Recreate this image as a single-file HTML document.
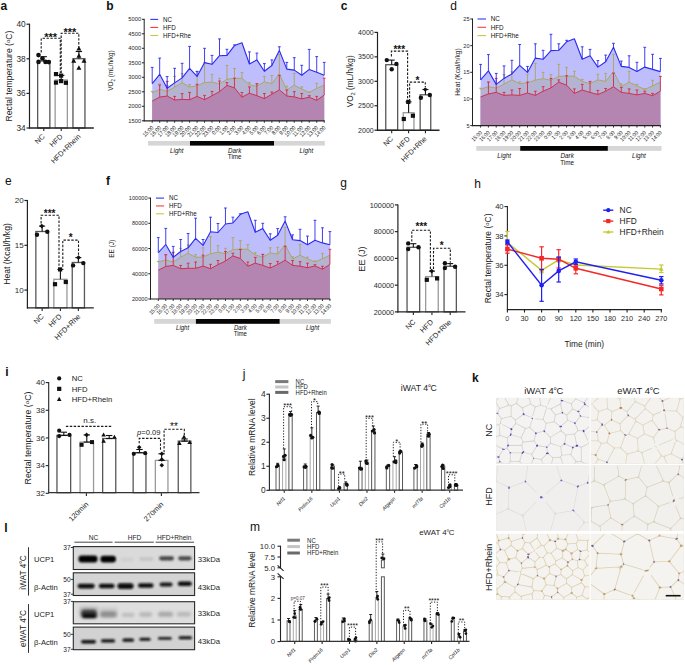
<!DOCTYPE html>
<html><head><meta charset="utf-8"><style>
html,body{margin:0;padding:0;background:#fff;}
body{width:685px;height:665px;overflow:hidden;}
svg{display:block;font-family:"Liberation Sans",sans-serif;}
</style></head><body>
<svg width="685" height="665" viewBox="0 0 685 665">
<rect x="0" y="0" width="685" height="665" fill="#fff"/>
<text x="0.5" y="9.5" font-size="12" font-weight="bold" fill="#111">a</text>
<line x1="29.5" y1="23.7" x2="29.5" y2="128.5" stroke="#222" stroke-width="1.2"/>
<line x1="26.5" y1="24.2" x2="29.5" y2="24.2" stroke="#222" stroke-width="1.2"/>
<text x="25.7" y="27.19" font-size="8.3" text-anchor="end" fill="#2a2a2a">40</text>
<line x1="26.5" y1="58.8" x2="29.5" y2="58.8" stroke="#222" stroke-width="1.2"/>
<text x="25.7" y="61.79" font-size="8.3" text-anchor="end" fill="#2a2a2a">38</text>
<line x1="26.5" y1="93.4" x2="29.5" y2="93.4" stroke="#222" stroke-width="1.2"/>
<text x="25.7" y="96.39" font-size="8.3" text-anchor="end" fill="#2a2a2a">36</text>
<line x1="26.5" y1="128" x2="29.5" y2="128" stroke="#222" stroke-width="1.2"/>
<text x="25.7" y="130.99" font-size="8.3" text-anchor="end" fill="#2a2a2a">34</text>
<line x1="43.75" y1="128" x2="43.75" y2="131" stroke="#222" stroke-width="1.1"/>
<rect x="37.65" y="61" width="12.2" height="67" fill="#fff" stroke="#585858" stroke-width="1.3"/>
<line x1="61.25" y1="128" x2="61.25" y2="131" stroke="#222" stroke-width="1.1"/>
<rect x="55.15" y="80" width="12.2" height="48" fill="#fff" stroke="#9a9a9a" stroke-width="1.3"/>
<line x1="78.95" y1="128" x2="78.95" y2="131" stroke="#222" stroke-width="1.1"/>
<rect x="72.95" y="58.7" width="12" height="69.3" fill="#fff" stroke="#585858" stroke-width="1.3"/>
<line x1="29" y1="128" x2="93.8" y2="128" stroke="#222" stroke-width="1.4"/>
<line x1="43.7" y1="61" x2="43.7" y2="56.7" stroke="#111" stroke-width="1.1"/>
<line x1="40.5" y1="56.7" x2="46.9" y2="56.7" stroke="#111" stroke-width="1.1"/>
<line x1="61.2" y1="80" x2="61.2" y2="75.4" stroke="#111" stroke-width="1.1"/>
<line x1="58" y1="75.4" x2="64.4" y2="75.4" stroke="#111" stroke-width="1.1"/>
<line x1="78.9" y1="58.7" x2="78.9" y2="51.5" stroke="#111" stroke-width="1.1"/>
<line x1="75.7" y1="51.5" x2="82.1" y2="51.5" stroke="#111" stroke-width="1.1"/>
<circle cx="38.5" cy="55.1" r="2.3" fill="#111"/>
<circle cx="42.4" cy="58.5" r="2.3" fill="#111"/>
<circle cx="38.5" cy="61.9" r="2.3" fill="#111"/>
<circle cx="45.5" cy="61.9" r="2.3" fill="#111"/>
<circle cx="48.8" cy="62.1" r="2.3" fill="#111"/>
<rect x="53.9" y="72" width="4.2" height="4.2" fill="#111" stroke="none" stroke-width="1"/>
<rect x="59" y="73.5" width="4.2" height="4.2" fill="#111" stroke="none" stroke-width="1"/>
<rect x="53.9" y="80.5" width="4.2" height="4.2" fill="#111" stroke="none" stroke-width="1"/>
<rect x="59" y="79" width="4.2" height="4.2" fill="#111" stroke="none" stroke-width="1"/>
<rect x="63.8" y="80.7" width="4.2" height="4.2" fill="#111" stroke="none" stroke-width="1"/>
<polygon points="78.9,45.9 76.4,50.4 81.4,50.4" fill="#111" stroke="none" stroke-width="1"/>
<polygon points="78.9,53.2 76.4,57.7 81.4,57.7" fill="#111" stroke="none" stroke-width="1"/>
<polygon points="73.7,58.2 71.2,62.7 76.2,62.7" fill="#111" stroke="none" stroke-width="1"/>
<polygon points="84,58.2 81.5,62.7 86.5,62.7" fill="#111" stroke="none" stroke-width="1"/>
<polygon points="78.9,65.2 76.4,69.7 81.4,69.7" fill="#111" stroke="none" stroke-width="1"/>
<polyline points="41.2,52.5 41.2,38.3 60.3,38.3 60.3,73" fill="none" stroke="#1a1a1a" stroke-width="1.1" stroke-dasharray="2.4,1.5"/>
<polyline points="61.2,73 61.2,33.2 78.8,33.2 78.8,47.2" fill="none" stroke="#1a1a1a" stroke-width="1.1" stroke-dasharray="2.4,1.5"/>
<text x="50.6" y="40.9" font-size="11" text-anchor="middle" font-weight="bold" fill="#111">***</text>
<text x="69.8" y="36" font-size="11" text-anchor="middle" font-weight="bold" fill="#111">***</text>
<text font-size="7.3" text-anchor="end" fill="#222" transform="translate(45.3 137) rotate(-45)">NC</text>
<text font-size="7.3" text-anchor="end" fill="#222" transform="translate(63.2 137) rotate(-45)">HFD</text>
<text font-size="7.3" text-anchor="end" fill="#222" transform="translate(81 137) rotate(-45)">HFD+Rhein</text>
<text font-size="8.6" text-anchor="middle" fill="#222" transform="translate(12 76) rotate(-90)">Rectal temperature (<tspan font-size="70%" dy="-2.2">o</tspan><tspan dy="2.2">C)</tspan></text>
<text x="106.2" y="9.6" font-size="12" font-weight="bold" fill="#111">b</text>
<polygon points="152.2,120.8 152.2,83.6 159.68,74.3 167.16,88.3 174.63,82.9 182.11,77.9 189.59,68.3 197.07,76.4 204.55,62.6 212.02,64.3 219.5,55.7 226.98,55.4 234.46,45.6 241.94,42.8 249.41,64 256.89,59.9 264.37,71.3 271.85,65.5 279.33,50.4 286.8,69.1 294.28,70.1 301.76,75.3 309.24,69.4 316.72,72.3 324.19,75.3 324.19,120.8" fill="#bebefc" stroke="none" stroke-width="1"/>
<polygon points="152.2,120.8 152.2,92.9 159.68,89.3 167.16,91.4 174.63,87.1 182.11,82.6 189.59,87.1 197.07,85.7 204.55,82.6 212.02,82.1 219.5,84 226.98,79.3 234.46,78.3 241.94,78.2 249.41,84.7 256.89,86.2 264.37,81.8 271.85,83.7 279.33,73.8 286.8,89.9 294.28,85.2 301.76,89.1 309.24,92.5 316.72,88.4 324.19,85.2 324.19,120.8" fill="#b4b4d2" stroke="none" stroke-width="1"/>
<polygon points="152.2,120.8 152.2,101.1 159.68,97.1 167.16,96 174.63,100 182.11,99.4 189.59,99.7 197.07,96.4 204.55,99.7 212.02,95.7 219.5,91.7 226.98,85.4 234.46,87.8 241.94,97.2 249.41,93.2 256.89,95.7 264.37,98.6 271.85,94.2 279.33,89.9 286.8,96 294.28,96.9 301.76,98.9 309.24,97.2 316.72,100.4 324.19,95 324.19,120.8" fill="#b385b0" stroke="none" stroke-width="1"/>
<line x1="152.2" y1="92.9" x2="152.2" y2="91.4" stroke="#aca55a" stroke-width="0.9"/>
<line x1="150.8" y1="91.4" x2="153.6" y2="91.4" stroke="#aca55a" stroke-width="0.9"/>
<line x1="159.68" y1="89.3" x2="159.68" y2="84" stroke="#aca55a" stroke-width="0.9"/>
<line x1="158.28" y1="84" x2="161.08" y2="84" stroke="#aca55a" stroke-width="0.9"/>
<line x1="167.16" y1="91.4" x2="167.16" y2="85.7" stroke="#aca55a" stroke-width="0.9"/>
<line x1="165.76" y1="85.7" x2="168.56" y2="85.7" stroke="#aca55a" stroke-width="0.9"/>
<line x1="174.63" y1="87.1" x2="174.63" y2="76.4" stroke="#aca55a" stroke-width="0.9"/>
<line x1="173.23" y1="76.4" x2="176.03" y2="76.4" stroke="#aca55a" stroke-width="0.9"/>
<line x1="182.11" y1="82.6" x2="182.11" y2="73.6" stroke="#aca55a" stroke-width="0.9"/>
<line x1="180.71" y1="73.6" x2="183.51" y2="73.6" stroke="#aca55a" stroke-width="0.9"/>
<line x1="189.59" y1="87.1" x2="189.59" y2="84.6" stroke="#aca55a" stroke-width="0.9"/>
<line x1="188.19" y1="84.6" x2="190.99" y2="84.6" stroke="#aca55a" stroke-width="0.9"/>
<line x1="197.07" y1="85.7" x2="197.07" y2="71.4" stroke="#aca55a" stroke-width="0.9"/>
<line x1="195.67" y1="71.4" x2="198.47" y2="71.4" stroke="#aca55a" stroke-width="0.9"/>
<line x1="204.55" y1="82.6" x2="204.55" y2="62.6" stroke="#aca55a" stroke-width="0.9"/>
<line x1="203.15" y1="62.6" x2="205.95" y2="62.6" stroke="#aca55a" stroke-width="0.9"/>
<line x1="212.02" y1="82.1" x2="212.02" y2="74.3" stroke="#aca55a" stroke-width="0.9"/>
<line x1="210.62" y1="74.3" x2="213.42" y2="74.3" stroke="#aca55a" stroke-width="0.9"/>
<line x1="219.5" y1="84" x2="219.5" y2="78.3" stroke="#aca55a" stroke-width="0.9"/>
<line x1="218.1" y1="78.3" x2="220.9" y2="78.3" stroke="#aca55a" stroke-width="0.9"/>
<line x1="226.98" y1="79.3" x2="226.98" y2="65.4" stroke="#aca55a" stroke-width="0.9"/>
<line x1="225.58" y1="65.4" x2="228.38" y2="65.4" stroke="#aca55a" stroke-width="0.9"/>
<line x1="234.46" y1="78.3" x2="234.46" y2="68.5" stroke="#aca55a" stroke-width="0.9"/>
<line x1="233.06" y1="68.5" x2="235.86" y2="68.5" stroke="#aca55a" stroke-width="0.9"/>
<line x1="241.94" y1="78.2" x2="241.94" y2="72.6" stroke="#aca55a" stroke-width="0.9"/>
<line x1="240.54" y1="72.6" x2="243.34" y2="72.6" stroke="#aca55a" stroke-width="0.9"/>
<line x1="249.41" y1="84.7" x2="249.41" y2="82.6" stroke="#aca55a" stroke-width="0.9"/>
<line x1="248.01" y1="82.6" x2="250.81" y2="82.6" stroke="#aca55a" stroke-width="0.9"/>
<line x1="256.89" y1="86.2" x2="256.89" y2="83.7" stroke="#aca55a" stroke-width="0.9"/>
<line x1="255.49" y1="83.7" x2="258.29" y2="83.7" stroke="#aca55a" stroke-width="0.9"/>
<line x1="264.37" y1="81.8" x2="264.37" y2="76.4" stroke="#aca55a" stroke-width="0.9"/>
<line x1="262.97" y1="76.4" x2="265.77" y2="76.4" stroke="#aca55a" stroke-width="0.9"/>
<line x1="271.85" y1="83.7" x2="271.85" y2="75.5" stroke="#aca55a" stroke-width="0.9"/>
<line x1="270.45" y1="75.5" x2="273.25" y2="75.5" stroke="#aca55a" stroke-width="0.9"/>
<line x1="279.33" y1="73.8" x2="279.33" y2="54.5" stroke="#aca55a" stroke-width="0.9"/>
<line x1="277.93" y1="54.5" x2="280.73" y2="54.5" stroke="#aca55a" stroke-width="0.9"/>
<line x1="286.8" y1="89.9" x2="286.8" y2="86.2" stroke="#aca55a" stroke-width="0.9"/>
<line x1="285.4" y1="86.2" x2="288.2" y2="86.2" stroke="#aca55a" stroke-width="0.9"/>
<line x1="294.28" y1="85.2" x2="294.28" y2="73.4" stroke="#aca55a" stroke-width="0.9"/>
<line x1="292.88" y1="73.4" x2="295.68" y2="73.4" stroke="#aca55a" stroke-width="0.9"/>
<line x1="301.76" y1="89.1" x2="301.76" y2="86.9" stroke="#aca55a" stroke-width="0.9"/>
<line x1="300.36" y1="86.9" x2="303.16" y2="86.9" stroke="#aca55a" stroke-width="0.9"/>
<line x1="309.24" y1="92.5" x2="309.24" y2="92" stroke="#aca55a" stroke-width="0.9"/>
<line x1="307.84" y1="92" x2="310.64" y2="92" stroke="#aca55a" stroke-width="0.9"/>
<line x1="316.72" y1="88.4" x2="316.72" y2="83.3" stroke="#aca55a" stroke-width="0.9"/>
<line x1="315.32" y1="83.3" x2="318.12" y2="83.3" stroke="#aca55a" stroke-width="0.9"/>
<polyline points="152.2,92.9 159.68,89.3 167.16,91.4 174.63,87.1 182.11,82.6 189.59,87.1 197.07,85.7 204.55,82.6 212.02,82.1 219.5,84 226.98,79.3 234.46,78.3 241.94,78.2 249.41,84.7 256.89,86.2 264.37,81.8 271.85,83.7 279.33,73.8 286.8,89.9 294.28,85.2 301.76,89.1 309.24,92.5 316.72,88.4 324.19,85.2" fill="none" stroke="#aca55a" stroke-width="0.95" stroke-linejoin="round"/>
<line x1="159.68" y1="97.1" x2="159.68" y2="85" stroke="#d2284e" stroke-width="0.9"/>
<line x1="158.28" y1="85" x2="161.08" y2="85" stroke="#d2284e" stroke-width="0.9"/>
<line x1="167.16" y1="96" x2="167.16" y2="81.4" stroke="#d2284e" stroke-width="0.9"/>
<line x1="165.76" y1="81.4" x2="168.56" y2="81.4" stroke="#d2284e" stroke-width="0.9"/>
<line x1="174.63" y1="100" x2="174.63" y2="96.4" stroke="#d2284e" stroke-width="0.9"/>
<line x1="173.23" y1="96.4" x2="176.03" y2="96.4" stroke="#d2284e" stroke-width="0.9"/>
<line x1="182.11" y1="99.4" x2="182.11" y2="93.6" stroke="#d2284e" stroke-width="0.9"/>
<line x1="180.71" y1="93.6" x2="183.51" y2="93.6" stroke="#d2284e" stroke-width="0.9"/>
<line x1="189.59" y1="99.7" x2="189.59" y2="92.4" stroke="#d2284e" stroke-width="0.9"/>
<line x1="188.19" y1="92.4" x2="190.99" y2="92.4" stroke="#d2284e" stroke-width="0.9"/>
<line x1="197.07" y1="96.4" x2="197.07" y2="84.3" stroke="#d2284e" stroke-width="0.9"/>
<line x1="195.67" y1="84.3" x2="198.47" y2="84.3" stroke="#d2284e" stroke-width="0.9"/>
<line x1="204.55" y1="99.7" x2="204.55" y2="95.4" stroke="#d2284e" stroke-width="0.9"/>
<line x1="203.15" y1="95.4" x2="205.95" y2="95.4" stroke="#d2284e" stroke-width="0.9"/>
<line x1="212.02" y1="95.7" x2="212.02" y2="91.4" stroke="#d2284e" stroke-width="0.9"/>
<line x1="210.62" y1="91.4" x2="213.42" y2="91.4" stroke="#d2284e" stroke-width="0.9"/>
<line x1="219.5" y1="91.7" x2="219.5" y2="81.1" stroke="#d2284e" stroke-width="0.9"/>
<line x1="218.1" y1="81.1" x2="220.9" y2="81.1" stroke="#d2284e" stroke-width="0.9"/>
<line x1="226.98" y1="85.4" x2="226.98" y2="82.6" stroke="#d2284e" stroke-width="0.9"/>
<line x1="225.58" y1="82.6" x2="228.38" y2="82.6" stroke="#d2284e" stroke-width="0.9"/>
<line x1="234.46" y1="87.8" x2="234.46" y2="78.2" stroke="#d2284e" stroke-width="0.9"/>
<line x1="233.06" y1="78.2" x2="235.86" y2="78.2" stroke="#d2284e" stroke-width="0.9"/>
<line x1="241.94" y1="97.2" x2="241.94" y2="92.5" stroke="#d2284e" stroke-width="0.9"/>
<line x1="240.54" y1="92.5" x2="243.34" y2="92.5" stroke="#d2284e" stroke-width="0.9"/>
<line x1="249.41" y1="93.2" x2="249.41" y2="86.9" stroke="#d2284e" stroke-width="0.9"/>
<line x1="248.01" y1="86.9" x2="250.81" y2="86.9" stroke="#d2284e" stroke-width="0.9"/>
<line x1="256.89" y1="95.7" x2="256.89" y2="83.7" stroke="#d2284e" stroke-width="0.9"/>
<line x1="255.49" y1="83.7" x2="258.29" y2="83.7" stroke="#d2284e" stroke-width="0.9"/>
<line x1="264.37" y1="98.6" x2="264.37" y2="93.5" stroke="#d2284e" stroke-width="0.9"/>
<line x1="262.97" y1="93.5" x2="265.77" y2="93.5" stroke="#d2284e" stroke-width="0.9"/>
<line x1="271.85" y1="94.2" x2="271.85" y2="92" stroke="#d2284e" stroke-width="0.9"/>
<line x1="270.45" y1="92" x2="273.25" y2="92" stroke="#d2284e" stroke-width="0.9"/>
<line x1="279.33" y1="89.9" x2="279.33" y2="75.3" stroke="#d2284e" stroke-width="0.9"/>
<line x1="277.93" y1="75.3" x2="280.73" y2="75.3" stroke="#d2284e" stroke-width="0.9"/>
<line x1="286.8" y1="96" x2="286.8" y2="90.1" stroke="#d2284e" stroke-width="0.9"/>
<line x1="285.4" y1="90.1" x2="288.2" y2="90.1" stroke="#d2284e" stroke-width="0.9"/>
<line x1="294.28" y1="96.9" x2="294.28" y2="91.6" stroke="#d2284e" stroke-width="0.9"/>
<line x1="292.88" y1="91.6" x2="295.68" y2="91.6" stroke="#d2284e" stroke-width="0.9"/>
<line x1="301.76" y1="98.9" x2="301.76" y2="93.5" stroke="#d2284e" stroke-width="0.9"/>
<line x1="300.36" y1="93.5" x2="303.16" y2="93.5" stroke="#d2284e" stroke-width="0.9"/>
<line x1="309.24" y1="97.2" x2="309.24" y2="95.7" stroke="#d2284e" stroke-width="0.9"/>
<line x1="307.84" y1="95.7" x2="310.64" y2="95.7" stroke="#d2284e" stroke-width="0.9"/>
<line x1="316.72" y1="100.4" x2="316.72" y2="96.4" stroke="#d2284e" stroke-width="0.9"/>
<line x1="315.32" y1="96.4" x2="318.12" y2="96.4" stroke="#d2284e" stroke-width="0.9"/>
<line x1="324.19" y1="95" x2="324.19" y2="78.2" stroke="#d2284e" stroke-width="0.9"/>
<line x1="322.79" y1="78.2" x2="325.59" y2="78.2" stroke="#d2284e" stroke-width="0.9"/>
<polyline points="152.2,101.1 159.68,97.1 167.16,96 174.63,100 182.11,99.4 189.59,99.7 197.07,96.4 204.55,99.7 212.02,95.7 219.5,91.7 226.98,85.4 234.46,87.8 241.94,97.2 249.41,93.2 256.89,95.7 264.37,98.6 271.85,94.2 279.33,89.9 286.8,96 294.28,96.9 301.76,98.9 309.24,97.2 316.72,100.4 324.19,95" fill="none" stroke="#d2284e" stroke-width="0.95" stroke-linejoin="round"/>
<line x1="152.2" y1="83.6" x2="152.2" y2="67.4" stroke="#2a2af2" stroke-width="0.9"/>
<line x1="150.8" y1="67.4" x2="153.6" y2="67.4" stroke="#2a2af2" stroke-width="0.9"/>
<line x1="159.68" y1="74.3" x2="159.68" y2="58.1" stroke="#2a2af2" stroke-width="0.9"/>
<line x1="158.28" y1="58.1" x2="161.08" y2="58.1" stroke="#2a2af2" stroke-width="0.9"/>
<line x1="167.16" y1="88.3" x2="167.16" y2="76.6" stroke="#2a2af2" stroke-width="0.9"/>
<line x1="165.76" y1="76.6" x2="168.56" y2="76.6" stroke="#2a2af2" stroke-width="0.9"/>
<line x1="174.63" y1="82.9" x2="174.63" y2="68.3" stroke="#2a2af2" stroke-width="0.9"/>
<line x1="173.23" y1="68.3" x2="176.03" y2="68.3" stroke="#2a2af2" stroke-width="0.9"/>
<line x1="182.11" y1="77.9" x2="182.11" y2="63.3" stroke="#2a2af2" stroke-width="0.9"/>
<line x1="180.71" y1="63.3" x2="183.51" y2="63.3" stroke="#2a2af2" stroke-width="0.9"/>
<line x1="189.59" y1="68.3" x2="189.59" y2="46.4" stroke="#2a2af2" stroke-width="0.9"/>
<line x1="188.19" y1="46.4" x2="190.99" y2="46.4" stroke="#2a2af2" stroke-width="0.9"/>
<line x1="197.07" y1="76.4" x2="197.07" y2="71.4" stroke="#2a2af2" stroke-width="0.9"/>
<line x1="195.67" y1="71.4" x2="198.47" y2="71.4" stroke="#2a2af2" stroke-width="0.9"/>
<line x1="204.55" y1="62.6" x2="204.55" y2="48.3" stroke="#2a2af2" stroke-width="0.9"/>
<line x1="203.15" y1="48.3" x2="205.95" y2="48.3" stroke="#2a2af2" stroke-width="0.9"/>
<line x1="212.02" y1="64.3" x2="212.02" y2="55.4" stroke="#2a2af2" stroke-width="0.9"/>
<line x1="210.62" y1="55.4" x2="213.42" y2="55.4" stroke="#2a2af2" stroke-width="0.9"/>
<line x1="219.5" y1="55.7" x2="219.5" y2="38.9" stroke="#2a2af2" stroke-width="0.9"/>
<line x1="218.1" y1="38.9" x2="220.9" y2="38.9" stroke="#2a2af2" stroke-width="0.9"/>
<line x1="226.98" y1="55.4" x2="226.98" y2="49.3" stroke="#2a2af2" stroke-width="0.9"/>
<line x1="225.58" y1="49.3" x2="228.38" y2="49.3" stroke="#2a2af2" stroke-width="0.9"/>
<line x1="234.46" y1="45.6" x2="234.46" y2="44.9" stroke="#2a2af2" stroke-width="0.9"/>
<line x1="233.06" y1="44.9" x2="235.86" y2="44.9" stroke="#2a2af2" stroke-width="0.9"/>
<line x1="249.41" y1="64" x2="249.41" y2="51.9" stroke="#2a2af2" stroke-width="0.9"/>
<line x1="248.01" y1="51.9" x2="250.81" y2="51.9" stroke="#2a2af2" stroke-width="0.9"/>
<line x1="256.89" y1="59.9" x2="256.89" y2="53.1" stroke="#2a2af2" stroke-width="0.9"/>
<line x1="255.49" y1="53.1" x2="258.29" y2="53.1" stroke="#2a2af2" stroke-width="0.9"/>
<line x1="264.37" y1="71.3" x2="264.37" y2="63.6" stroke="#2a2af2" stroke-width="0.9"/>
<line x1="262.97" y1="63.6" x2="265.77" y2="63.6" stroke="#2a2af2" stroke-width="0.9"/>
<line x1="271.85" y1="65.5" x2="271.85" y2="59.9" stroke="#2a2af2" stroke-width="0.9"/>
<line x1="270.45" y1="59.9" x2="273.25" y2="59.9" stroke="#2a2af2" stroke-width="0.9"/>
<line x1="279.33" y1="50.4" x2="279.33" y2="46.8" stroke="#2a2af2" stroke-width="0.9"/>
<line x1="277.93" y1="46.8" x2="280.73" y2="46.8" stroke="#2a2af2" stroke-width="0.9"/>
<line x1="286.8" y1="69.1" x2="286.8" y2="62.4" stroke="#2a2af2" stroke-width="0.9"/>
<line x1="285.4" y1="62.4" x2="288.2" y2="62.4" stroke="#2a2af2" stroke-width="0.9"/>
<line x1="294.28" y1="70.1" x2="294.28" y2="57.7" stroke="#2a2af2" stroke-width="0.9"/>
<line x1="292.88" y1="57.7" x2="295.68" y2="57.7" stroke="#2a2af2" stroke-width="0.9"/>
<line x1="301.76" y1="75.3" x2="301.76" y2="65.3" stroke="#2a2af2" stroke-width="0.9"/>
<line x1="300.36" y1="65.3" x2="303.16" y2="65.3" stroke="#2a2af2" stroke-width="0.9"/>
<line x1="309.24" y1="69.4" x2="309.24" y2="49.4" stroke="#2a2af2" stroke-width="0.9"/>
<line x1="307.84" y1="49.4" x2="310.64" y2="49.4" stroke="#2a2af2" stroke-width="0.9"/>
<line x1="316.72" y1="72.3" x2="316.72" y2="56.6" stroke="#2a2af2" stroke-width="0.9"/>
<line x1="315.32" y1="56.6" x2="318.12" y2="56.6" stroke="#2a2af2" stroke-width="0.9"/>
<line x1="324.19" y1="75.3" x2="324.19" y2="62.4" stroke="#2a2af2" stroke-width="0.9"/>
<line x1="322.79" y1="62.4" x2="325.59" y2="62.4" stroke="#2a2af2" stroke-width="0.9"/>
<polyline points="152.2,83.6 159.68,74.3 167.16,88.3 174.63,82.9 182.11,77.9 189.59,68.3 197.07,76.4 204.55,62.6 212.02,64.3 219.5,55.7 226.98,55.4 234.46,45.6 241.94,42.8 249.41,64 256.89,59.9 264.37,71.3 271.85,65.5 279.33,50.4 286.8,69.1 294.28,70.1 301.76,75.3 309.24,69.4 316.72,72.3 324.19,75.3" fill="none" stroke="#2a2af2" stroke-width="1.1" stroke-linejoin="round"/>
<line x1="144.2" y1="18.8" x2="144.2" y2="121.3" stroke="#222" stroke-width="1"/>
<line x1="142" y1="19.3" x2="144.2" y2="19.3" stroke="#222" stroke-width="1"/>
<text x="141.2" y="21.39" font-size="5.8" text-anchor="end" fill="#2a2a2a">5000</text>
<line x1="142" y1="33.8" x2="144.2" y2="33.8" stroke="#222" stroke-width="1"/>
<text x="141.2" y="35.89" font-size="5.8" text-anchor="end" fill="#2a2a2a">4500</text>
<line x1="142" y1="48.3" x2="144.2" y2="48.3" stroke="#222" stroke-width="1"/>
<text x="141.2" y="50.39" font-size="5.8" text-anchor="end" fill="#2a2a2a">4000</text>
<line x1="142" y1="62.8" x2="144.2" y2="62.8" stroke="#222" stroke-width="1"/>
<text x="141.2" y="64.89" font-size="5.8" text-anchor="end" fill="#2a2a2a">3500</text>
<line x1="142" y1="77.3" x2="144.2" y2="77.3" stroke="#222" stroke-width="1"/>
<text x="141.2" y="79.39" font-size="5.8" text-anchor="end" fill="#2a2a2a">3000</text>
<line x1="142" y1="91.8" x2="144.2" y2="91.8" stroke="#222" stroke-width="1"/>
<text x="141.2" y="93.89" font-size="5.8" text-anchor="end" fill="#2a2a2a">2500</text>
<line x1="142" y1="106.3" x2="144.2" y2="106.3" stroke="#222" stroke-width="1"/>
<text x="141.2" y="108.39" font-size="5.8" text-anchor="end" fill="#2a2a2a">2000</text>
<line x1="142" y1="120.8" x2="144.2" y2="120.8" stroke="#222" stroke-width="1"/>
<text x="141.2" y="122.89" font-size="5.8" text-anchor="end" fill="#2a2a2a">1500</text>
<line x1="143.7" y1="120.8" x2="324.69" y2="120.8" stroke="#222" stroke-width="1.2"/>
<line x1="152.2" y1="120.8" x2="152.2" y2="122.8" stroke="#222" stroke-width="0.9"/>
<text font-size="5.82" text-anchor="end" fill="#1a1a1a" transform="translate(154 128.2) rotate(-45) scale(0.880 1)">15:00</text>
<line x1="159.68" y1="120.8" x2="159.68" y2="122.8" stroke="#222" stroke-width="0.9"/>
<text font-size="5.82" text-anchor="end" fill="#1a1a1a" transform="translate(161.48 128.2) rotate(-45) scale(0.880 1)">16:00</text>
<line x1="167.16" y1="120.8" x2="167.16" y2="122.8" stroke="#222" stroke-width="0.9"/>
<text font-size="5.82" text-anchor="end" fill="#1a1a1a" transform="translate(168.96 128.2) rotate(-45) scale(0.880 1)">17:00</text>
<line x1="174.63" y1="120.8" x2="174.63" y2="122.8" stroke="#222" stroke-width="0.9"/>
<text font-size="5.82" text-anchor="end" fill="#1a1a1a" transform="translate(176.43 128.2) rotate(-45) scale(0.880 1)">18:00</text>
<line x1="182.11" y1="120.8" x2="182.11" y2="122.8" stroke="#222" stroke-width="0.9"/>
<text font-size="5.82" text-anchor="end" fill="#1a1a1a" transform="translate(183.91 128.2) rotate(-45) scale(0.880 1)">19:00</text>
<line x1="189.59" y1="120.8" x2="189.59" y2="122.8" stroke="#222" stroke-width="0.9"/>
<text font-size="5.82" text-anchor="end" fill="#1a1a1a" transform="translate(191.39 128.2) rotate(-45) scale(0.880 1)">20:00</text>
<line x1="197.07" y1="120.8" x2="197.07" y2="122.8" stroke="#222" stroke-width="0.9"/>
<text font-size="5.82" text-anchor="end" fill="#1a1a1a" transform="translate(198.87 128.2) rotate(-45) scale(0.880 1)">21:00</text>
<line x1="204.55" y1="120.8" x2="204.55" y2="122.8" stroke="#222" stroke-width="0.9"/>
<text font-size="5.82" text-anchor="end" fill="#1a1a1a" transform="translate(206.35 128.2) rotate(-45) scale(0.880 1)">22:00</text>
<line x1="212.02" y1="120.8" x2="212.02" y2="122.8" stroke="#222" stroke-width="0.9"/>
<text font-size="5.82" text-anchor="end" fill="#1a1a1a" transform="translate(213.82 128.2) rotate(-45) scale(0.880 1)">23:00</text>
<line x1="219.5" y1="120.8" x2="219.5" y2="122.8" stroke="#222" stroke-width="0.9"/>
<text font-size="5.82" text-anchor="end" fill="#1a1a1a" transform="translate(221.3 128.2) rotate(-45) scale(0.880 1)">0:00</text>
<line x1="226.98" y1="120.8" x2="226.98" y2="122.8" stroke="#222" stroke-width="0.9"/>
<text font-size="5.82" text-anchor="end" fill="#1a1a1a" transform="translate(228.78 128.2) rotate(-45) scale(0.880 1)">1:00</text>
<line x1="234.46" y1="120.8" x2="234.46" y2="122.8" stroke="#222" stroke-width="0.9"/>
<text font-size="5.82" text-anchor="end" fill="#1a1a1a" transform="translate(236.26 128.2) rotate(-45) scale(0.880 1)">2:00</text>
<line x1="241.94" y1="120.8" x2="241.94" y2="122.8" stroke="#222" stroke-width="0.9"/>
<text font-size="5.82" text-anchor="end" fill="#1a1a1a" transform="translate(243.74 128.2) rotate(-45) scale(0.880 1)">3:00</text>
<line x1="249.41" y1="120.8" x2="249.41" y2="122.8" stroke="#222" stroke-width="0.9"/>
<text font-size="5.82" text-anchor="end" fill="#1a1a1a" transform="translate(251.21 128.2) rotate(-45) scale(0.880 1)">4:00</text>
<line x1="256.89" y1="120.8" x2="256.89" y2="122.8" stroke="#222" stroke-width="0.9"/>
<text font-size="5.82" text-anchor="end" fill="#1a1a1a" transform="translate(258.69 128.2) rotate(-45) scale(0.880 1)">5:00</text>
<line x1="264.37" y1="120.8" x2="264.37" y2="122.8" stroke="#222" stroke-width="0.9"/>
<text font-size="5.82" text-anchor="end" fill="#1a1a1a" transform="translate(266.17 128.2) rotate(-45) scale(0.880 1)">6:00</text>
<line x1="271.85" y1="120.8" x2="271.85" y2="122.8" stroke="#222" stroke-width="0.9"/>
<text font-size="5.82" text-anchor="end" fill="#1a1a1a" transform="translate(273.65 128.2) rotate(-45) scale(0.880 1)">7:00</text>
<line x1="279.33" y1="120.8" x2="279.33" y2="122.8" stroke="#222" stroke-width="0.9"/>
<text font-size="5.82" text-anchor="end" fill="#1a1a1a" transform="translate(281.13 128.2) rotate(-45) scale(0.880 1)">8:00</text>
<line x1="286.8" y1="120.8" x2="286.8" y2="122.8" stroke="#222" stroke-width="0.9"/>
<text font-size="5.82" text-anchor="end" fill="#1a1a1a" transform="translate(288.6 128.2) rotate(-45) scale(0.880 1)">9:00</text>
<line x1="294.28" y1="120.8" x2="294.28" y2="122.8" stroke="#222" stroke-width="0.9"/>
<text font-size="5.82" text-anchor="end" fill="#1a1a1a" transform="translate(296.08 128.2) rotate(-45) scale(0.880 1)">10:00</text>
<line x1="301.76" y1="120.8" x2="301.76" y2="122.8" stroke="#222" stroke-width="0.9"/>
<text font-size="5.82" text-anchor="end" fill="#1a1a1a" transform="translate(303.56 128.2) rotate(-45) scale(0.880 1)">11:00</text>
<line x1="309.24" y1="120.8" x2="309.24" y2="122.8" stroke="#222" stroke-width="0.9"/>
<text font-size="5.82" text-anchor="end" fill="#1a1a1a" transform="translate(311.04 128.2) rotate(-45) scale(0.880 1)">12:00</text>
<line x1="316.72" y1="120.8" x2="316.72" y2="122.8" stroke="#222" stroke-width="0.9"/>
<text font-size="5.82" text-anchor="end" fill="#1a1a1a" transform="translate(318.52 128.2) rotate(-45) scale(0.880 1)">13:00</text>
<line x1="324.19" y1="120.8" x2="324.19" y2="122.8" stroke="#222" stroke-width="0.9"/>
<text font-size="5.82" text-anchor="end" fill="#1a1a1a" transform="translate(325.99 128.2) rotate(-45) scale(0.880 1)">14:00</text>
<line x1="150.3" y1="19.4" x2="158.2" y2="19.4" stroke="#3434ff" stroke-width="1.1"/>
<text font-size="6.45" fill="#111" transform="translate(163 21.72) scale(0.970 1)">NC</text>
<line x1="150.3" y1="27.45" x2="158.2" y2="27.45" stroke="#ff3a3a" stroke-width="1.1"/>
<text font-size="6.45" fill="#111" transform="translate(163 29.77) scale(0.970 1)">HFD</text>
<line x1="150.3" y1="35.5" x2="158.2" y2="35.5" stroke="#c8c84a" stroke-width="1.1"/>
<text font-size="6.45" fill="#111" transform="translate(163 37.82) scale(0.970 1)">HFD+Rhe</text>
<rect x="148" y="141" width="42" height="4.6" fill="#d6d6d6" stroke="none" stroke-width="1"/>
<rect x="190" y="141" width="84" height="4.6" fill="#050505" stroke="none" stroke-width="1"/>
<rect x="274" y="141" width="50.8" height="4.6" fill="#d6d6d6" stroke="none" stroke-width="1"/>
<text font-size="6.6" text-anchor="middle" font-style="italic" fill="#111" transform="translate(176.8 152.6) scale(0.950 1)">Light</text>
<text font-size="6.6" text-anchor="middle" font-style="italic" fill="#111" transform="translate(234.7 152.6) scale(0.950 1)">Dark</text>
<text font-size="6.6" text-anchor="middle" font-style="italic" fill="#111" transform="translate(306.4 152.6) scale(0.950 1)">Light</text>
<text font-size="6.6" text-anchor="middle" fill="#111" transform="translate(234.7 158.8) scale(0.950 1)">Time</text>
<text font-size="6.4" text-anchor="middle" fill="#222" transform="translate(113.2 70.5) rotate(-90)">VO<tspan font-size="70%" dy="1.5">2</tspan><tspan dy="-1.5"> (mL/h/kg)</tspan></text>
<text x="340.8" y="9.6" font-size="12" font-weight="bold" fill="#111">c</text>
<line x1="377.5" y1="31.9" x2="377.5" y2="130.7" stroke="#222" stroke-width="1.2"/>
<line x1="374.5" y1="32.4" x2="377.5" y2="32.4" stroke="#222" stroke-width="1.2"/>
<text x="373.7" y="34.92" font-size="7" text-anchor="end" fill="#2a2a2a">4000</text>
<line x1="374.5" y1="56.85" x2="377.5" y2="56.85" stroke="#222" stroke-width="1.2"/>
<text x="373.7" y="59.37" font-size="7" text-anchor="end" fill="#2a2a2a">3500</text>
<line x1="374.5" y1="81.3" x2="377.5" y2="81.3" stroke="#222" stroke-width="1.2"/>
<text x="373.7" y="83.82" font-size="7" text-anchor="end" fill="#2a2a2a">3000</text>
<line x1="374.5" y1="105.75" x2="377.5" y2="105.75" stroke="#222" stroke-width="1.2"/>
<text x="373.7" y="108.27" font-size="7" text-anchor="end" fill="#2a2a2a">2500</text>
<line x1="374.5" y1="130.2" x2="377.5" y2="130.2" stroke="#222" stroke-width="1.2"/>
<text x="373.7" y="132.72" font-size="7" text-anchor="end" fill="#2a2a2a">2000</text>
<line x1="391.7" y1="130.2" x2="391.7" y2="133.2" stroke="#222" stroke-width="1.1"/>
<rect x="385.75" y="64.7" width="11.9" height="65.5" fill="#fff" stroke="#585858" stroke-width="1.3"/>
<line x1="408.6" y1="130.2" x2="408.6" y2="133.2" stroke="#222" stroke-width="1.1"/>
<rect x="403.25" y="112.7" width="10.7" height="17.5" fill="#fff" stroke="#9a9a9a" stroke-width="1.3"/>
<line x1="425.45" y1="130.2" x2="425.45" y2="133.2" stroke="#222" stroke-width="1.1"/>
<rect x="420.15" y="94.8" width="10.6" height="35.4" fill="#fff" stroke="#585858" stroke-width="1.3"/>
<line x1="377" y1="130.2" x2="439.5" y2="130.2" stroke="#222" stroke-width="1.4"/>
<line x1="391.7" y1="64.7" x2="391.7" y2="60.1" stroke="#111" stroke-width="1.1"/>
<line x1="388.7" y1="60.1" x2="394.7" y2="60.1" stroke="#111" stroke-width="1.1"/>
<line x1="408.6" y1="112.7" x2="408.6" y2="101.9" stroke="#111" stroke-width="1.1"/>
<line x1="405.6" y1="101.9" x2="411.6" y2="101.9" stroke="#111" stroke-width="1.1"/>
<line x1="425.45" y1="94.8" x2="425.45" y2="89.5" stroke="#111" stroke-width="1.1"/>
<line x1="422.45" y1="89.5" x2="428.45" y2="89.5" stroke="#111" stroke-width="1.1"/>
<circle cx="386.8" cy="60.1" r="2.2" fill="#111"/>
<circle cx="396.4" cy="63.9" r="2.2" fill="#111"/>
<circle cx="391.7" cy="69.3" r="2.2" fill="#111"/>
<rect x="406.2" y="99.8" width="4.2" height="4.2" fill="#111" stroke="none" stroke-width="1"/>
<rect x="401.7" y="116.9" width="4.2" height="4.2" fill="#111" stroke="none" stroke-width="1"/>
<rect x="410.8" y="113.6" width="4.2" height="4.2" fill="#111" stroke="none" stroke-width="1"/>
<circle cx="420.9" cy="97.8" r="2.2" fill="#111"/>
<circle cx="429.8" cy="95" r="2.2" fill="#111"/>
<polygon points="425.3,87.2 427.6,89.5 425.3,91.8 423,89.5" fill="#111" stroke="none" stroke-width="1"/>
<polyline points="391.4,56.4 391.4,51.1 407.6,51.1 407.6,101.4" fill="none" stroke="#1a1a1a" stroke-width="1.1" stroke-dasharray="2.4,1.5"/>
<polyline points="409.6,101.4 409.6,82.1 425.3,82.1 425.3,87" fill="none" stroke="#1a1a1a" stroke-width="1.1" stroke-dasharray="2.4,1.5"/>
<text x="399.3" y="53" font-size="10" text-anchor="middle" font-weight="bold" fill="#111">***</text>
<text x="417.5" y="83.7" font-size="10" text-anchor="middle" font-weight="bold" fill="#111">*</text>
<text font-size="7.3" text-anchor="end" fill="#222" transform="translate(393.6 139.3) rotate(-45)">NC</text>
<text font-size="7.3" text-anchor="end" fill="#222" transform="translate(410.4 139.3) rotate(-45)">HFD</text>
<text font-size="7.3" text-anchor="end" fill="#222" transform="translate(427.2 139.3) rotate(-45)">HFD+Rhe</text>
<text font-size="8.2" text-anchor="middle" fill="#222" transform="translate(353.2 81.3) rotate(-90)">VO<tspan font-size="70%" dy="1.5">2</tspan><tspan dy="-1.5"> (mL/h/kg)</tspan></text>
<text x="450.3" y="9.6" font-size="12" fill="#111">d</text>
<polygon points="480.6,125.6 480.6,79.9 488.42,70.9 496.23,84.4 504.05,78.4 511.87,73.9 519.69,65.3 527.5,72.4 535.32,58.1 543.14,59.3 550.95,50.6 558.77,50.3 566.59,41.8 574.4,38.8 582.22,59.3 590.04,55.8 597.86,67.1 605.67,61.8 613.49,47.3 621.31,66.4 629.12,67.4 636.94,71.6 644.76,67.1 652.57,69.4 660.39,71.6 660.39,125.6" fill="#bebefc" stroke="none" stroke-width="1"/>
<polygon points="480.6,125.6 480.6,89.2 488.42,86.7 496.23,88 504.05,84.2 511.87,79.7 519.69,83.8 527.5,82.7 535.32,80.2 543.14,78.7 550.95,80.3 558.77,76.4 566.59,75.8 574.4,76.4 582.22,81.4 590.04,83.6 597.86,79.9 605.67,81.4 613.49,71.6 621.31,86.7 629.12,82.1 636.94,85.9 644.76,89.4 652.57,85.9 660.39,82.1 660.39,125.6" fill="#b4b4d2" stroke="none" stroke-width="1"/>
<polygon points="480.6,125.6 480.6,96.9 488.42,93.9 496.23,92.4 504.05,95.4 511.87,94.9 519.69,95.4 527.5,93 535.32,95.4 543.14,91.2 550.95,87.9 558.77,82.1 566.59,85.2 574.4,93.4 582.22,90 590.04,92.4 597.86,94.5 605.67,91.2 613.49,86.7 621.31,92.4 629.12,93.4 636.94,94.9 644.76,93.4 652.57,95.7 660.39,91.2 660.39,125.6" fill="#b385b0" stroke="none" stroke-width="1"/>
<line x1="480.6" y1="89.2" x2="480.6" y2="88.2" stroke="#aca55a" stroke-width="0.9"/>
<line x1="479.2" y1="88.2" x2="482" y2="88.2" stroke="#aca55a" stroke-width="0.9"/>
<line x1="488.42" y1="86.7" x2="488.42" y2="81.8" stroke="#aca55a" stroke-width="0.9"/>
<line x1="487.02" y1="81.8" x2="489.82" y2="81.8" stroke="#aca55a" stroke-width="0.9"/>
<line x1="504.05" y1="84.2" x2="504.05" y2="74.6" stroke="#aca55a" stroke-width="0.9"/>
<line x1="502.65" y1="74.6" x2="505.45" y2="74.6" stroke="#aca55a" stroke-width="0.9"/>
<line x1="511.87" y1="79.7" x2="511.87" y2="71.9" stroke="#aca55a" stroke-width="0.9"/>
<line x1="510.47" y1="71.9" x2="513.27" y2="71.9" stroke="#aca55a" stroke-width="0.9"/>
<line x1="519.69" y1="83.8" x2="519.69" y2="81.8" stroke="#aca55a" stroke-width="0.9"/>
<line x1="518.29" y1="81.8" x2="521.09" y2="81.8" stroke="#aca55a" stroke-width="0.9"/>
<line x1="527.5" y1="82.7" x2="527.5" y2="74.3" stroke="#aca55a" stroke-width="0.9"/>
<line x1="526.1" y1="74.3" x2="528.9" y2="74.3" stroke="#aca55a" stroke-width="0.9"/>
<line x1="535.32" y1="80.2" x2="535.32" y2="63.3" stroke="#aca55a" stroke-width="0.9"/>
<line x1="533.92" y1="63.3" x2="536.72" y2="63.3" stroke="#aca55a" stroke-width="0.9"/>
<line x1="543.14" y1="78.7" x2="543.14" y2="72.4" stroke="#aca55a" stroke-width="0.9"/>
<line x1="541.74" y1="72.4" x2="544.54" y2="72.4" stroke="#aca55a" stroke-width="0.9"/>
<line x1="550.95" y1="80.3" x2="550.95" y2="74.6" stroke="#aca55a" stroke-width="0.9"/>
<line x1="549.55" y1="74.6" x2="552.35" y2="74.6" stroke="#aca55a" stroke-width="0.9"/>
<line x1="558.77" y1="76.4" x2="558.77" y2="64.4" stroke="#aca55a" stroke-width="0.9"/>
<line x1="557.37" y1="64.4" x2="560.17" y2="64.4" stroke="#aca55a" stroke-width="0.9"/>
<line x1="566.59" y1="75.8" x2="566.59" y2="67.4" stroke="#aca55a" stroke-width="0.9"/>
<line x1="565.19" y1="67.4" x2="567.99" y2="67.4" stroke="#aca55a" stroke-width="0.9"/>
<line x1="574.4" y1="76.4" x2="574.4" y2="71.3" stroke="#aca55a" stroke-width="0.9"/>
<line x1="573" y1="71.3" x2="575.8" y2="71.3" stroke="#aca55a" stroke-width="0.9"/>
<line x1="582.22" y1="81.4" x2="582.22" y2="79.4" stroke="#aca55a" stroke-width="0.9"/>
<line x1="580.82" y1="79.4" x2="583.62" y2="79.4" stroke="#aca55a" stroke-width="0.9"/>
<line x1="590.04" y1="83.6" x2="590.04" y2="82.9" stroke="#aca55a" stroke-width="0.9"/>
<line x1="588.64" y1="82.9" x2="591.44" y2="82.9" stroke="#aca55a" stroke-width="0.9"/>
<line x1="597.86" y1="79.9" x2="597.86" y2="74.3" stroke="#aca55a" stroke-width="0.9"/>
<line x1="596.46" y1="74.3" x2="599.25" y2="74.3" stroke="#aca55a" stroke-width="0.9"/>
<line x1="605.67" y1="81.4" x2="605.67" y2="73.4" stroke="#aca55a" stroke-width="0.9"/>
<line x1="604.27" y1="73.4" x2="607.07" y2="73.4" stroke="#aca55a" stroke-width="0.9"/>
<line x1="613.49" y1="71.6" x2="613.49" y2="54.3" stroke="#aca55a" stroke-width="0.9"/>
<line x1="612.09" y1="54.3" x2="614.89" y2="54.3" stroke="#aca55a" stroke-width="0.9"/>
<line x1="621.31" y1="86.7" x2="621.31" y2="83.9" stroke="#aca55a" stroke-width="0.9"/>
<line x1="619.91" y1="83.9" x2="622.71" y2="83.9" stroke="#aca55a" stroke-width="0.9"/>
<line x1="629.12" y1="82.1" x2="629.12" y2="71.3" stroke="#aca55a" stroke-width="0.9"/>
<line x1="627.72" y1="71.3" x2="630.52" y2="71.3" stroke="#aca55a" stroke-width="0.9"/>
<line x1="636.94" y1="85.9" x2="636.94" y2="84.4" stroke="#aca55a" stroke-width="0.9"/>
<line x1="635.54" y1="84.4" x2="638.34" y2="84.4" stroke="#aca55a" stroke-width="0.9"/>
<line x1="644.76" y1="89.4" x2="644.76" y2="88.9" stroke="#aca55a" stroke-width="0.9"/>
<line x1="643.36" y1="88.9" x2="646.16" y2="88.9" stroke="#aca55a" stroke-width="0.9"/>
<line x1="652.57" y1="85.9" x2="652.57" y2="80.3" stroke="#aca55a" stroke-width="0.9"/>
<line x1="651.17" y1="80.3" x2="653.97" y2="80.3" stroke="#aca55a" stroke-width="0.9"/>
<polyline points="480.6,89.2 488.42,86.7 496.23,88 504.05,84.2 511.87,79.7 519.69,83.8 527.5,82.7 535.32,80.2 543.14,78.7 550.95,80.3 558.77,76.4 566.59,75.8 574.4,76.4 582.22,81.4 590.04,83.6 597.86,79.9 605.67,81.4 613.49,71.6 621.31,86.7 629.12,82.1 636.94,85.9 644.76,89.4 652.57,85.9 660.39,82.1" fill="none" stroke="#aca55a" stroke-width="0.95" stroke-linejoin="round"/>
<line x1="488.42" y1="93.9" x2="488.42" y2="82.1" stroke="#d2284e" stroke-width="0.9"/>
<line x1="487.02" y1="82.1" x2="489.82" y2="82.1" stroke="#d2284e" stroke-width="0.9"/>
<line x1="496.23" y1="92.4" x2="496.23" y2="78.4" stroke="#d2284e" stroke-width="0.9"/>
<line x1="494.83" y1="78.4" x2="497.63" y2="78.4" stroke="#d2284e" stroke-width="0.9"/>
<line x1="504.05" y1="95.4" x2="504.05" y2="92.4" stroke="#d2284e" stroke-width="0.9"/>
<line x1="502.65" y1="92.4" x2="505.45" y2="92.4" stroke="#d2284e" stroke-width="0.9"/>
<line x1="511.87" y1="94.9" x2="511.87" y2="90" stroke="#d2284e" stroke-width="0.9"/>
<line x1="510.47" y1="90" x2="513.27" y2="90" stroke="#d2284e" stroke-width="0.9"/>
<line x1="519.69" y1="95.4" x2="519.69" y2="88.5" stroke="#d2284e" stroke-width="0.9"/>
<line x1="518.29" y1="88.5" x2="521.09" y2="88.5" stroke="#d2284e" stroke-width="0.9"/>
<line x1="527.5" y1="93" x2="527.5" y2="82.1" stroke="#d2284e" stroke-width="0.9"/>
<line x1="526.1" y1="82.1" x2="528.9" y2="82.1" stroke="#d2284e" stroke-width="0.9"/>
<line x1="535.32" y1="95.4" x2="535.32" y2="91.2" stroke="#d2284e" stroke-width="0.9"/>
<line x1="533.92" y1="91.2" x2="536.72" y2="91.2" stroke="#d2284e" stroke-width="0.9"/>
<line x1="543.14" y1="91.2" x2="543.14" y2="86.7" stroke="#d2284e" stroke-width="0.9"/>
<line x1="541.74" y1="86.7" x2="544.54" y2="86.7" stroke="#d2284e" stroke-width="0.9"/>
<line x1="550.95" y1="87.9" x2="550.95" y2="78.4" stroke="#d2284e" stroke-width="0.9"/>
<line x1="549.55" y1="78.4" x2="552.35" y2="78.4" stroke="#d2284e" stroke-width="0.9"/>
<line x1="558.77" y1="82.1" x2="558.77" y2="79.9" stroke="#d2284e" stroke-width="0.9"/>
<line x1="557.37" y1="79.9" x2="560.17" y2="79.9" stroke="#d2284e" stroke-width="0.9"/>
<line x1="566.59" y1="85.2" x2="566.59" y2="75.8" stroke="#d2284e" stroke-width="0.9"/>
<line x1="565.19" y1="75.8" x2="567.99" y2="75.8" stroke="#d2284e" stroke-width="0.9"/>
<line x1="574.4" y1="93.4" x2="574.4" y2="88.9" stroke="#d2284e" stroke-width="0.9"/>
<line x1="573" y1="88.9" x2="575.8" y2="88.9" stroke="#d2284e" stroke-width="0.9"/>
<line x1="582.22" y1="90" x2="582.22" y2="84.4" stroke="#d2284e" stroke-width="0.9"/>
<line x1="580.82" y1="84.4" x2="583.62" y2="84.4" stroke="#d2284e" stroke-width="0.9"/>
<line x1="590.04" y1="92.4" x2="590.04" y2="81.4" stroke="#d2284e" stroke-width="0.9"/>
<line x1="588.64" y1="81.4" x2="591.44" y2="81.4" stroke="#d2284e" stroke-width="0.9"/>
<line x1="597.86" y1="94.5" x2="597.86" y2="90.4" stroke="#d2284e" stroke-width="0.9"/>
<line x1="596.46" y1="90.4" x2="599.25" y2="90.4" stroke="#d2284e" stroke-width="0.9"/>
<line x1="605.67" y1="91.2" x2="605.67" y2="88.5" stroke="#d2284e" stroke-width="0.9"/>
<line x1="604.27" y1="88.5" x2="607.07" y2="88.5" stroke="#d2284e" stroke-width="0.9"/>
<line x1="613.49" y1="86.7" x2="613.49" y2="73.1" stroke="#d2284e" stroke-width="0.9"/>
<line x1="612.09" y1="73.1" x2="614.89" y2="73.1" stroke="#d2284e" stroke-width="0.9"/>
<line x1="621.31" y1="92.4" x2="621.31" y2="87.4" stroke="#d2284e" stroke-width="0.9"/>
<line x1="619.91" y1="87.4" x2="622.71" y2="87.4" stroke="#d2284e" stroke-width="0.9"/>
<line x1="629.12" y1="93.4" x2="629.12" y2="88.9" stroke="#d2284e" stroke-width="0.9"/>
<line x1="627.72" y1="88.9" x2="630.52" y2="88.9" stroke="#d2284e" stroke-width="0.9"/>
<line x1="636.94" y1="94.9" x2="636.94" y2="90" stroke="#d2284e" stroke-width="0.9"/>
<line x1="635.54" y1="90" x2="638.34" y2="90" stroke="#d2284e" stroke-width="0.9"/>
<line x1="644.76" y1="93.4" x2="644.76" y2="91.2" stroke="#d2284e" stroke-width="0.9"/>
<line x1="643.36" y1="91.2" x2="646.16" y2="91.2" stroke="#d2284e" stroke-width="0.9"/>
<line x1="652.57" y1="95.7" x2="652.57" y2="93.4" stroke="#d2284e" stroke-width="0.9"/>
<line x1="651.17" y1="93.4" x2="653.97" y2="93.4" stroke="#d2284e" stroke-width="0.9"/>
<line x1="660.39" y1="91.2" x2="660.39" y2="76.4" stroke="#d2284e" stroke-width="0.9"/>
<line x1="658.99" y1="76.4" x2="661.79" y2="76.4" stroke="#d2284e" stroke-width="0.9"/>
<polyline points="480.6,96.9 488.42,93.9 496.23,92.4 504.05,95.4 511.87,94.9 519.69,95.4 527.5,93 535.32,95.4 543.14,91.2 550.95,87.9 558.77,82.1 566.59,85.2 574.4,93.4 582.22,90 590.04,92.4 597.86,94.5 605.67,91.2 613.49,86.7 621.31,92.4 629.12,93.4 636.94,94.9 644.76,93.4 652.57,95.7 660.39,91.2" fill="none" stroke="#d2284e" stroke-width="0.95" stroke-linejoin="round"/>
<line x1="480.6" y1="79.9" x2="480.6" y2="64.4" stroke="#2a2af2" stroke-width="0.9"/>
<line x1="479.2" y1="64.4" x2="482" y2="64.4" stroke="#2a2af2" stroke-width="0.9"/>
<line x1="488.42" y1="70.9" x2="488.42" y2="54.6" stroke="#2a2af2" stroke-width="0.9"/>
<line x1="487.02" y1="54.6" x2="489.82" y2="54.6" stroke="#2a2af2" stroke-width="0.9"/>
<line x1="496.23" y1="84.4" x2="496.23" y2="73.4" stroke="#2a2af2" stroke-width="0.9"/>
<line x1="494.83" y1="73.4" x2="497.63" y2="73.4" stroke="#2a2af2" stroke-width="0.9"/>
<line x1="504.05" y1="78.4" x2="504.05" y2="65.9" stroke="#2a2af2" stroke-width="0.9"/>
<line x1="502.65" y1="65.9" x2="505.45" y2="65.9" stroke="#2a2af2" stroke-width="0.9"/>
<line x1="511.87" y1="73.9" x2="511.87" y2="60.3" stroke="#2a2af2" stroke-width="0.9"/>
<line x1="510.47" y1="60.3" x2="513.27" y2="60.3" stroke="#2a2af2" stroke-width="0.9"/>
<line x1="519.69" y1="65.3" x2="519.69" y2="44.5" stroke="#2a2af2" stroke-width="0.9"/>
<line x1="518.29" y1="44.5" x2="521.09" y2="44.5" stroke="#2a2af2" stroke-width="0.9"/>
<line x1="527.5" y1="72.4" x2="527.5" y2="66.4" stroke="#2a2af2" stroke-width="0.9"/>
<line x1="526.1" y1="66.4" x2="528.9" y2="66.4" stroke="#2a2af2" stroke-width="0.9"/>
<line x1="535.32" y1="58.1" x2="535.32" y2="43.8" stroke="#2a2af2" stroke-width="0.9"/>
<line x1="533.92" y1="43.8" x2="536.72" y2="43.8" stroke="#2a2af2" stroke-width="0.9"/>
<line x1="543.14" y1="59.3" x2="543.14" y2="50.3" stroke="#2a2af2" stroke-width="0.9"/>
<line x1="541.74" y1="50.3" x2="544.54" y2="50.3" stroke="#2a2af2" stroke-width="0.9"/>
<line x1="550.95" y1="50.6" x2="550.95" y2="34.3" stroke="#2a2af2" stroke-width="0.9"/>
<line x1="549.55" y1="34.3" x2="552.35" y2="34.3" stroke="#2a2af2" stroke-width="0.9"/>
<line x1="558.77" y1="50.3" x2="558.77" y2="43.8" stroke="#2a2af2" stroke-width="0.9"/>
<line x1="557.37" y1="43.8" x2="560.17" y2="43.8" stroke="#2a2af2" stroke-width="0.9"/>
<line x1="566.59" y1="41.8" x2="566.59" y2="40.3" stroke="#2a2af2" stroke-width="0.9"/>
<line x1="565.19" y1="40.3" x2="567.99" y2="40.3" stroke="#2a2af2" stroke-width="0.9"/>
<line x1="582.22" y1="59.3" x2="582.22" y2="46.8" stroke="#2a2af2" stroke-width="0.9"/>
<line x1="580.82" y1="46.8" x2="583.62" y2="46.8" stroke="#2a2af2" stroke-width="0.9"/>
<line x1="590.04" y1="55.8" x2="590.04" y2="49.4" stroke="#2a2af2" stroke-width="0.9"/>
<line x1="588.64" y1="49.4" x2="591.44" y2="49.4" stroke="#2a2af2" stroke-width="0.9"/>
<line x1="597.86" y1="67.1" x2="597.86" y2="60.6" stroke="#2a2af2" stroke-width="0.9"/>
<line x1="596.46" y1="60.6" x2="599.25" y2="60.6" stroke="#2a2af2" stroke-width="0.9"/>
<line x1="605.67" y1="61.8" x2="605.67" y2="55.1" stroke="#2a2af2" stroke-width="0.9"/>
<line x1="604.27" y1="55.1" x2="607.07" y2="55.1" stroke="#2a2af2" stroke-width="0.9"/>
<line x1="613.49" y1="47.3" x2="613.49" y2="43.3" stroke="#2a2af2" stroke-width="0.9"/>
<line x1="612.09" y1="43.3" x2="614.89" y2="43.3" stroke="#2a2af2" stroke-width="0.9"/>
<line x1="621.31" y1="66.4" x2="621.31" y2="61.1" stroke="#2a2af2" stroke-width="0.9"/>
<line x1="619.91" y1="61.1" x2="622.71" y2="61.1" stroke="#2a2af2" stroke-width="0.9"/>
<line x1="629.12" y1="67.4" x2="629.12" y2="55.8" stroke="#2a2af2" stroke-width="0.9"/>
<line x1="627.72" y1="55.8" x2="630.52" y2="55.8" stroke="#2a2af2" stroke-width="0.9"/>
<line x1="636.94" y1="71.6" x2="636.94" y2="62.3" stroke="#2a2af2" stroke-width="0.9"/>
<line x1="635.54" y1="62.3" x2="638.34" y2="62.3" stroke="#2a2af2" stroke-width="0.9"/>
<line x1="644.76" y1="67.1" x2="644.76" y2="47.3" stroke="#2a2af2" stroke-width="0.9"/>
<line x1="643.36" y1="47.3" x2="646.16" y2="47.3" stroke="#2a2af2" stroke-width="0.9"/>
<line x1="652.57" y1="69.4" x2="652.57" y2="54.3" stroke="#2a2af2" stroke-width="0.9"/>
<line x1="651.17" y1="54.3" x2="653.97" y2="54.3" stroke="#2a2af2" stroke-width="0.9"/>
<line x1="660.39" y1="71.6" x2="660.39" y2="58.4" stroke="#2a2af2" stroke-width="0.9"/>
<line x1="658.99" y1="58.4" x2="661.79" y2="58.4" stroke="#2a2af2" stroke-width="0.9"/>
<polyline points="480.6,79.9 488.42,70.9 496.23,84.4 504.05,78.4 511.87,73.9 519.69,65.3 527.5,72.4 535.32,58.1 543.14,59.3 550.95,50.6 558.77,50.3 566.59,41.8 574.4,38.8 582.22,59.3 590.04,55.8 597.86,67.1 605.67,61.8 613.49,47.3 621.31,66.4 629.12,67.4 636.94,71.6 644.76,67.1 652.57,69.4 660.39,71.6" fill="none" stroke="#2a2af2" stroke-width="1.1" stroke-linejoin="round"/>
<line x1="472.5" y1="18.5" x2="472.5" y2="126.1" stroke="#222" stroke-width="1"/>
<line x1="470.3" y1="19" x2="472.5" y2="19" stroke="#222" stroke-width="1"/>
<text x="469.5" y="21.02" font-size="5.6" text-anchor="end" fill="#2a2a2a">25</text>
<line x1="470.3" y1="45.65" x2="472.5" y2="45.65" stroke="#222" stroke-width="1"/>
<text x="469.5" y="47.67" font-size="5.6" text-anchor="end" fill="#2a2a2a">20</text>
<line x1="470.3" y1="72.3" x2="472.5" y2="72.3" stroke="#222" stroke-width="1"/>
<text x="469.5" y="74.32" font-size="5.6" text-anchor="end" fill="#2a2a2a">15</text>
<line x1="470.3" y1="98.95" x2="472.5" y2="98.95" stroke="#222" stroke-width="1"/>
<text x="469.5" y="100.97" font-size="5.6" text-anchor="end" fill="#2a2a2a">10</text>
<line x1="470.3" y1="125.6" x2="472.5" y2="125.6" stroke="#222" stroke-width="1"/>
<text x="469.5" y="127.62" font-size="5.6" text-anchor="end" fill="#2a2a2a">5</text>
<line x1="472" y1="125.6" x2="660.89" y2="125.6" stroke="#222" stroke-width="1.2"/>
<line x1="480.6" y1="125.6" x2="480.6" y2="127.6" stroke="#222" stroke-width="0.9"/>
<text font-size="5.6" text-anchor="end" fill="#1a1a1a" transform="translate(482.4 133) rotate(-45) scale(0.880 1)">15:00</text>
<line x1="488.42" y1="125.6" x2="488.42" y2="127.6" stroke="#222" stroke-width="0.9"/>
<text font-size="5.6" text-anchor="end" fill="#1a1a1a" transform="translate(490.22 133) rotate(-45) scale(0.880 1)">16:00</text>
<line x1="496.23" y1="125.6" x2="496.23" y2="127.6" stroke="#222" stroke-width="0.9"/>
<text font-size="5.6" text-anchor="end" fill="#1a1a1a" transform="translate(498.03 133) rotate(-45) scale(0.880 1)">17:00</text>
<line x1="504.05" y1="125.6" x2="504.05" y2="127.6" stroke="#222" stroke-width="0.9"/>
<text font-size="5.6" text-anchor="end" fill="#1a1a1a" transform="translate(505.85 133) rotate(-45) scale(0.880 1)">18:00</text>
<line x1="511.87" y1="125.6" x2="511.87" y2="127.6" stroke="#222" stroke-width="0.9"/>
<text font-size="5.6" text-anchor="end" fill="#1a1a1a" transform="translate(513.67 133) rotate(-45) scale(0.880 1)">19:00</text>
<line x1="519.69" y1="125.6" x2="519.69" y2="127.6" stroke="#222" stroke-width="0.9"/>
<text font-size="5.6" text-anchor="end" fill="#1a1a1a" transform="translate(521.49 133) rotate(-45) scale(0.880 1)">20:00</text>
<line x1="527.5" y1="125.6" x2="527.5" y2="127.6" stroke="#222" stroke-width="0.9"/>
<text font-size="5.6" text-anchor="end" fill="#1a1a1a" transform="translate(529.3 133) rotate(-45) scale(0.880 1)">21:00</text>
<line x1="535.32" y1="125.6" x2="535.32" y2="127.6" stroke="#222" stroke-width="0.9"/>
<text font-size="5.6" text-anchor="end" fill="#1a1a1a" transform="translate(537.12 133) rotate(-45) scale(0.880 1)">22:00</text>
<line x1="543.14" y1="125.6" x2="543.14" y2="127.6" stroke="#222" stroke-width="0.9"/>
<text font-size="5.6" text-anchor="end" fill="#1a1a1a" transform="translate(544.94 133) rotate(-45) scale(0.880 1)">23:00</text>
<line x1="550.95" y1="125.6" x2="550.95" y2="127.6" stroke="#222" stroke-width="0.9"/>
<text font-size="5.6" text-anchor="end" fill="#1a1a1a" transform="translate(552.75 133) rotate(-45) scale(0.880 1)">0:00</text>
<line x1="558.77" y1="125.6" x2="558.77" y2="127.6" stroke="#222" stroke-width="0.9"/>
<text font-size="5.6" text-anchor="end" fill="#1a1a1a" transform="translate(560.57 133) rotate(-45) scale(0.880 1)">1:00</text>
<line x1="566.59" y1="125.6" x2="566.59" y2="127.6" stroke="#222" stroke-width="0.9"/>
<text font-size="5.6" text-anchor="end" fill="#1a1a1a" transform="translate(568.39 133) rotate(-45) scale(0.880 1)">2:00</text>
<line x1="574.4" y1="125.6" x2="574.4" y2="127.6" stroke="#222" stroke-width="0.9"/>
<text font-size="5.6" text-anchor="end" fill="#1a1a1a" transform="translate(576.2 133) rotate(-45) scale(0.880 1)">3:00</text>
<line x1="582.22" y1="125.6" x2="582.22" y2="127.6" stroke="#222" stroke-width="0.9"/>
<text font-size="5.6" text-anchor="end" fill="#1a1a1a" transform="translate(584.02 133) rotate(-45) scale(0.880 1)">4:00</text>
<line x1="590.04" y1="125.6" x2="590.04" y2="127.6" stroke="#222" stroke-width="0.9"/>
<text font-size="5.6" text-anchor="end" fill="#1a1a1a" transform="translate(591.84 133) rotate(-45) scale(0.880 1)">5:00</text>
<line x1="597.86" y1="125.6" x2="597.86" y2="127.6" stroke="#222" stroke-width="0.9"/>
<text font-size="5.6" text-anchor="end" fill="#1a1a1a" transform="translate(599.65 133) rotate(-45) scale(0.880 1)">6:00</text>
<line x1="605.67" y1="125.6" x2="605.67" y2="127.6" stroke="#222" stroke-width="0.9"/>
<text font-size="5.6" text-anchor="end" fill="#1a1a1a" transform="translate(607.47 133) rotate(-45) scale(0.880 1)">7:00</text>
<line x1="613.49" y1="125.6" x2="613.49" y2="127.6" stroke="#222" stroke-width="0.9"/>
<text font-size="5.6" text-anchor="end" fill="#1a1a1a" transform="translate(615.29 133) rotate(-45) scale(0.880 1)">8:00</text>
<line x1="621.31" y1="125.6" x2="621.31" y2="127.6" stroke="#222" stroke-width="0.9"/>
<text font-size="5.6" text-anchor="end" fill="#1a1a1a" transform="translate(623.11 133) rotate(-45) scale(0.880 1)">9:00</text>
<line x1="629.12" y1="125.6" x2="629.12" y2="127.6" stroke="#222" stroke-width="0.9"/>
<text font-size="5.6" text-anchor="end" fill="#1a1a1a" transform="translate(630.92 133) rotate(-45) scale(0.880 1)">10:00</text>
<line x1="636.94" y1="125.6" x2="636.94" y2="127.6" stroke="#222" stroke-width="0.9"/>
<text font-size="5.6" text-anchor="end" fill="#1a1a1a" transform="translate(638.74 133) rotate(-45) scale(0.880 1)">11:00</text>
<line x1="644.76" y1="125.6" x2="644.76" y2="127.6" stroke="#222" stroke-width="0.9"/>
<text font-size="5.6" text-anchor="end" fill="#1a1a1a" transform="translate(646.56 133) rotate(-45) scale(0.880 1)">12:00</text>
<line x1="652.57" y1="125.6" x2="652.57" y2="127.6" stroke="#222" stroke-width="0.9"/>
<text font-size="5.6" text-anchor="end" fill="#1a1a1a" transform="translate(654.37 133) rotate(-45) scale(0.880 1)">13:00</text>
<line x1="660.39" y1="125.6" x2="660.39" y2="127.6" stroke="#222" stroke-width="0.9"/>
<text font-size="5.6" text-anchor="end" fill="#1a1a1a" transform="translate(662.19 133) rotate(-45) scale(0.880 1)">14:00</text>
<line x1="477.5" y1="19" x2="486" y2="19" stroke="#3434ff" stroke-width="1.1"/>
<text font-size="6.5" fill="#111" transform="translate(490.7 21.34) scale(0.970 1)">NC</text>
<line x1="477.5" y1="27.3" x2="486" y2="27.3" stroke="#ff3a3a" stroke-width="1.1"/>
<text font-size="6.5" fill="#111" transform="translate(490.7 29.64) scale(0.970 1)">HFD</text>
<line x1="477.5" y1="35.6" x2="486" y2="35.6" stroke="#c8c84a" stroke-width="1.1"/>
<text font-size="6.5" fill="#111" transform="translate(490.7 37.94) scale(0.970 1)">HFD+Rhe</text>
<rect x="476.3" y="146" width="43.9" height="4.8" fill="#d6d6d6" stroke="none" stroke-width="1"/>
<rect x="520.2" y="146" width="87.7" height="4.8" fill="#050505" stroke="none" stroke-width="1"/>
<rect x="607.9" y="146" width="53.6" height="4.8" fill="#d6d6d6" stroke="none" stroke-width="1"/>
<text font-size="6.7" text-anchor="middle" font-style="italic" fill="#111" transform="translate(504.1 158.2) scale(0.950 1)">Light</text>
<text font-size="6.7" text-anchor="middle" font-style="italic" fill="#111" transform="translate(567.1 158.2) scale(0.950 1)">Dark</text>
<text font-size="6.7" text-anchor="middle" font-style="italic" fill="#111" transform="translate(639 158.2) scale(0.950 1)">Light</text>
<text font-size="6.7" text-anchor="middle" fill="#111" transform="translate(567.1 164.6) scale(0.950 1)">Time</text>
<text font-size="6.6" text-anchor="middle" fill="#222" transform="translate(459.6 72) rotate(-90)">Heat (Kcal/h/kg)</text>
<text x="5" y="184.6" font-size="12" fill="#111">e</text>
<line x1="27.4" y1="200" x2="27.4" y2="308.4" stroke="#222" stroke-width="1.2"/>
<line x1="24.4" y1="200.5" x2="27.4" y2="200.5" stroke="#222" stroke-width="1.2"/>
<text x="23.6" y="203.38" font-size="8" text-anchor="end" fill="#2a2a2a">20</text>
<line x1="24.4" y1="245.3" x2="27.4" y2="245.3" stroke="#222" stroke-width="1.2"/>
<text x="23.6" y="248.18" font-size="8" text-anchor="end" fill="#2a2a2a">15</text>
<line x1="24.4" y1="290.1" x2="27.4" y2="290.1" stroke="#222" stroke-width="1.2"/>
<text x="23.6" y="292.98" font-size="8" text-anchor="end" fill="#2a2a2a">10</text>
<line x1="42.15" y1="307.9" x2="42.15" y2="310.9" stroke="#222" stroke-width="1.1"/>
<rect x="35.85" y="231.5" width="12.6" height="76.4" fill="#fff" stroke="#585858" stroke-width="1.3"/>
<line x1="60.4" y1="307.9" x2="60.4" y2="310.9" stroke="#222" stroke-width="1.1"/>
<rect x="53.85" y="279.3" width="13.1" height="28.6" fill="#fff" stroke="#9a9a9a" stroke-width="1.3"/>
<line x1="78.35" y1="307.9" x2="78.35" y2="310.9" stroke="#222" stroke-width="1.1"/>
<rect x="72.25" y="262.5" width="12.2" height="45.4" fill="#fff" stroke="#585858" stroke-width="1.3"/>
<line x1="26.9" y1="307.9" x2="93.8" y2="307.9" stroke="#222" stroke-width="1.4"/>
<line x1="42.15" y1="231.5" x2="42.15" y2="226.1" stroke="#111" stroke-width="1.1"/>
<line x1="39.15" y1="226.1" x2="45.15" y2="226.1" stroke="#111" stroke-width="1.1"/>
<line x1="60.4" y1="279.3" x2="60.4" y2="269.4" stroke="#111" stroke-width="1.1"/>
<line x1="57.4" y1="269.4" x2="63.4" y2="269.4" stroke="#111" stroke-width="1.1"/>
<line x1="78.35" y1="262.5" x2="78.35" y2="257.6" stroke="#111" stroke-width="1.1"/>
<line x1="75.35" y1="257.6" x2="81.35" y2="257.6" stroke="#111" stroke-width="1.1"/>
<polygon points="41.8,223.7 44.2,226.1 41.8,228.5 39.4,226.1" fill="#111" stroke="none" stroke-width="1"/>
<circle cx="37" cy="234.7" r="2.2" fill="#111"/>
<circle cx="47.3" cy="231.8" r="2.2" fill="#111"/>
<rect x="58" y="267.3" width="4.2" height="4.2" fill="#111" stroke="none" stroke-width="1"/>
<rect x="52.9" y="282.1" width="4.2" height="4.2" fill="#111" stroke="none" stroke-width="1"/>
<rect x="63.7" y="279.9" width="4.2" height="4.2" fill="#111" stroke="none" stroke-width="1"/>
<polygon points="78.5,255.2 80.9,257.6 78.5,260 76.1,257.6" fill="#111" stroke="none" stroke-width="1"/>
<circle cx="73.1" cy="265.4" r="2.2" fill="#111"/>
<circle cx="83.3" cy="263.1" r="2.2" fill="#111"/>
<polyline points="41.1,223.4 41.1,215.3 59,215.3 59,266.7" fill="none" stroke="#1a1a1a" stroke-width="1.1" stroke-dasharray="2.4,1.5"/>
<polyline points="62.8,266.7 62.8,240.1 78.5,240.1 78.5,256.4" fill="none" stroke="#1a1a1a" stroke-width="1.1" stroke-dasharray="2.4,1.5"/>
<text x="49.6" y="217" font-size="10" text-anchor="middle" font-weight="bold" fill="#111">***</text>
<text x="70.7" y="240.8" font-size="10" text-anchor="middle" font-weight="bold" fill="#111">*</text>
<text font-size="7.4" text-anchor="end" fill="#222" transform="translate(44.4 317) rotate(-45)">NC</text>
<text font-size="7.4" text-anchor="end" fill="#222" transform="translate(62.2 317) rotate(-45)">HFD</text>
<text font-size="7.4" text-anchor="end" fill="#222" transform="translate(81 317) rotate(-45)">HFD+Rhe</text>
<text font-size="8.6" text-anchor="middle" fill="#222" transform="translate(9.8 254) rotate(-90)">Heat (Kcal/h/kg)</text>
<text x="106" y="184.6" font-size="12" font-weight="bold" fill="#111">f</text>
<polygon points="158.3,299 158.3,252.7 165.76,244.5 173.22,257.3 180.68,251.5 188.14,247.8 195.61,238.4 203.07,245.4 210.53,231.8 217.99,232.5 225.45,224 232.91,223 240.37,214.3 247.83,211.7 255.29,232.3 262.75,228.6 270.22,240.3 277.68,235.3 285.14,221.1 292.6,239.8 300.06,240.6 307.52,244.8 314.98,240.3 322.44,242.9 329.9,244.8 329.9,299" fill="#bebefc" stroke="none" stroke-width="1"/>
<polygon points="158.3,299 158.3,262 165.76,260 173.22,262 180.68,257.3 188.14,253.2 195.61,257.3 203.07,257 210.53,253.7 217.99,252.2 225.45,253.7 232.91,249.7 240.37,249.1 247.83,249.3 255.29,254.9 262.75,257.1 270.22,252.9 277.68,254.1 285.14,244.8 292.6,258.9 300.06,255.3 307.52,258.9 314.98,262 322.44,258.6 329.9,255.3 329.9,299" fill="#b4b4d2" stroke="none" stroke-width="1"/>
<polygon points="158.3,299 158.3,270.2 165.76,266.4 173.22,265.4 180.68,268.7 188.14,268.3 195.61,268.3 203.07,266.1 210.53,268.7 217.99,264.6 225.45,261 232.91,255.9 240.37,258.5 247.83,266.2 255.29,263.2 262.75,265.4 270.22,268 277.68,264.4 285.14,260.2 292.6,265.4 300.06,266.2 307.52,267.7 314.98,265.9 322.44,269.2 329.9,264.4 329.9,299" fill="#b385b0" stroke="none" stroke-width="1"/>
<line x1="158.3" y1="262" x2="158.3" y2="261.4" stroke="#aca55a" stroke-width="0.9"/>
<line x1="156.9" y1="261.4" x2="159.7" y2="261.4" stroke="#aca55a" stroke-width="0.9"/>
<line x1="165.76" y1="260" x2="165.76" y2="254.7" stroke="#aca55a" stroke-width="0.9"/>
<line x1="164.36" y1="254.7" x2="167.16" y2="254.7" stroke="#aca55a" stroke-width="0.9"/>
<line x1="173.22" y1="262" x2="173.22" y2="252.7" stroke="#aca55a" stroke-width="0.9"/>
<line x1="171.82" y1="252.7" x2="174.62" y2="252.7" stroke="#aca55a" stroke-width="0.9"/>
<line x1="180.68" y1="257.3" x2="180.68" y2="248.3" stroke="#aca55a" stroke-width="0.9"/>
<line x1="179.28" y1="248.3" x2="182.08" y2="248.3" stroke="#aca55a" stroke-width="0.9"/>
<line x1="188.14" y1="253.2" x2="188.14" y2="244.9" stroke="#aca55a" stroke-width="0.9"/>
<line x1="186.74" y1="244.9" x2="189.54" y2="244.9" stroke="#aca55a" stroke-width="0.9"/>
<line x1="195.61" y1="257.3" x2="195.61" y2="254.7" stroke="#aca55a" stroke-width="0.9"/>
<line x1="194.21" y1="254.7" x2="197.01" y2="254.7" stroke="#aca55a" stroke-width="0.9"/>
<line x1="203.07" y1="257" x2="203.07" y2="247.8" stroke="#aca55a" stroke-width="0.9"/>
<line x1="201.67" y1="247.8" x2="204.47" y2="247.8" stroke="#aca55a" stroke-width="0.9"/>
<line x1="210.53" y1="253.7" x2="210.53" y2="236.6" stroke="#aca55a" stroke-width="0.9"/>
<line x1="209.13" y1="236.6" x2="211.93" y2="236.6" stroke="#aca55a" stroke-width="0.9"/>
<line x1="217.99" y1="252.2" x2="217.99" y2="245.7" stroke="#aca55a" stroke-width="0.9"/>
<line x1="216.59" y1="245.7" x2="219.39" y2="245.7" stroke="#aca55a" stroke-width="0.9"/>
<line x1="225.45" y1="253.7" x2="225.45" y2="248.3" stroke="#aca55a" stroke-width="0.9"/>
<line x1="224.05" y1="248.3" x2="226.85" y2="248.3" stroke="#aca55a" stroke-width="0.9"/>
<line x1="232.91" y1="249.7" x2="232.91" y2="237.6" stroke="#aca55a" stroke-width="0.9"/>
<line x1="231.51" y1="237.6" x2="234.31" y2="237.6" stroke="#aca55a" stroke-width="0.9"/>
<line x1="240.37" y1="249.1" x2="240.37" y2="240.6" stroke="#aca55a" stroke-width="0.9"/>
<line x1="238.97" y1="240.6" x2="241.77" y2="240.6" stroke="#aca55a" stroke-width="0.9"/>
<line x1="247.83" y1="249.3" x2="247.83" y2="244.5" stroke="#aca55a" stroke-width="0.9"/>
<line x1="246.43" y1="244.5" x2="249.23" y2="244.5" stroke="#aca55a" stroke-width="0.9"/>
<line x1="255.29" y1="254.9" x2="255.29" y2="252.6" stroke="#aca55a" stroke-width="0.9"/>
<line x1="253.89" y1="252.6" x2="256.69" y2="252.6" stroke="#aca55a" stroke-width="0.9"/>
<line x1="262.75" y1="257.1" x2="262.75" y2="254.4" stroke="#aca55a" stroke-width="0.9"/>
<line x1="261.35" y1="254.4" x2="264.15" y2="254.4" stroke="#aca55a" stroke-width="0.9"/>
<line x1="270.22" y1="252.9" x2="270.22" y2="247.8" stroke="#aca55a" stroke-width="0.9"/>
<line x1="268.82" y1="247.8" x2="271.62" y2="247.8" stroke="#aca55a" stroke-width="0.9"/>
<line x1="277.68" y1="254.1" x2="277.68" y2="247.4" stroke="#aca55a" stroke-width="0.9"/>
<line x1="276.28" y1="247.4" x2="279.08" y2="247.4" stroke="#aca55a" stroke-width="0.9"/>
<line x1="285.14" y1="244.8" x2="285.14" y2="227.5" stroke="#aca55a" stroke-width="0.9"/>
<line x1="283.74" y1="227.5" x2="286.54" y2="227.5" stroke="#aca55a" stroke-width="0.9"/>
<line x1="292.6" y1="258.9" x2="292.6" y2="256.8" stroke="#aca55a" stroke-width="0.9"/>
<line x1="291.2" y1="256.8" x2="294" y2="256.8" stroke="#aca55a" stroke-width="0.9"/>
<line x1="300.06" y1="255.3" x2="300.06" y2="244.5" stroke="#aca55a" stroke-width="0.9"/>
<line x1="298.66" y1="244.5" x2="301.46" y2="244.5" stroke="#aca55a" stroke-width="0.9"/>
<line x1="307.52" y1="258.9" x2="307.52" y2="257.1" stroke="#aca55a" stroke-width="0.9"/>
<line x1="306.12" y1="257.1" x2="308.92" y2="257.1" stroke="#aca55a" stroke-width="0.9"/>
<line x1="314.98" y1="262" x2="314.98" y2="260.9" stroke="#aca55a" stroke-width="0.9"/>
<line x1="313.58" y1="260.9" x2="316.38" y2="260.9" stroke="#aca55a" stroke-width="0.9"/>
<line x1="322.44" y1="258.6" x2="322.44" y2="253.4" stroke="#aca55a" stroke-width="0.9"/>
<line x1="321.04" y1="253.4" x2="323.84" y2="253.4" stroke="#aca55a" stroke-width="0.9"/>
<polyline points="158.3,262 165.76,260 173.22,262 180.68,257.3 188.14,253.2 195.61,257.3 203.07,257 210.53,253.7 217.99,252.2 225.45,253.7 232.91,249.7 240.37,249.1 247.83,249.3 255.29,254.9 262.75,257.1 270.22,252.9 277.68,254.1 285.14,244.8 292.6,258.9 300.06,255.3 307.52,258.9 314.98,262 322.44,258.6 329.9,255.3" fill="none" stroke="#aca55a" stroke-width="0.95" stroke-linejoin="round"/>
<line x1="165.76" y1="266.4" x2="165.76" y2="254.7" stroke="#d2284e" stroke-width="0.9"/>
<line x1="164.36" y1="254.7" x2="167.16" y2="254.7" stroke="#d2284e" stroke-width="0.9"/>
<line x1="173.22" y1="265.4" x2="173.22" y2="252.2" stroke="#d2284e" stroke-width="0.9"/>
<line x1="171.82" y1="252.2" x2="174.62" y2="252.2" stroke="#d2284e" stroke-width="0.9"/>
<line x1="180.68" y1="268.7" x2="180.68" y2="265.4" stroke="#d2284e" stroke-width="0.9"/>
<line x1="179.28" y1="265.4" x2="182.08" y2="265.4" stroke="#d2284e" stroke-width="0.9"/>
<line x1="188.14" y1="268.3" x2="188.14" y2="263.2" stroke="#d2284e" stroke-width="0.9"/>
<line x1="186.74" y1="263.2" x2="189.54" y2="263.2" stroke="#d2284e" stroke-width="0.9"/>
<line x1="195.61" y1="268.3" x2="195.61" y2="262" stroke="#d2284e" stroke-width="0.9"/>
<line x1="194.21" y1="262" x2="197.01" y2="262" stroke="#d2284e" stroke-width="0.9"/>
<line x1="203.07" y1="266.1" x2="203.07" y2="255.1" stroke="#d2284e" stroke-width="0.9"/>
<line x1="201.67" y1="255.1" x2="204.47" y2="255.1" stroke="#d2284e" stroke-width="0.9"/>
<line x1="210.53" y1="268.7" x2="210.53" y2="264.3" stroke="#d2284e" stroke-width="0.9"/>
<line x1="209.13" y1="264.3" x2="211.93" y2="264.3" stroke="#d2284e" stroke-width="0.9"/>
<line x1="217.99" y1="264.6" x2="217.99" y2="260.5" stroke="#d2284e" stroke-width="0.9"/>
<line x1="216.59" y1="260.5" x2="219.39" y2="260.5" stroke="#d2284e" stroke-width="0.9"/>
<line x1="225.45" y1="261" x2="225.45" y2="251.5" stroke="#d2284e" stroke-width="0.9"/>
<line x1="224.05" y1="251.5" x2="226.85" y2="251.5" stroke="#d2284e" stroke-width="0.9"/>
<line x1="232.91" y1="255.9" x2="232.91" y2="253.2" stroke="#d2284e" stroke-width="0.9"/>
<line x1="231.51" y1="253.2" x2="234.31" y2="253.2" stroke="#d2284e" stroke-width="0.9"/>
<line x1="240.37" y1="258.5" x2="240.37" y2="249.4" stroke="#d2284e" stroke-width="0.9"/>
<line x1="238.97" y1="249.4" x2="241.77" y2="249.4" stroke="#d2284e" stroke-width="0.9"/>
<line x1="247.83" y1="266.2" x2="247.83" y2="262" stroke="#d2284e" stroke-width="0.9"/>
<line x1="246.43" y1="262" x2="249.23" y2="262" stroke="#d2284e" stroke-width="0.9"/>
<line x1="255.29" y1="263.2" x2="255.29" y2="257.4" stroke="#d2284e" stroke-width="0.9"/>
<line x1="253.89" y1="257.4" x2="256.69" y2="257.4" stroke="#d2284e" stroke-width="0.9"/>
<line x1="262.75" y1="265.4" x2="262.75" y2="254.4" stroke="#d2284e" stroke-width="0.9"/>
<line x1="261.35" y1="254.4" x2="264.15" y2="254.4" stroke="#d2284e" stroke-width="0.9"/>
<line x1="270.22" y1="268" x2="270.22" y2="263.5" stroke="#d2284e" stroke-width="0.9"/>
<line x1="268.82" y1="263.5" x2="271.62" y2="263.5" stroke="#d2284e" stroke-width="0.9"/>
<line x1="277.68" y1="264.4" x2="277.68" y2="261.4" stroke="#d2284e" stroke-width="0.9"/>
<line x1="276.28" y1="261.4" x2="279.08" y2="261.4" stroke="#d2284e" stroke-width="0.9"/>
<line x1="285.14" y1="260.2" x2="285.14" y2="246.3" stroke="#d2284e" stroke-width="0.9"/>
<line x1="283.74" y1="246.3" x2="286.54" y2="246.3" stroke="#d2284e" stroke-width="0.9"/>
<line x1="292.6" y1="265.4" x2="292.6" y2="260.5" stroke="#d2284e" stroke-width="0.9"/>
<line x1="291.2" y1="260.5" x2="294" y2="260.5" stroke="#d2284e" stroke-width="0.9"/>
<line x1="300.06" y1="266.2" x2="300.06" y2="261.7" stroke="#d2284e" stroke-width="0.9"/>
<line x1="298.66" y1="261.7" x2="301.46" y2="261.7" stroke="#d2284e" stroke-width="0.9"/>
<line x1="307.52" y1="267.7" x2="307.52" y2="263.2" stroke="#d2284e" stroke-width="0.9"/>
<line x1="306.12" y1="263.2" x2="308.92" y2="263.2" stroke="#d2284e" stroke-width="0.9"/>
<line x1="314.98" y1="265.9" x2="314.98" y2="264.7" stroke="#d2284e" stroke-width="0.9"/>
<line x1="313.58" y1="264.7" x2="316.38" y2="264.7" stroke="#d2284e" stroke-width="0.9"/>
<line x1="322.44" y1="269.2" x2="322.44" y2="266.2" stroke="#d2284e" stroke-width="0.9"/>
<line x1="321.04" y1="266.2" x2="323.84" y2="266.2" stroke="#d2284e" stroke-width="0.9"/>
<line x1="329.9" y1="264.4" x2="329.9" y2="249.3" stroke="#d2284e" stroke-width="0.9"/>
<line x1="328.5" y1="249.3" x2="331.3" y2="249.3" stroke="#d2284e" stroke-width="0.9"/>
<polyline points="158.3,270.2 165.76,266.4 173.22,265.4 180.68,268.7 188.14,268.3 195.61,268.3 203.07,266.1 210.53,268.7 217.99,264.6 225.45,261 232.91,255.9 240.37,258.5 247.83,266.2 255.29,263.2 262.75,265.4 270.22,268 277.68,264.4 285.14,260.2 292.6,265.4 300.06,266.2 307.52,267.7 314.98,265.9 322.44,269.2 329.9,264.4" fill="none" stroke="#d2284e" stroke-width="0.95" stroke-linejoin="round"/>
<line x1="158.3" y1="252.7" x2="158.3" y2="237.6" stroke="#2a2af2" stroke-width="0.9"/>
<line x1="156.9" y1="237.6" x2="159.7" y2="237.6" stroke="#2a2af2" stroke-width="0.9"/>
<line x1="165.76" y1="244.5" x2="165.76" y2="228.4" stroke="#2a2af2" stroke-width="0.9"/>
<line x1="164.36" y1="228.4" x2="167.16" y2="228.4" stroke="#2a2af2" stroke-width="0.9"/>
<line x1="173.22" y1="257.3" x2="173.22" y2="246.4" stroke="#2a2af2" stroke-width="0.9"/>
<line x1="171.82" y1="246.4" x2="174.62" y2="246.4" stroke="#2a2af2" stroke-width="0.9"/>
<line x1="180.68" y1="251.5" x2="180.68" y2="239.5" stroke="#2a2af2" stroke-width="0.9"/>
<line x1="179.28" y1="239.5" x2="182.08" y2="239.5" stroke="#2a2af2" stroke-width="0.9"/>
<line x1="188.14" y1="247.8" x2="188.14" y2="233.5" stroke="#2a2af2" stroke-width="0.9"/>
<line x1="186.74" y1="233.5" x2="189.54" y2="233.5" stroke="#2a2af2" stroke-width="0.9"/>
<line x1="195.61" y1="238.4" x2="195.61" y2="218.2" stroke="#2a2af2" stroke-width="0.9"/>
<line x1="194.21" y1="218.2" x2="197.01" y2="218.2" stroke="#2a2af2" stroke-width="0.9"/>
<line x1="203.07" y1="245.4" x2="203.07" y2="239.5" stroke="#2a2af2" stroke-width="0.9"/>
<line x1="201.67" y1="239.5" x2="204.47" y2="239.5" stroke="#2a2af2" stroke-width="0.9"/>
<line x1="210.53" y1="231.8" x2="210.53" y2="217.2" stroke="#2a2af2" stroke-width="0.9"/>
<line x1="209.13" y1="217.2" x2="211.93" y2="217.2" stroke="#2a2af2" stroke-width="0.9"/>
<line x1="217.99" y1="232.5" x2="217.99" y2="223.5" stroke="#2a2af2" stroke-width="0.9"/>
<line x1="216.59" y1="223.5" x2="219.39" y2="223.5" stroke="#2a2af2" stroke-width="0.9"/>
<line x1="225.45" y1="224" x2="225.45" y2="208" stroke="#2a2af2" stroke-width="0.9"/>
<line x1="224.05" y1="208" x2="226.85" y2="208" stroke="#2a2af2" stroke-width="0.9"/>
<line x1="232.91" y1="223" x2="232.91" y2="217.2" stroke="#2a2af2" stroke-width="0.9"/>
<line x1="231.51" y1="217.2" x2="234.31" y2="217.2" stroke="#2a2af2" stroke-width="0.9"/>
<line x1="240.37" y1="214.3" x2="240.37" y2="213.8" stroke="#2a2af2" stroke-width="0.9"/>
<line x1="238.97" y1="213.8" x2="241.77" y2="213.8" stroke="#2a2af2" stroke-width="0.9"/>
<line x1="255.29" y1="232.3" x2="255.29" y2="220.3" stroke="#2a2af2" stroke-width="0.9"/>
<line x1="253.89" y1="220.3" x2="256.69" y2="220.3" stroke="#2a2af2" stroke-width="0.9"/>
<line x1="262.75" y1="228.6" x2="262.75" y2="223.3" stroke="#2a2af2" stroke-width="0.9"/>
<line x1="261.35" y1="223.3" x2="264.15" y2="223.3" stroke="#2a2af2" stroke-width="0.9"/>
<line x1="270.22" y1="240.3" x2="270.22" y2="233.8" stroke="#2a2af2" stroke-width="0.9"/>
<line x1="268.82" y1="233.8" x2="271.62" y2="233.8" stroke="#2a2af2" stroke-width="0.9"/>
<line x1="277.68" y1="235.3" x2="277.68" y2="228.6" stroke="#2a2af2" stroke-width="0.9"/>
<line x1="276.28" y1="228.6" x2="279.08" y2="228.6" stroke="#2a2af2" stroke-width="0.9"/>
<line x1="285.14" y1="221.1" x2="285.14" y2="216.8" stroke="#2a2af2" stroke-width="0.9"/>
<line x1="283.74" y1="216.8" x2="286.54" y2="216.8" stroke="#2a2af2" stroke-width="0.9"/>
<line x1="292.6" y1="239.8" x2="292.6" y2="234.9" stroke="#2a2af2" stroke-width="0.9"/>
<line x1="291.2" y1="234.9" x2="294" y2="234.9" stroke="#2a2af2" stroke-width="0.9"/>
<line x1="300.06" y1="240.6" x2="300.06" y2="229.3" stroke="#2a2af2" stroke-width="0.9"/>
<line x1="298.66" y1="229.3" x2="301.46" y2="229.3" stroke="#2a2af2" stroke-width="0.9"/>
<line x1="307.52" y1="244.8" x2="307.52" y2="236.1" stroke="#2a2af2" stroke-width="0.9"/>
<line x1="306.12" y1="236.1" x2="308.92" y2="236.1" stroke="#2a2af2" stroke-width="0.9"/>
<line x1="314.98" y1="240.3" x2="314.98" y2="220.3" stroke="#2a2af2" stroke-width="0.9"/>
<line x1="313.58" y1="220.3" x2="316.38" y2="220.3" stroke="#2a2af2" stroke-width="0.9"/>
<line x1="322.44" y1="242.9" x2="322.44" y2="227.8" stroke="#2a2af2" stroke-width="0.9"/>
<line x1="321.04" y1="227.8" x2="323.84" y2="227.8" stroke="#2a2af2" stroke-width="0.9"/>
<line x1="329.9" y1="244.8" x2="329.9" y2="231.6" stroke="#2a2af2" stroke-width="0.9"/>
<line x1="328.5" y1="231.6" x2="331.3" y2="231.6" stroke="#2a2af2" stroke-width="0.9"/>
<polyline points="158.3,252.7 165.76,244.5 173.22,257.3 180.68,251.5 188.14,247.8 195.61,238.4 203.07,245.4 210.53,231.8 217.99,232.5 225.45,224 232.91,223 240.37,214.3 247.83,211.7 255.29,232.3 262.75,228.6 270.22,240.3 277.68,235.3 285.14,221.1 292.6,239.8 300.06,240.6 307.52,244.8 314.98,240.3 322.44,242.9 329.9,244.8" fill="none" stroke="#2a2af2" stroke-width="1.1" stroke-linejoin="round"/>
<line x1="150.5" y1="197.6" x2="150.5" y2="299.48" stroke="#222" stroke-width="1"/>
<line x1="148.3" y1="198.1" x2="150.5" y2="198.1" stroke="#222" stroke-width="1"/>
<text x="147.5" y="200.12" font-size="5.6" text-anchor="end" fill="#2a2a2a">100000</text>
<line x1="148.3" y1="223.32" x2="150.5" y2="223.32" stroke="#222" stroke-width="1"/>
<text x="147.5" y="225.34" font-size="5.6" text-anchor="end" fill="#2a2a2a">80000</text>
<line x1="148.3" y1="248.54" x2="150.5" y2="248.54" stroke="#222" stroke-width="1"/>
<text x="147.5" y="250.56" font-size="5.6" text-anchor="end" fill="#2a2a2a">60000</text>
<line x1="148.3" y1="273.76" x2="150.5" y2="273.76" stroke="#222" stroke-width="1"/>
<text x="147.5" y="275.78" font-size="5.6" text-anchor="end" fill="#2a2a2a">40000</text>
<line x1="148.3" y1="298.98" x2="150.5" y2="298.98" stroke="#222" stroke-width="1"/>
<text x="147.5" y="301" font-size="5.6" text-anchor="end" fill="#2a2a2a">20000</text>
<line x1="150" y1="299" x2="330.4" y2="299" stroke="#222" stroke-width="1.2"/>
<line x1="158.3" y1="299" x2="158.3" y2="301" stroke="#222" stroke-width="0.9"/>
<text font-size="5.6" text-anchor="end" fill="#1a1a1a" transform="translate(160.1 306.4) rotate(-45) scale(0.880 1)">15:00</text>
<line x1="165.76" y1="299" x2="165.76" y2="301" stroke="#222" stroke-width="0.9"/>
<text font-size="5.6" text-anchor="end" fill="#1a1a1a" transform="translate(167.56 306.4) rotate(-45) scale(0.880 1)">16:00</text>
<line x1="173.22" y1="299" x2="173.22" y2="301" stroke="#222" stroke-width="0.9"/>
<text font-size="5.6" text-anchor="end" fill="#1a1a1a" transform="translate(175.02 306.4) rotate(-45) scale(0.880 1)">17:00</text>
<line x1="180.68" y1="299" x2="180.68" y2="301" stroke="#222" stroke-width="0.9"/>
<text font-size="5.6" text-anchor="end" fill="#1a1a1a" transform="translate(182.48 306.4) rotate(-45) scale(0.880 1)">18:00</text>
<line x1="188.14" y1="299" x2="188.14" y2="301" stroke="#222" stroke-width="0.9"/>
<text font-size="5.6" text-anchor="end" fill="#1a1a1a" transform="translate(189.94 306.4) rotate(-45) scale(0.880 1)">19:00</text>
<line x1="195.61" y1="299" x2="195.61" y2="301" stroke="#222" stroke-width="0.9"/>
<text font-size="5.6" text-anchor="end" fill="#1a1a1a" transform="translate(197.41 306.4) rotate(-45) scale(0.880 1)">20:00</text>
<line x1="203.07" y1="299" x2="203.07" y2="301" stroke="#222" stroke-width="0.9"/>
<text font-size="5.6" text-anchor="end" fill="#1a1a1a" transform="translate(204.87 306.4) rotate(-45) scale(0.880 1)">21:00</text>
<line x1="210.53" y1="299" x2="210.53" y2="301" stroke="#222" stroke-width="0.9"/>
<text font-size="5.6" text-anchor="end" fill="#1a1a1a" transform="translate(212.33 306.4) rotate(-45) scale(0.880 1)">22:00</text>
<line x1="217.99" y1="299" x2="217.99" y2="301" stroke="#222" stroke-width="0.9"/>
<text font-size="5.6" text-anchor="end" fill="#1a1a1a" transform="translate(219.79 306.4) rotate(-45) scale(0.880 1)">23:00</text>
<line x1="225.45" y1="299" x2="225.45" y2="301" stroke="#222" stroke-width="0.9"/>
<text font-size="5.6" text-anchor="end" fill="#1a1a1a" transform="translate(227.25 306.4) rotate(-45) scale(0.880 1)">0:00</text>
<line x1="232.91" y1="299" x2="232.91" y2="301" stroke="#222" stroke-width="0.9"/>
<text font-size="5.6" text-anchor="end" fill="#1a1a1a" transform="translate(234.71 306.4) rotate(-45) scale(0.880 1)">1:00</text>
<line x1="240.37" y1="299" x2="240.37" y2="301" stroke="#222" stroke-width="0.9"/>
<text font-size="5.6" text-anchor="end" fill="#1a1a1a" transform="translate(242.17 306.4) rotate(-45) scale(0.880 1)">2:00</text>
<line x1="247.83" y1="299" x2="247.83" y2="301" stroke="#222" stroke-width="0.9"/>
<text font-size="5.6" text-anchor="end" fill="#1a1a1a" transform="translate(249.63 306.4) rotate(-45) scale(0.880 1)">3:00</text>
<line x1="255.29" y1="299" x2="255.29" y2="301" stroke="#222" stroke-width="0.9"/>
<text font-size="5.6" text-anchor="end" fill="#1a1a1a" transform="translate(257.09 306.4) rotate(-45) scale(0.880 1)">4:00</text>
<line x1="262.75" y1="299" x2="262.75" y2="301" stroke="#222" stroke-width="0.9"/>
<text font-size="5.6" text-anchor="end" fill="#1a1a1a" transform="translate(264.55 306.4) rotate(-45) scale(0.880 1)">5:00</text>
<line x1="270.22" y1="299" x2="270.22" y2="301" stroke="#222" stroke-width="0.9"/>
<text font-size="5.6" text-anchor="end" fill="#1a1a1a" transform="translate(272.02 306.4) rotate(-45) scale(0.880 1)">6:00</text>
<line x1="277.68" y1="299" x2="277.68" y2="301" stroke="#222" stroke-width="0.9"/>
<text font-size="5.6" text-anchor="end" fill="#1a1a1a" transform="translate(279.48 306.4) rotate(-45) scale(0.880 1)">7:00</text>
<line x1="285.14" y1="299" x2="285.14" y2="301" stroke="#222" stroke-width="0.9"/>
<text font-size="5.6" text-anchor="end" fill="#1a1a1a" transform="translate(286.94 306.4) rotate(-45) scale(0.880 1)">8:00</text>
<line x1="292.6" y1="299" x2="292.6" y2="301" stroke="#222" stroke-width="0.9"/>
<text font-size="5.6" text-anchor="end" fill="#1a1a1a" transform="translate(294.4 306.4) rotate(-45) scale(0.880 1)">9:00</text>
<line x1="300.06" y1="299" x2="300.06" y2="301" stroke="#222" stroke-width="0.9"/>
<text font-size="5.6" text-anchor="end" fill="#1a1a1a" transform="translate(301.86 306.4) rotate(-45) scale(0.880 1)">10:00</text>
<line x1="307.52" y1="299" x2="307.52" y2="301" stroke="#222" stroke-width="0.9"/>
<text font-size="5.6" text-anchor="end" fill="#1a1a1a" transform="translate(309.32 306.4) rotate(-45) scale(0.880 1)">11:00</text>
<line x1="314.98" y1="299" x2="314.98" y2="301" stroke="#222" stroke-width="0.9"/>
<text font-size="5.6" text-anchor="end" fill="#1a1a1a" transform="translate(316.78 306.4) rotate(-45) scale(0.880 1)">12:00</text>
<line x1="322.44" y1="299" x2="322.44" y2="301" stroke="#222" stroke-width="0.9"/>
<text font-size="5.6" text-anchor="end" fill="#1a1a1a" transform="translate(324.24 306.4) rotate(-45) scale(0.880 1)">13:00</text>
<line x1="329.9" y1="299" x2="329.9" y2="301" stroke="#222" stroke-width="0.9"/>
<text font-size="5.6" text-anchor="end" fill="#1a1a1a" transform="translate(331.7 306.4) rotate(-45) scale(0.880 1)">14:00</text>
<line x1="156" y1="198.1" x2="164.1" y2="198.1" stroke="#3434ff" stroke-width="1.1"/>
<text font-size="6.4" fill="#111" transform="translate(168.9 200.4) scale(0.970 1)">NC</text>
<line x1="156" y1="205.95" x2="164.1" y2="205.95" stroke="#ff3a3a" stroke-width="1.1"/>
<text font-size="6.4" fill="#111" transform="translate(168.9 208.25) scale(0.970 1)">HFD</text>
<line x1="156" y1="213.8" x2="164.1" y2="213.8" stroke="#c8c84a" stroke-width="1.1"/>
<text font-size="6.4" fill="#111" transform="translate(168.9 216.1) scale(0.970 1)">HFD+Rhe</text>
<rect x="154.2" y="319" width="41.7" height="4.8" fill="#d6d6d6" stroke="none" stroke-width="1"/>
<rect x="195.9" y="319" width="83.9" height="4.8" fill="#050505" stroke="none" stroke-width="1"/>
<rect x="279.8" y="319" width="51.1" height="4.8" fill="#d6d6d6" stroke="none" stroke-width="1"/>
<text font-size="6.4" text-anchor="middle" font-style="italic" fill="#111" transform="translate(182.6 330.4) scale(0.950 1)">Light</text>
<text font-size="6.4" text-anchor="middle" font-style="italic" fill="#111" transform="translate(240.3 330.4) scale(0.950 1)">Dark</text>
<text font-size="6.4" text-anchor="middle" font-style="italic" fill="#111" transform="translate(312.7 330.4) scale(0.950 1)">Light</text>
<text font-size="6.4" text-anchor="middle" fill="#111" transform="translate(240.3 336.1) scale(0.950 1)">Time</text>
<text font-size="6.5" text-anchor="middle" fill="#222" transform="translate(114.3 248.8) rotate(-90)">EE (J)</text>
<text x="340.3" y="187.2" font-size="12" fill="#111">g</text>
<line x1="397.9" y1="204.4" x2="397.9" y2="312.4" stroke="#222" stroke-width="1.2"/>
<line x1="394.9" y1="204.9" x2="397.9" y2="204.9" stroke="#222" stroke-width="1.2"/>
<text x="394.1" y="207.53" font-size="7.3" text-anchor="end" fill="#2a2a2a">100000</text>
<line x1="394.9" y1="231.65" x2="397.9" y2="231.65" stroke="#222" stroke-width="1.2"/>
<text x="394.1" y="234.28" font-size="7.3" text-anchor="end" fill="#2a2a2a">80000</text>
<line x1="394.9" y1="258.4" x2="397.9" y2="258.4" stroke="#222" stroke-width="1.2"/>
<text x="394.1" y="261.03" font-size="7.3" text-anchor="end" fill="#2a2a2a">60000</text>
<line x1="394.9" y1="285.15" x2="397.9" y2="285.15" stroke="#222" stroke-width="1.2"/>
<text x="394.1" y="287.78" font-size="7.3" text-anchor="end" fill="#2a2a2a">40000</text>
<line x1="394.9" y1="311.9" x2="397.9" y2="311.9" stroke="#222" stroke-width="1.2"/>
<text x="394.1" y="314.53" font-size="7.3" text-anchor="end" fill="#2a2a2a">20000</text>
<line x1="413.35" y1="311.9" x2="413.35" y2="314.9" stroke="#222" stroke-width="1.1"/>
<rect x="407.05" y="247.3" width="12.6" height="64.6" fill="#fff" stroke="#585858" stroke-width="1.3"/>
<line x1="431.95" y1="311.9" x2="431.95" y2="314.9" stroke="#222" stroke-width="1.1"/>
<rect x="425.65" y="276.6" width="12.6" height="35.3" fill="#fff" stroke="#9a9a9a" stroke-width="1.3"/>
<line x1="450.2" y1="311.9" x2="450.2" y2="314.9" stroke="#222" stroke-width="1.1"/>
<rect x="444.05" y="266.3" width="12.3" height="45.6" fill="#fff" stroke="#585858" stroke-width="1.3"/>
<line x1="397.4" y1="311.9" x2="465.5" y2="311.9" stroke="#222" stroke-width="1.4"/>
<line x1="413.35" y1="247.3" x2="413.35" y2="243.7" stroke="#111" stroke-width="1.1"/>
<line x1="410.35" y1="243.7" x2="416.35" y2="243.7" stroke="#111" stroke-width="1.1"/>
<line x1="431.95" y1="276.6" x2="431.95" y2="271.1" stroke="#111" stroke-width="1.1"/>
<line x1="428.95" y1="271.1" x2="434.95" y2="271.1" stroke="#111" stroke-width="1.1"/>
<line x1="450.2" y1="266.3" x2="450.2" y2="263.6" stroke="#111" stroke-width="1.1"/>
<line x1="447.2" y1="263.6" x2="453.2" y2="263.6" stroke="#111" stroke-width="1.1"/>
<circle cx="408.2" cy="243.4" r="2.2" fill="#111"/>
<circle cx="408.2" cy="249.1" r="2.2" fill="#111"/>
<circle cx="418.5" cy="247.3" r="2.2" fill="#111"/>
<polygon points="431.7,268.7 434.1,271.1 431.7,273.5 429.3,271.1" fill="#111" stroke="none" stroke-width="1"/>
<rect x="424.7" y="277.7" width="4.2" height="4.2" fill="#111" stroke="none" stroke-width="1"/>
<rect x="435" y="276.3" width="4.2" height="4.2" fill="#111" stroke="none" stroke-width="1"/>
<circle cx="444.9" cy="263.2" r="2.2" fill="#111"/>
<circle cx="444.9" cy="268.1" r="2.2" fill="#111"/>
<circle cx="455.1" cy="266.8" r="2.2" fill="#111"/>
<polyline points="411.8,241.6 411.8,230.2 430.4,230.2 430.4,269" fill="none" stroke="#1a1a1a" stroke-width="1.1" stroke-dasharray="2.4,1.5"/>
<polyline points="433.5,269 433.5,248.2 450.3,248.2 450.3,262.7" fill="none" stroke="#1a1a1a" stroke-width="1.1" stroke-dasharray="2.4,1.5"/>
<text x="421.4" y="229.6" font-size="10" text-anchor="middle" font-weight="bold" fill="#111">***</text>
<text x="441.6" y="249.4" font-size="10" text-anchor="middle" font-weight="bold" fill="#111">*</text>
<text font-size="7.4" text-anchor="end" fill="#222" transform="translate(416 322.5) rotate(-45)">NC</text>
<text font-size="7.4" text-anchor="end" fill="#222" transform="translate(433.8 322.5) rotate(-45)">HFD</text>
<text font-size="7.4" text-anchor="end" fill="#222" transform="translate(451.8 322.5) rotate(-45)">HFD+Rhe</text>
<text font-size="9.1" text-anchor="middle" fill="#222" transform="translate(364.5 259) rotate(-90)">EE (J)</text>
<text x="474.3" y="187.6" font-size="12" fill="#111">h</text>
<line x1="507.4" y1="206.1" x2="507.4" y2="310.1" stroke="#222" stroke-width="1.1"/>
<line x1="504.4" y1="206.6" x2="507.4" y2="206.6" stroke="#222" stroke-width="1.1"/>
<text x="503.6" y="209.3" font-size="7.6" text-anchor="end" fill="#2a2a2a">40</text>
<line x1="504.4" y1="235.93" x2="507.4" y2="235.93" stroke="#222" stroke-width="1.1"/>
<text x="503.6" y="238.63" font-size="7.6" text-anchor="end" fill="#2a2a2a">38</text>
<line x1="504.4" y1="265.27" x2="507.4" y2="265.27" stroke="#222" stroke-width="1.1"/>
<text x="503.6" y="267.97" font-size="7.6" text-anchor="end" fill="#2a2a2a">36</text>
<line x1="504.4" y1="294.6" x2="507.4" y2="294.6" stroke="#222" stroke-width="1.1"/>
<text x="503.6" y="297.3" font-size="7.6" text-anchor="end" fill="#2a2a2a">34</text>
<line x1="506.9" y1="309.6" x2="662" y2="309.6" stroke="#222" stroke-width="1.1"/>
<line x1="507.4" y1="309.6" x2="507.4" y2="312.6" stroke="#222" stroke-width="1.1"/>
<text x="507.4" y="320.9" font-size="7.3" text-anchor="middle" fill="#2a2a2a">0</text>
<line x1="524.5" y1="309.6" x2="524.5" y2="312.6" stroke="#222" stroke-width="1.1"/>
<text x="524.5" y="320.9" font-size="7.3" text-anchor="middle" fill="#2a2a2a">30</text>
<line x1="541.6" y1="309.6" x2="541.6" y2="312.6" stroke="#222" stroke-width="1.1"/>
<text x="541.6" y="320.9" font-size="7.3" text-anchor="middle" fill="#2a2a2a">60</text>
<line x1="558.7" y1="309.6" x2="558.7" y2="312.6" stroke="#222" stroke-width="1.1"/>
<text x="558.7" y="320.9" font-size="7.3" text-anchor="middle" fill="#2a2a2a">90</text>
<line x1="575.8" y1="309.6" x2="575.8" y2="312.6" stroke="#222" stroke-width="1.1"/>
<text x="575.8" y="320.9" font-size="7.3" text-anchor="middle" fill="#2a2a2a">120</text>
<line x1="592.9" y1="309.6" x2="592.9" y2="312.6" stroke="#222" stroke-width="1.1"/>
<text x="592.9" y="320.9" font-size="7.3" text-anchor="middle" fill="#2a2a2a">150</text>
<line x1="610" y1="309.6" x2="610" y2="312.6" stroke="#222" stroke-width="1.1"/>
<text x="610" y="320.9" font-size="7.3" text-anchor="middle" fill="#2a2a2a">180</text>
<line x1="627.1" y1="309.6" x2="627.1" y2="312.6" stroke="#222" stroke-width="1.1"/>
<text x="627.1" y="320.9" font-size="7.3" text-anchor="middle" fill="#2a2a2a">210</text>
<line x1="644.2" y1="309.6" x2="644.2" y2="312.6" stroke="#222" stroke-width="1.1"/>
<text x="644.2" y="320.9" font-size="7.3" text-anchor="middle" fill="#2a2a2a">240</text>
<line x1="661.3" y1="309.6" x2="661.3" y2="312.6" stroke="#222" stroke-width="1.1"/>
<text x="661.3" y="320.9" font-size="7.3" text-anchor="middle" fill="#2a2a2a">270</text>
<text x="584.3" y="346.6" font-size="8.4" text-anchor="middle" fill="#222">Time (min)</text>
<text font-size="8.5" text-anchor="middle" fill="#222" transform="translate(491 258.3) rotate(-90)">Rectal temperature (<tspan font-size="70%" dy="-2.2">o</tspan><tspan dy="2.2">C)</tspan></text>
<polyline points="507.4,242.3 541.6,270.4 558.7,259.8 575.8,265 661.3,269.1" fill="none" stroke="#c5c935" stroke-width="1.4"/>
<line x1="507.4" y1="231.5" x2="507.4" y2="244" stroke="#c5c935" stroke-width="1.2"/>
<line x1="505.2" y1="231.5" x2="509.6" y2="231.5" stroke="#c5c935" stroke-width="1.2"/>
<line x1="505.2" y1="244" x2="509.6" y2="244" stroke="#c5c935" stroke-width="1.2"/>
<polygon points="507.4,239.82 505.1,243.96 509.7,243.96" fill="#c5c935" stroke="none" stroke-width="1"/>
<line x1="541.6" y1="269.4" x2="541.6" y2="272.8" stroke="#c5c935" stroke-width="1.2"/>
<line x1="539.4" y1="269.4" x2="543.8" y2="269.4" stroke="#c5c935" stroke-width="1.2"/>
<line x1="539.4" y1="272.8" x2="543.8" y2="272.8" stroke="#c5c935" stroke-width="1.2"/>
<polygon points="541.6,267.92 539.3,272.06 543.9,272.06" fill="#c5c935" stroke="none" stroke-width="1"/>
<line x1="558.7" y1="257.5" x2="558.7" y2="262" stroke="#c5c935" stroke-width="1.2"/>
<line x1="556.5" y1="257.5" x2="560.9" y2="257.5" stroke="#c5c935" stroke-width="1.2"/>
<line x1="556.5" y1="262" x2="560.9" y2="262" stroke="#c5c935" stroke-width="1.2"/>
<polygon points="558.7,257.32 556.4,261.46 561,261.46" fill="#c5c935" stroke="none" stroke-width="1"/>
<line x1="575.8" y1="263" x2="575.8" y2="267" stroke="#c5c935" stroke-width="1.2"/>
<line x1="573.6" y1="263" x2="578" y2="263" stroke="#c5c935" stroke-width="1.2"/>
<line x1="573.6" y1="267" x2="578" y2="267" stroke="#c5c935" stroke-width="1.2"/>
<polygon points="575.8,262.52 573.5,266.66 578.1,266.66" fill="#c5c935" stroke="none" stroke-width="1"/>
<line x1="661.3" y1="265" x2="661.3" y2="272.5" stroke="#c5c935" stroke-width="1.2"/>
<line x1="659.1" y1="265" x2="663.5" y2="265" stroke="#c5c935" stroke-width="1.2"/>
<line x1="659.1" y1="272.5" x2="663.5" y2="272.5" stroke="#c5c935" stroke-width="1.2"/>
<polygon points="661.3,266.62 659,270.76 663.6,270.76" fill="#c5c935" stroke="none" stroke-width="1"/>
<polyline points="507.4,249 541.6,258.3 558.7,259.2 575.8,268.3 661.3,289" fill="none" stroke="#f42828" stroke-width="1.4"/>
<line x1="507.4" y1="245" x2="507.4" y2="253.2" stroke="#f42828" stroke-width="1.2"/>
<line x1="505.2" y1="245" x2="509.6" y2="245" stroke="#f42828" stroke-width="1.2"/>
<line x1="505.2" y1="253.2" x2="509.6" y2="253.2" stroke="#f42828" stroke-width="1.2"/>
<rect x="505.1" y="246.7" width="4.6" height="4.6" fill="#f42828" stroke="none" stroke-width="1"/>
<line x1="541.6" y1="246.8" x2="541.6" y2="270" stroke="#f42828" stroke-width="1.2"/>
<line x1="539.4" y1="246.8" x2="543.8" y2="246.8" stroke="#f42828" stroke-width="1.2"/>
<line x1="539.4" y1="270" x2="543.8" y2="270" stroke="#f42828" stroke-width="1.2"/>
<rect x="539.3" y="256" width="4.6" height="4.6" fill="#f42828" stroke="none" stroke-width="1"/>
<line x1="558.7" y1="249.7" x2="558.7" y2="268" stroke="#f42828" stroke-width="1.2"/>
<line x1="556.5" y1="249.7" x2="560.9" y2="249.7" stroke="#f42828" stroke-width="1.2"/>
<line x1="556.5" y1="268" x2="560.9" y2="268" stroke="#f42828" stroke-width="1.2"/>
<rect x="556.4" y="256.9" width="4.6" height="4.6" fill="#f42828" stroke="none" stroke-width="1"/>
<line x1="575.8" y1="265" x2="575.8" y2="273.8" stroke="#f42828" stroke-width="1.2"/>
<line x1="573.6" y1="265" x2="578" y2="265" stroke="#f42828" stroke-width="1.2"/>
<line x1="573.6" y1="273.8" x2="578" y2="273.8" stroke="#f42828" stroke-width="1.2"/>
<rect x="573.5" y="266" width="4.6" height="4.6" fill="#f42828" stroke="none" stroke-width="1"/>
<line x1="661.3" y1="285.3" x2="661.3" y2="294.9" stroke="#f42828" stroke-width="1.2"/>
<line x1="659.1" y1="285.3" x2="663.5" y2="285.3" stroke="#f42828" stroke-width="1.2"/>
<line x1="659.1" y1="294.9" x2="663.5" y2="294.9" stroke="#f42828" stroke-width="1.2"/>
<rect x="659" y="286.7" width="4.6" height="4.6" fill="#f42828" stroke="none" stroke-width="1"/>
<polyline points="507.4,241.9 541.6,285.3 558.7,270.9 575.8,261.8 661.3,280.3" fill="none" stroke="#2020f2" stroke-width="1.4"/>
<line x1="507.4" y1="240" x2="507.4" y2="244" stroke="#2020f2" stroke-width="1.2"/>
<line x1="505.2" y1="240" x2="509.6" y2="240" stroke="#2020f2" stroke-width="1.2"/>
<line x1="505.2" y1="244" x2="509.6" y2="244" stroke="#2020f2" stroke-width="1.2"/>
<circle cx="507.4" cy="241.9" r="2.3" fill="#2020f2"/>
<line x1="541.6" y1="269.4" x2="541.6" y2="301.3" stroke="#2020f2" stroke-width="1.2"/>
<line x1="539.4" y1="269.4" x2="543.8" y2="269.4" stroke="#2020f2" stroke-width="1.2"/>
<line x1="539.4" y1="301.3" x2="543.8" y2="301.3" stroke="#2020f2" stroke-width="1.2"/>
<circle cx="541.6" cy="285.3" r="2.3" fill="#2020f2"/>
<line x1="558.7" y1="257" x2="558.7" y2="282" stroke="#2020f2" stroke-width="1.2"/>
<line x1="556.5" y1="257" x2="560.9" y2="257" stroke="#2020f2" stroke-width="1.2"/>
<line x1="556.5" y1="282" x2="560.9" y2="282" stroke="#2020f2" stroke-width="1.2"/>
<circle cx="558.7" cy="270.9" r="2.3" fill="#2020f2"/>
<line x1="575.8" y1="259" x2="575.8" y2="264.3" stroke="#2020f2" stroke-width="1.2"/>
<line x1="573.6" y1="259" x2="578" y2="259" stroke="#2020f2" stroke-width="1.2"/>
<line x1="573.6" y1="264.3" x2="578" y2="264.3" stroke="#2020f2" stroke-width="1.2"/>
<circle cx="575.8" cy="261.8" r="2.3" fill="#2020f2"/>
<line x1="661.3" y1="276.6" x2="661.3" y2="283.9" stroke="#2020f2" stroke-width="1.2"/>
<line x1="659.1" y1="276.6" x2="663.5" y2="276.6" stroke="#2020f2" stroke-width="1.2"/>
<line x1="659.1" y1="283.9" x2="663.5" y2="283.9" stroke="#2020f2" stroke-width="1.2"/>
<circle cx="661.3" cy="280.3" r="2.3" fill="#2020f2"/>
<line x1="603.2" y1="210.2" x2="613.3" y2="210.2" stroke="#2020f2" stroke-width="1.4"/>
<circle cx="608.3" cy="210.2" r="2.1" fill="#2020f2"/>
<text x="619.6" y="213.2" font-size="8.4" fill="#222">NC</text>
<line x1="603.2" y1="221.1" x2="613.3" y2="221.1" stroke="#f42828" stroke-width="1.4"/>
<rect x="606.2" y="219" width="4.2" height="4.2" fill="#f42828" stroke="none" stroke-width="1"/>
<text x="619.6" y="224.1" font-size="8.4" fill="#222">HFD</text>
<line x1="603.2" y1="232" x2="613.3" y2="232" stroke="#c5c935" stroke-width="1.4"/>
<polygon points="608.3,229.73 606.2,233.51 610.4,233.51" fill="#c5c935" stroke="none" stroke-width="1"/>
<text x="619.6" y="235" font-size="8.4" fill="#222">HFD+Rhein</text>
<text x="5.2" y="376.3" font-size="12" font-weight="bold" fill="#111">i</text>
<line x1="48.7" y1="382.1" x2="48.7" y2="493.2" stroke="#222" stroke-width="1.1"/>
<line x1="45.7" y1="382.6" x2="48.7" y2="382.6" stroke="#222" stroke-width="1.1"/>
<text x="44.9" y="385.4" font-size="8" text-anchor="end" fill="#2a2a2a">40</text>
<line x1="45.7" y1="410.28" x2="48.7" y2="410.28" stroke="#222" stroke-width="1.1"/>
<text x="44.9" y="413.08" font-size="8" text-anchor="end" fill="#2a2a2a">38</text>
<line x1="45.7" y1="437.95" x2="48.7" y2="437.95" stroke="#222" stroke-width="1.1"/>
<text x="44.9" y="440.75" font-size="8" text-anchor="end" fill="#2a2a2a">36</text>
<line x1="45.7" y1="465.62" x2="48.7" y2="465.62" stroke="#222" stroke-width="1.1"/>
<text x="44.9" y="468.43" font-size="8" text-anchor="end" fill="#2a2a2a">34</text>
<line x1="45.7" y1="493.3" x2="48.7" y2="493.3" stroke="#222" stroke-width="1.1"/>
<text x="44.9" y="496.1" font-size="8" text-anchor="end" fill="#2a2a2a">32</text>
<line x1="86.4" y1="492.7" x2="86.4" y2="496.1" stroke="#222" stroke-width="1.1"/>
<line x1="161.4" y1="492.7" x2="161.4" y2="496.1" stroke="#222" stroke-width="1.1"/>
<text font-size="7.4" text-anchor="end" fill="#222" transform="translate(88.8 504.8) rotate(-45)">120min</text>
<text font-size="7.4" text-anchor="end" fill="#222" transform="translate(164 504.8) rotate(-45)">270min</text>
<text font-size="8.8" text-anchor="middle" fill="#222" transform="translate(31 438) rotate(-90)">Rectal temperature (<tspan font-size="70%" dy="-2.2">o</tspan><tspan dy="2.2">C)</tspan></text>
<rect x="56.95" y="435.4" width="13.7" height="57.3" fill="#fff" stroke="#585858" stroke-width="1.3"/>
<rect x="80.05" y="442.1" width="13.5" height="50.6" fill="#fff" stroke="#9a9a9a" stroke-width="1.3"/>
<rect x="102.65" y="438.5" width="13.1" height="54.2" fill="#fff" stroke="#585858" stroke-width="1.3"/>
<rect x="133.15" y="452.7" width="12.8" height="40" fill="#fff" stroke="#585858" stroke-width="1.3"/>
<rect x="155.35" y="460.4" width="12.6" height="32.3" fill="#fff" stroke="#9a9a9a" stroke-width="1.3"/>
<rect x="178.25" y="441.1" width="12.6" height="51.6" fill="#fff" stroke="#585858" stroke-width="1.3"/>
<line x1="48.2" y1="492.7" x2="199.5" y2="492.7" stroke="#333" stroke-width="1.3"/>
<line x1="63.8" y1="435.4" x2="63.8" y2="432.2" stroke="#111" stroke-width="1.1"/>
<line x1="60.6" y1="432.2" x2="67" y2="432.2" stroke="#111" stroke-width="1.1"/>
<line x1="60.6" y1="435.4" x2="67" y2="435.4" stroke="#111" stroke-width="1.1"/>
<line x1="86.8" y1="442.1" x2="86.8" y2="434.9" stroke="#111" stroke-width="1.1"/>
<line x1="83.6" y1="434.9" x2="90" y2="434.9" stroke="#111" stroke-width="1.1"/>
<line x1="83.6" y1="442.1" x2="90" y2="442.1" stroke="#111" stroke-width="1.1"/>
<line x1="109.2" y1="438.5" x2="109.2" y2="435.5" stroke="#111" stroke-width="1.1"/>
<line x1="106" y1="435.5" x2="112.4" y2="435.5" stroke="#111" stroke-width="1.1"/>
<line x1="106" y1="438.5" x2="112.4" y2="438.5" stroke="#111" stroke-width="1.1"/>
<line x1="139.5" y1="452.7" x2="139.5" y2="449.5" stroke="#111" stroke-width="1.1"/>
<line x1="136.3" y1="449.5" x2="142.7" y2="449.5" stroke="#111" stroke-width="1.1"/>
<line x1="136.3" y1="452.7" x2="142.7" y2="452.7" stroke="#111" stroke-width="1.1"/>
<line x1="161.6" y1="460.4" x2="161.6" y2="453.8" stroke="#111" stroke-width="1.1"/>
<line x1="158.4" y1="453.8" x2="164.8" y2="453.8" stroke="#111" stroke-width="1.1"/>
<line x1="158.4" y1="460.4" x2="164.8" y2="460.4" stroke="#111" stroke-width="1.1"/>
<line x1="184.5" y1="441.1" x2="184.5" y2="439" stroke="#111" stroke-width="1.1"/>
<line x1="181.3" y1="439" x2="187.7" y2="439" stroke="#111" stroke-width="1.1"/>
<line x1="181.3" y1="441.1" x2="187.7" y2="441.1" stroke="#111" stroke-width="1.1"/>
<circle cx="59.2" cy="430.7" r="2.1" fill="#111"/>
<circle cx="59.2" cy="436.1" r="2.1" fill="#111"/>
<circle cx="69.5" cy="434.9" r="2.1" fill="#111"/>
<polygon points="86.6,432.6 88.9,434.9 86.6,437.2 84.3,434.9" fill="#111" stroke="none" stroke-width="1"/>
<rect x="79.6" y="442.8" width="4" height="4" fill="#111" stroke="none" stroke-width="1"/>
<rect x="90" y="440.1" width="4" height="4" fill="#111" stroke="none" stroke-width="1"/>
<polygon points="103.6,432.42 101.3,436.56 105.9,436.56" fill="#111" stroke="none" stroke-width="1"/>
<polygon points="103.6,438.72 101.3,442.86 105.9,442.86" fill="#111" stroke="none" stroke-width="1"/>
<polygon points="114.4,434.72 112.1,438.86 116.7,438.86" fill="#111" stroke="none" stroke-width="1"/>
<polygon points="139.2,445 141.5,447.3 139.2,449.6 136.9,447.3" fill="#111" stroke="none" stroke-width="1"/>
<circle cx="133.8" cy="453.8" r="2.1" fill="#111"/>
<circle cx="145.2" cy="453.2" r="2.1" fill="#111"/>
<polygon points="161.8,451.5 164.1,453.8 161.8,456.1 159.5,453.8" fill="#111" stroke="none" stroke-width="1"/>
<polygon points="161.8,457.2 164.1,459.5 161.8,461.8 159.5,459.5" fill="#111" stroke="none" stroke-width="1"/>
<polygon points="161.8,463 164.1,465.3 161.8,467.6 159.5,465.3" fill="#111" stroke="none" stroke-width="1"/>
<polygon points="184,434.52 181.7,438.66 186.3,438.66" fill="#111" stroke="none" stroke-width="1"/>
<polygon points="179.4,440.82 177.1,444.96 181.7,444.96" fill="#111" stroke="none" stroke-width="1"/>
<polygon points="189.7,439.92 187.4,444.06 192,444.06" fill="#111" stroke="none" stroke-width="1"/>
<line x1="65.9" y1="426.4" x2="111.9" y2="426.4" stroke="#1a1a1a" stroke-width="1.1" stroke-dasharray="2.4,1.5"/>
<text x="89.7" y="423.2" font-size="8" text-anchor="middle" fill="#222">n.s.</text>
<polyline points="139.2,443.3 139.2,438.4 160.5,438.4 160.5,450.5" fill="none" stroke="#1a1a1a" stroke-width="1.1" stroke-dasharray="2.4,1.5"/>
<text x="148.8" y="435.2" font-size="7.6" text-anchor="middle" fill="#222"><tspan font-style="italic">p</tspan>=0.09</text>
<polyline points="164.1,452.3 164.1,429.2 184.3,429.2 184.3,435.2" fill="none" stroke="#1a1a1a" stroke-width="1.1" stroke-dasharray="2.4,1.5"/>
<text x="174" y="430.1" font-size="10" text-anchor="middle" fill="#111">**</text>
<circle cx="59.2" cy="378.4" r="2.1" fill="#111"/>
<text x="71.8" y="381.2" font-size="7.7" fill="#222">NC</text>
<rect x="57.1" y="386.75" width="4.2" height="4.2" fill="#111" stroke="none" stroke-width="1"/>
<text x="71.8" y="391.65" font-size="7.7" fill="#222">HFD</text>
<polygon points="59.2,396.82 56.9,400.96 61.5,400.96" fill="#111" stroke="none" stroke-width="1"/>
<text x="71.8" y="402.1" font-size="7.7" fill="#222">HFD+Rhein</text>
<text x="242.8" y="377.6" font-size="12" fill="#111">j</text>
<line x1="269.4" y1="393.7" x2="269.4" y2="490.7" stroke="#222" stroke-width="1.1"/>
<line x1="266.4" y1="394.2" x2="269.4" y2="394.2" stroke="#222" stroke-width="1.1"/>
<text x="265.6" y="397.22" font-size="8.4" text-anchor="end" fill="#2a2a2a">4</text>
<line x1="266.4" y1="418.23" x2="269.4" y2="418.23" stroke="#222" stroke-width="1.1"/>
<text x="265.6" y="421.25" font-size="8.4" text-anchor="end" fill="#2a2a2a">3</text>
<line x1="266.4" y1="442.25" x2="269.4" y2="442.25" stroke="#222" stroke-width="1.1"/>
<text x="265.6" y="445.27" font-size="8.4" text-anchor="end" fill="#2a2a2a">2</text>
<line x1="266.4" y1="466.27" x2="269.4" y2="466.27" stroke="#222" stroke-width="1.1"/>
<text x="265.6" y="469.3" font-size="8.4" text-anchor="end" fill="#2a2a2a">1</text>
<line x1="266.4" y1="490.3" x2="269.4" y2="490.3" stroke="#222" stroke-width="1.1"/>
<text x="265.6" y="493.32" font-size="8.4" text-anchor="end" fill="#2a2a2a">0</text>
<line x1="284.25" y1="490.2" x2="284.25" y2="492.8" stroke="#222" stroke-width="1.1"/>
<text font-size="5.2" text-anchor="end" font-style="italic" fill="#222" transform="translate(285.45 499) rotate(-45)">Nrf1</text>
<rect x="276" y="466.2" width="3.3" height="24" fill="#fff" stroke="#606060" stroke-width="1"/>
<line x1="277.65" y1="466.2" x2="277.65" y2="463.3" stroke="#111" stroke-width="0.9"/>
<line x1="276.15" y1="463.3" x2="279.15" y2="463.3" stroke="#111" stroke-width="0.9"/>
<circle cx="277.76" cy="465.05" r="1.6" fill="#111"/>
<circle cx="277.92" cy="465.63" r="1.6" fill="#111"/>
<circle cx="276.52" cy="466.75" r="1.6" fill="#111"/>
<rect x="282.6" y="457.5" width="3.3" height="32.7" fill="#fff" stroke="#a8a8a8" stroke-width="1"/>
<line x1="284.25" y1="457.5" x2="284.25" y2="448.9" stroke="#111" stroke-width="0.9"/>
<line x1="282.75" y1="448.9" x2="285.75" y2="448.9" stroke="#111" stroke-width="0.9"/>
<circle cx="285.13" cy="455.36" r="1.6" fill="#111"/>
<circle cx="283.56" cy="456.44" r="1.6" fill="#111"/>
<circle cx="284.17" cy="459.68" r="1.6" fill="#111"/>
<rect x="288.9" y="413.9" width="3.3" height="76.3" fill="#fff" stroke="#555" stroke-width="1"/>
<line x1="290.55" y1="413.9" x2="290.55" y2="411.6" stroke="#111" stroke-width="0.9"/>
<line x1="289.05" y1="411.6" x2="292.05" y2="411.6" stroke="#111" stroke-width="0.9"/>
<circle cx="290.49" cy="415.38" r="1.6" fill="#111"/>
<circle cx="289.64" cy="414.51" r="1.6" fill="#111"/>
<circle cx="291.51" cy="414.49" r="1.6" fill="#111"/>
<line x1="311.83" y1="490.2" x2="311.83" y2="492.8" stroke="#222" stroke-width="1.1"/>
<text font-size="5.2" text-anchor="end" font-style="italic" fill="#222" transform="translate(313.03 499) rotate(-45)">Prdm16</text>
<rect x="303.58" y="466.2" width="3.3" height="24" fill="#fff" stroke="#606060" stroke-width="1"/>
<line x1="305.23" y1="466.2" x2="305.23" y2="464" stroke="#111" stroke-width="0.9"/>
<line x1="303.73" y1="464" x2="306.73" y2="464" stroke="#111" stroke-width="0.9"/>
<circle cx="305.86" cy="466.3" r="1.6" fill="#111"/>
<circle cx="304.1" cy="466.95" r="1.6" fill="#111"/>
<circle cx="305.47" cy="467.34" r="1.6" fill="#111"/>
<rect x="310.18" y="436.3" width="3.3" height="53.9" fill="#fff" stroke="#a8a8a8" stroke-width="1"/>
<line x1="311.83" y1="436.3" x2="311.83" y2="427.8" stroke="#111" stroke-width="0.9"/>
<line x1="310.33" y1="427.8" x2="313.33" y2="427.8" stroke="#111" stroke-width="0.9"/>
<circle cx="310.61" cy="435.43" r="1.6" fill="#111"/>
<circle cx="311.76" cy="437.91" r="1.6" fill="#111"/>
<circle cx="312.81" cy="437.26" r="1.6" fill="#111"/>
<rect x="316.48" y="412.5" width="3.3" height="77.7" fill="#fff" stroke="#555" stroke-width="1"/>
<line x1="318.13" y1="412.5" x2="318.13" y2="406.1" stroke="#111" stroke-width="0.9"/>
<line x1="316.63" y1="406.1" x2="319.63" y2="406.1" stroke="#111" stroke-width="0.9"/>
<circle cx="319.22" cy="413.44" r="1.6" fill="#111"/>
<circle cx="318.91" cy="412.04" r="1.6" fill="#111"/>
<circle cx="319.26" cy="412.26" r="1.6" fill="#111"/>
<line x1="339.41" y1="490.2" x2="339.41" y2="492.8" stroke="#222" stroke-width="1.1"/>
<text font-size="5.2" text-anchor="end" font-style="italic" fill="#222" transform="translate(340.61 499) rotate(-45)">Ucp1</text>
<rect x="331.16" y="466.2" width="3.3" height="24" fill="#fff" stroke="#606060" stroke-width="1"/>
<line x1="332.81" y1="466.2" x2="332.81" y2="465" stroke="#111" stroke-width="0.9"/>
<line x1="331.31" y1="465" x2="334.31" y2="465" stroke="#111" stroke-width="0.9"/>
<circle cx="331.76" cy="467.87" r="1.6" fill="#111"/>
<circle cx="332.07" cy="464.6" r="1.6" fill="#111"/>
<circle cx="332.64" cy="468.25" r="1.6" fill="#111"/>
<rect x="337.76" y="488.2" width="3.3" height="2" fill="#fff" stroke="#a8a8a8" stroke-width="1"/>
<line x1="339.41" y1="488.2" x2="339.41" y2="487" stroke="#111" stroke-width="0.9"/>
<line x1="337.91" y1="487" x2="340.91" y2="487" stroke="#111" stroke-width="0.9"/>
<circle cx="338.89" cy="488.76" r="1.6" fill="#111"/>
<circle cx="339.11" cy="488.23" r="1.6" fill="#111"/>
<circle cx="339.63" cy="487.54" r="1.6" fill="#111"/>
<rect x="344.06" y="483.7" width="3.3" height="6.5" fill="#fff" stroke="#555" stroke-width="1"/>
<line x1="345.71" y1="483.7" x2="345.71" y2="481.9" stroke="#111" stroke-width="0.9"/>
<line x1="344.21" y1="481.9" x2="347.21" y2="481.9" stroke="#111" stroke-width="0.9"/>
<circle cx="346.76" cy="484.07" r="1.6" fill="#111"/>
<circle cx="346.83" cy="484.5" r="1.6" fill="#111"/>
<circle cx="346.99" cy="485.27" r="1.6" fill="#111"/>
<line x1="366.99" y1="490.2" x2="366.99" y2="492.8" stroke="#222" stroke-width="1.1"/>
<text font-size="5.2" text-anchor="end" font-style="italic" fill="#222" transform="translate(368.19 499) rotate(-45)">Dio2</text>
<rect x="358.74" y="467.3" width="3.3" height="22.9" fill="#fff" stroke="#606060" stroke-width="1"/>
<line x1="360.39" y1="467.3" x2="360.39" y2="461.2" stroke="#111" stroke-width="0.9"/>
<line x1="358.89" y1="461.2" x2="361.89" y2="461.2" stroke="#111" stroke-width="0.9"/>
<circle cx="359.51" cy="468.05" r="1.6" fill="#111"/>
<circle cx="361.6" cy="468.89" r="1.6" fill="#111"/>
<circle cx="360.57" cy="469.08" r="1.6" fill="#111"/>
<rect x="365.34" y="462" width="3.3" height="28.2" fill="#fff" stroke="#a8a8a8" stroke-width="1"/>
<line x1="366.99" y1="462" x2="366.99" y2="460" stroke="#111" stroke-width="0.9"/>
<line x1="365.49" y1="460" x2="368.49" y2="460" stroke="#111" stroke-width="0.9"/>
<circle cx="366.24" cy="462.94" r="1.6" fill="#111"/>
<circle cx="367.18" cy="463.46" r="1.6" fill="#111"/>
<circle cx="365.85" cy="461.05" r="1.6" fill="#111"/>
<rect x="371.64" y="431.4" width="3.3" height="58.8" fill="#fff" stroke="#555" stroke-width="1"/>
<line x1="373.29" y1="431.4" x2="373.29" y2="426" stroke="#111" stroke-width="0.9"/>
<line x1="371.79" y1="426" x2="374.79" y2="426" stroke="#111" stroke-width="0.9"/>
<circle cx="374.56" cy="432.96" r="1.6" fill="#111"/>
<circle cx="374.07" cy="429.59" r="1.6" fill="#111"/>
<circle cx="372.38" cy="431.01" r="1.6" fill="#111"/>
<line x1="394.57" y1="490.2" x2="394.57" y2="492.8" stroke="#222" stroke-width="1.1"/>
<text font-size="5.2" text-anchor="end" font-style="italic" fill="#222" transform="translate(395.77 499) rotate(-45)">Atgepn</text>
<rect x="386.32" y="466.3" width="3.3" height="23.9" fill="#fff" stroke="#606060" stroke-width="1"/>
<line x1="387.97" y1="466.3" x2="387.97" y2="465" stroke="#111" stroke-width="0.9"/>
<line x1="386.47" y1="465" x2="389.47" y2="465" stroke="#111" stroke-width="0.9"/>
<circle cx="388.67" cy="465.39" r="1.6" fill="#111"/>
<circle cx="386.78" cy="467.94" r="1.6" fill="#111"/>
<circle cx="386.79" cy="466.8" r="1.6" fill="#111"/>
<rect x="392.92" y="460.9" width="3.3" height="29.3" fill="#fff" stroke="#a8a8a8" stroke-width="1"/>
<line x1="394.57" y1="460.9" x2="394.57" y2="456.7" stroke="#111" stroke-width="0.9"/>
<line x1="393.07" y1="456.7" x2="396.07" y2="456.7" stroke="#111" stroke-width="0.9"/>
<circle cx="394.13" cy="461.86" r="1.6" fill="#111"/>
<circle cx="395.82" cy="462.58" r="1.6" fill="#111"/>
<circle cx="395.87" cy="460.92" r="1.6" fill="#111"/>
<rect x="399.22" y="452.6" width="3.3" height="37.6" fill="#fff" stroke="#555" stroke-width="1"/>
<line x1="400.87" y1="452.6" x2="400.87" y2="451" stroke="#111" stroke-width="0.9"/>
<line x1="399.37" y1="451" x2="402.37" y2="451" stroke="#111" stroke-width="0.9"/>
<circle cx="399.77" cy="451.76" r="1.6" fill="#111"/>
<circle cx="399.65" cy="453.04" r="1.6" fill="#111"/>
<circle cx="400.63" cy="451.27" r="1.6" fill="#111"/>
<line x1="422.15" y1="490.2" x2="422.15" y2="492.8" stroke="#222" stroke-width="1.1"/>
<text font-size="5.2" text-anchor="end" font-style="italic" fill="#222" transform="translate(423.35 499) rotate(-45)">mtTfa</text>
<rect x="413.9" y="467.6" width="3.3" height="22.6" fill="#fff" stroke="#606060" stroke-width="1"/>
<line x1="415.55" y1="467.6" x2="415.55" y2="464.5" stroke="#111" stroke-width="0.9"/>
<line x1="414.05" y1="464.5" x2="417.05" y2="464.5" stroke="#111" stroke-width="0.9"/>
<circle cx="414.66" cy="468.09" r="1.6" fill="#111"/>
<circle cx="416.51" cy="465.59" r="1.6" fill="#111"/>
<circle cx="416.74" cy="466.78" r="1.6" fill="#111"/>
<rect x="420.5" y="444.6" width="3.3" height="45.6" fill="#fff" stroke="#a8a8a8" stroke-width="1"/>
<line x1="422.15" y1="444.6" x2="422.15" y2="443" stroke="#111" stroke-width="0.9"/>
<line x1="420.65" y1="443" x2="423.65" y2="443" stroke="#111" stroke-width="0.9"/>
<circle cx="421.83" cy="446.35" r="1.6" fill="#111"/>
<circle cx="422.2" cy="444.43" r="1.6" fill="#111"/>
<circle cx="422.4" cy="445.23" r="1.6" fill="#111"/>
<rect x="426.8" y="434.2" width="3.3" height="56" fill="#fff" stroke="#555" stroke-width="1"/>
<line x1="428.45" y1="434.2" x2="428.45" y2="432.5" stroke="#111" stroke-width="0.9"/>
<line x1="426.95" y1="432.5" x2="429.95" y2="432.5" stroke="#111" stroke-width="0.9"/>
<circle cx="428.76" cy="434.46" r="1.6" fill="#111"/>
<circle cx="428.47" cy="436.14" r="1.6" fill="#111"/>
<circle cx="429.02" cy="433.9" r="1.6" fill="#111"/>
<line x1="449.73" y1="490.2" x2="449.73" y2="492.8" stroke="#222" stroke-width="1.1"/>
<text font-size="5.2" text-anchor="end" font-style="italic" fill="#222" transform="translate(450.93 499) rotate(-45)">Cpt1b</text>
<rect x="441.48" y="466.3" width="3.3" height="23.9" fill="#fff" stroke="#606060" stroke-width="1"/>
<line x1="443.13" y1="466.3" x2="443.13" y2="465" stroke="#111" stroke-width="0.9"/>
<line x1="441.63" y1="465" x2="444.63" y2="465" stroke="#111" stroke-width="0.9"/>
<circle cx="442.61" cy="465.15" r="1.6" fill="#111"/>
<circle cx="443.18" cy="468.4" r="1.6" fill="#111"/>
<circle cx="441.86" cy="466.51" r="1.6" fill="#111"/>
<rect x="448.08" y="486.9" width="3.3" height="3.3" fill="#fff" stroke="#a8a8a8" stroke-width="1"/>
<line x1="449.73" y1="486.9" x2="449.73" y2="486" stroke="#111" stroke-width="0.9"/>
<line x1="448.23" y1="486" x2="451.23" y2="486" stroke="#111" stroke-width="0.9"/>
<circle cx="449.94" cy="486.53" r="1.6" fill="#111"/>
<circle cx="450.03" cy="484.79" r="1.6" fill="#111"/>
<circle cx="448.59" cy="487.48" r="1.6" fill="#111"/>
<rect x="454.38" y="484.4" width="3.3" height="5.8" fill="#fff" stroke="#555" stroke-width="1"/>
<line x1="456.03" y1="484.4" x2="456.03" y2="483.5" stroke="#111" stroke-width="0.9"/>
<line x1="454.53" y1="483.5" x2="457.53" y2="483.5" stroke="#111" stroke-width="0.9"/>
<circle cx="455.94" cy="484.96" r="1.6" fill="#111"/>
<circle cx="455.65" cy="485.19" r="1.6" fill="#111"/>
<circle cx="456.65" cy="485.31" r="1.6" fill="#111"/>
<line x1="268.9" y1="490.2" x2="463" y2="490.2" stroke="#333" stroke-width="1.2"/>
<polyline points="283.6,448.5 283.6,406.7 291.7,406.7 291.7,410.7" fill="none" stroke="#111" stroke-width="0.95" stroke-dasharray="1.2,1.6"/>
<text x="287.65" y="408.1" font-size="7.6" text-anchor="middle" fill="#111">***</text>
<polyline points="311.5,427.8 311.5,401.6 317.7,401.6 317.7,405.2" fill="none" stroke="#111" stroke-width="0.95" stroke-dasharray="1.2,1.6"/>
<text x="314.6" y="403" font-size="7.6" text-anchor="middle" fill="#111">*</text>
<polyline points="338.6,486.4 338.6,474.1 344.7,474.1 344.7,481" fill="none" stroke="#111" stroke-width="0.95" stroke-dasharray="1.2,1.6"/>
<text x="341.65" y="475.5" font-size="7.6" text-anchor="middle" fill="#111">**</text>
<polyline points="366.2,460.9 366.2,418.3 372.7,418.3 372.7,426" fill="none" stroke="#111" stroke-width="0.95" stroke-dasharray="1.2,1.6"/>
<text x="369.45" y="419.7" font-size="7.6" text-anchor="middle" fill="#111">***</text>
<polyline points="393.3,456.7 393.3,442.3 400.1,442.3 400.1,451.3" fill="none" stroke="#111" stroke-width="0.95" stroke-dasharray="1.2,1.6"/>
<text x="396.7" y="443.7" font-size="7.6" text-anchor="middle" fill="#111">*</text>
<polyline points="420.9,442.3 420.9,424.2 427.6,424.2 427.6,432.4" fill="none" stroke="#111" stroke-width="0.95" stroke-dasharray="1.2,1.6"/>
<text x="424.25" y="425.6" font-size="7.6" text-anchor="middle" fill="#111">**</text>
<polyline points="448.5,485.6 448.5,474.8 454.8,474.8 454.8,483.3" fill="none" stroke="#111" stroke-width="0.95" stroke-dasharray="1.2,1.6"/>
<text x="451.65" y="476.2" font-size="7.6" text-anchor="middle" fill="#111">****</text>
<rect x="275.2" y="380.1" width="13.2" height="3" fill="#7a7a7a" stroke="none" stroke-width="1"/>
<text font-size="6.6" fill="#222" transform="translate(295.6 383.9) scale(0.900 1)">NC</text>
<rect x="275.2" y="385.5" width="13.2" height="3" fill="#c4c4c4" stroke="none" stroke-width="1"/>
<text font-size="6.6" fill="#222" transform="translate(295.6 389.3) scale(0.900 1)">HFD</text>
<rect x="275.2" y="390.9" width="13.2" height="3" fill="#6a6a6a" stroke="none" stroke-width="1"/>
<text font-size="6.6" fill="#222" transform="translate(295.6 394.7) scale(0.900 1)">HFD+Rhein</text>
<text font-size="8.5" text-anchor="middle" fill="#222" transform="translate(254.6 437.2) rotate(-90)">Relative mRNA level</text>
<text x="400.8" y="391.4" font-size="8.7" fill="#222">iWAT 4<tspan dx="-0.5">°</tspan><tspan dx="-0.6">C</tspan></text>
<text x="250" y="531.2" font-size="12" fill="#111">m</text>
<line x1="280.5" y1="545.7" x2="280.5" y2="568.2" stroke="#222" stroke-width="1.1"/>
<line x1="280.5" y1="576.2" x2="280.5" y2="641.9" stroke="#222" stroke-width="1.1"/>
<line x1="277.5" y1="546.2" x2="280.5" y2="546.2" stroke="#222" stroke-width="1.1"/>
<text x="275" y="549.01" font-size="7.8" text-anchor="end" fill="#2a2a2a">10.0</text>
<line x1="277.5" y1="557" x2="280.5" y2="557" stroke="#222" stroke-width="1.1"/>
<text x="275" y="559.81" font-size="7.8" text-anchor="end" fill="#2a2a2a">7.5</text>
<line x1="277.5" y1="567.8" x2="280.5" y2="567.8" stroke="#222" stroke-width="1.1"/>
<text x="275" y="570.61" font-size="7.8" text-anchor="end" fill="#2a2a2a">5.0</text>
<line x1="277.5" y1="576.8" x2="280.5" y2="576.8" stroke="#222" stroke-width="1.1"/>
<text x="275" y="579.61" font-size="7.8" text-anchor="end" fill="#2a2a2a">3</text>
<line x1="277.5" y1="598.4" x2="280.5" y2="598.4" stroke="#222" stroke-width="1.1"/>
<text x="275" y="601.21" font-size="7.8" text-anchor="end" fill="#2a2a2a">2</text>
<line x1="277.5" y1="620" x2="280.5" y2="620" stroke="#222" stroke-width="1.1"/>
<text x="275" y="622.81" font-size="7.8" text-anchor="end" fill="#2a2a2a">1</text>
<line x1="277.5" y1="641.6" x2="280.5" y2="641.6" stroke="#222" stroke-width="1.1"/>
<text x="275" y="644.41" font-size="7.8" text-anchor="end" fill="#2a2a2a">0</text>
<line x1="294.75" y1="641.4" x2="294.75" y2="644" stroke="#222" stroke-width="1.1"/>
<text font-size="5.2" text-anchor="end" font-style="italic" fill="#222" transform="translate(295.95 650.2) rotate(-45)">Nrf1</text>
<rect x="287.1" y="620.7" width="2.9" height="20.7" fill="#fff" stroke="#606060" stroke-width="1"/>
<line x1="288.55" y1="620.7" x2="288.55" y2="618.5" stroke="#111" stroke-width="0.9"/>
<line x1="287.05" y1="618.5" x2="290.05" y2="618.5" stroke="#111" stroke-width="0.9"/>
<circle cx="289.18" cy="621.24" r="1.35" fill="#111"/>
<circle cx="289.7" cy="622" r="1.35" fill="#111"/>
<circle cx="289.65" cy="621.76" r="1.35" fill="#111"/>
<rect x="293.3" y="615.6" width="2.9" height="25.8" fill="#fff" stroke="#a8a8a8" stroke-width="1"/>
<line x1="294.75" y1="615.6" x2="294.75" y2="610.5" stroke="#111" stroke-width="0.9"/>
<line x1="293.25" y1="610.5" x2="296.25" y2="610.5" stroke="#111" stroke-width="0.9"/>
<circle cx="294.66" cy="613.53" r="1.35" fill="#111"/>
<circle cx="295.14" cy="617.55" r="1.35" fill="#111"/>
<circle cx="293.74" cy="617.36" r="1.35" fill="#111"/>
<rect x="299.3" y="609.3" width="2.9" height="32.1" fill="#fff" stroke="#555" stroke-width="1"/>
<line x1="300.75" y1="609.3" x2="300.75" y2="604.5" stroke="#111" stroke-width="0.9"/>
<line x1="299.25" y1="604.5" x2="302.25" y2="604.5" stroke="#111" stroke-width="0.9"/>
<circle cx="300.09" cy="609.16" r="1.35" fill="#111"/>
<circle cx="300.94" cy="609.49" r="1.35" fill="#111"/>
<circle cx="300.01" cy="607.16" r="1.35" fill="#111"/>
<line x1="322.12" y1="641.4" x2="322.12" y2="644" stroke="#222" stroke-width="1.1"/>
<text font-size="5.2" text-anchor="end" font-style="italic" fill="#222" transform="translate(323.32 650.2) rotate(-45)">Prdm16</text>
<rect x="314.47" y="620.1" width="2.9" height="21.3" fill="#fff" stroke="#606060" stroke-width="1"/>
<line x1="315.92" y1="620.1" x2="315.92" y2="617.5" stroke="#111" stroke-width="0.9"/>
<line x1="314.42" y1="617.5" x2="317.42" y2="617.5" stroke="#111" stroke-width="0.9"/>
<circle cx="317" cy="619.13" r="1.35" fill="#111"/>
<circle cx="315.03" cy="621.27" r="1.35" fill="#111"/>
<circle cx="314.98" cy="621.41" r="1.35" fill="#111"/>
<rect x="320.67" y="623.8" width="2.9" height="17.6" fill="#fff" stroke="#a8a8a8" stroke-width="1"/>
<line x1="322.12" y1="623.8" x2="322.12" y2="622" stroke="#111" stroke-width="0.9"/>
<line x1="320.62" y1="622" x2="323.62" y2="622" stroke="#111" stroke-width="0.9"/>
<circle cx="321.15" cy="624.32" r="1.35" fill="#111"/>
<circle cx="323.09" cy="621.61" r="1.35" fill="#111"/>
<circle cx="321.38" cy="622.52" r="1.35" fill="#111"/>
<rect x="326.67" y="598.5" width="2.9" height="42.9" fill="#fff" stroke="#555" stroke-width="1"/>
<line x1="328.12" y1="598.5" x2="328.12" y2="594" stroke="#111" stroke-width="0.9"/>
<line x1="326.62" y1="594" x2="329.62" y2="594" stroke="#111" stroke-width="0.9"/>
<circle cx="329.09" cy="600.62" r="1.35" fill="#111"/>
<circle cx="329.32" cy="597.57" r="1.35" fill="#111"/>
<circle cx="328.58" cy="598.67" r="1.35" fill="#111"/>
<line x1="349.49" y1="641.4" x2="349.49" y2="644" stroke="#222" stroke-width="1.1"/>
<text font-size="5.2" text-anchor="end" font-style="italic" fill="#222" transform="translate(350.69 650.2) rotate(-45)">Ucp1</text>
<rect x="341.84" y="620.1" width="2.9" height="21.3" fill="#fff" stroke="#606060" stroke-width="1"/>
<line x1="343.29" y1="620.1" x2="343.29" y2="618" stroke="#111" stroke-width="0.9"/>
<line x1="341.79" y1="618" x2="344.79" y2="618" stroke="#111" stroke-width="0.9"/>
<circle cx="344.44" cy="618.8" r="1.35" fill="#111"/>
<circle cx="344.5" cy="620.94" r="1.35" fill="#111"/>
<circle cx="342.77" cy="621.83" r="1.35" fill="#111"/>
<rect x="348.04" y="640.6" width="2.9" height="0.8" fill="#fff" stroke="#a8a8a8" stroke-width="1"/>
<line x1="349.49" y1="640.6" x2="349.49" y2="640" stroke="#111" stroke-width="0.9"/>
<line x1="347.99" y1="640" x2="350.99" y2="640" stroke="#111" stroke-width="0.9"/>
<circle cx="348.62" cy="639.99" r="1.35" fill="#111"/>
<circle cx="348.36" cy="639.04" r="1.35" fill="#111"/>
<circle cx="349.76" cy="639.73" r="1.35" fill="#111"/>
<rect x="354.04" y="639.8" width="2.9" height="1.6" fill="#fff" stroke="#555" stroke-width="1"/>
<line x1="355.49" y1="639.8" x2="355.49" y2="638.5" stroke="#111" stroke-width="0.9"/>
<line x1="353.99" y1="638.5" x2="356.99" y2="638.5" stroke="#111" stroke-width="0.9"/>
<circle cx="355.95" cy="637.61" r="1.35" fill="#111"/>
<circle cx="355" cy="639.09" r="1.35" fill="#111"/>
<circle cx="355.44" cy="641.2" r="1.35" fill="#111"/>
<line x1="376.86" y1="641.4" x2="376.86" y2="644" stroke="#222" stroke-width="1.1"/>
<text font-size="5.2" text-anchor="end" font-style="italic" fill="#222" transform="translate(378.06 650.2) rotate(-45)">Dio2</text>
<rect x="369.21" y="620.7" width="2.9" height="20.7" fill="#fff" stroke="#606060" stroke-width="1"/>
<line x1="370.66" y1="620.7" x2="370.66" y2="614.5" stroke="#111" stroke-width="0.9"/>
<line x1="369.16" y1="614.5" x2="372.16" y2="614.5" stroke="#111" stroke-width="0.9"/>
<circle cx="370.61" cy="619.89" r="1.35" fill="#111"/>
<circle cx="369.51" cy="621.6" r="1.35" fill="#111"/>
<circle cx="369.42" cy="622.79" r="1.35" fill="#111"/>
<rect x="375.41" y="598.2" width="2.9" height="43.2" fill="#fff" stroke="#a8a8a8" stroke-width="1"/>
<line x1="376.86" y1="598.2" x2="376.86" y2="591.5" stroke="#111" stroke-width="0.9"/>
<line x1="375.36" y1="591.5" x2="378.36" y2="591.5" stroke="#111" stroke-width="0.9"/>
<circle cx="377.76" cy="599.3" r="1.35" fill="#111"/>
<circle cx="377.61" cy="596.08" r="1.35" fill="#111"/>
<circle cx="377.06" cy="597.61" r="1.35" fill="#111"/>
<rect x="381.41" y="560.1" width="2.9" height="7.7" fill="#fff" stroke="#555" stroke-width="1"/>
<rect x="381.41" y="576.8" width="2.9" height="64.6" fill="#fff" stroke="#555" stroke-width="1"/>
<line x1="382.86" y1="560.1" x2="382.86" y2="554" stroke="#111" stroke-width="0.9"/>
<line x1="381.36" y1="554" x2="384.36" y2="554" stroke="#111" stroke-width="0.9"/>
<circle cx="381.68" cy="557.94" r="1.35" fill="#111"/>
<circle cx="384.04" cy="558.7" r="1.35" fill="#111"/>
<circle cx="383.52" cy="558.76" r="1.35" fill="#111"/>
<line x1="404.23" y1="641.4" x2="404.23" y2="644" stroke="#222" stroke-width="1.1"/>
<text font-size="5.2" text-anchor="end" font-style="italic" fill="#222" transform="translate(405.43 650.2) rotate(-45)">Atgepn</text>
<rect x="396.58" y="620.7" width="2.9" height="20.7" fill="#fff" stroke="#606060" stroke-width="1"/>
<line x1="398.03" y1="620.7" x2="398.03" y2="619" stroke="#111" stroke-width="0.9"/>
<line x1="396.53" y1="619" x2="399.53" y2="619" stroke="#111" stroke-width="0.9"/>
<circle cx="399.18" cy="622.59" r="1.35" fill="#111"/>
<circle cx="397.65" cy="620.02" r="1.35" fill="#111"/>
<circle cx="398.75" cy="620.81" r="1.35" fill="#111"/>
<rect x="402.78" y="627.1" width="2.9" height="14.3" fill="#fff" stroke="#a8a8a8" stroke-width="1"/>
<line x1="404.23" y1="627.1" x2="404.23" y2="626" stroke="#111" stroke-width="0.9"/>
<line x1="402.73" y1="626" x2="405.73" y2="626" stroke="#111" stroke-width="0.9"/>
<circle cx="404.88" cy="625.38" r="1.35" fill="#111"/>
<circle cx="405.17" cy="628.41" r="1.35" fill="#111"/>
<circle cx="405.39" cy="625.06" r="1.35" fill="#111"/>
<rect x="408.78" y="619.7" width="2.9" height="21.7" fill="#fff" stroke="#555" stroke-width="1"/>
<line x1="410.23" y1="619.7" x2="410.23" y2="618" stroke="#111" stroke-width="0.9"/>
<line x1="408.73" y1="618" x2="411.73" y2="618" stroke="#111" stroke-width="0.9"/>
<circle cx="409.82" cy="617.9" r="1.35" fill="#111"/>
<circle cx="411.32" cy="620.19" r="1.35" fill="#111"/>
<circle cx="411.33" cy="619" r="1.35" fill="#111"/>
<line x1="431.6" y1="641.4" x2="431.6" y2="644" stroke="#222" stroke-width="1.1"/>
<text font-size="5.2" text-anchor="end" font-style="italic" fill="#222" transform="translate(432.8 650.2) rotate(-45)">mtTfa</text>
<rect x="423.95" y="620.7" width="2.9" height="20.7" fill="#fff" stroke="#606060" stroke-width="1"/>
<line x1="425.4" y1="620.7" x2="425.4" y2="619" stroke="#111" stroke-width="0.9"/>
<line x1="423.9" y1="619" x2="426.9" y2="619" stroke="#111" stroke-width="0.9"/>
<circle cx="424.91" cy="620.9" r="1.35" fill="#111"/>
<circle cx="424.56" cy="619.89" r="1.35" fill="#111"/>
<circle cx="424.49" cy="618.84" r="1.35" fill="#111"/>
<rect x="430.15" y="625.2" width="2.9" height="16.2" fill="#fff" stroke="#a8a8a8" stroke-width="1"/>
<line x1="431.6" y1="625.2" x2="431.6" y2="624" stroke="#111" stroke-width="0.9"/>
<line x1="430.1" y1="624" x2="433.1" y2="624" stroke="#111" stroke-width="0.9"/>
<circle cx="432.89" cy="626.03" r="1.35" fill="#111"/>
<circle cx="430.43" cy="623.71" r="1.35" fill="#111"/>
<circle cx="431.69" cy="627.34" r="1.35" fill="#111"/>
<rect x="436.15" y="614.2" width="2.9" height="27.2" fill="#fff" stroke="#555" stroke-width="1"/>
<line x1="437.6" y1="614.2" x2="437.6" y2="612.5" stroke="#111" stroke-width="0.9"/>
<line x1="436.1" y1="612.5" x2="439.1" y2="612.5" stroke="#111" stroke-width="0.9"/>
<circle cx="436.92" cy="613.79" r="1.35" fill="#111"/>
<circle cx="438.45" cy="614.61" r="1.35" fill="#111"/>
<circle cx="437.4" cy="614" r="1.35" fill="#111"/>
<line x1="458.97" y1="641.4" x2="458.97" y2="644" stroke="#222" stroke-width="1.1"/>
<text font-size="5.2" text-anchor="end" font-style="italic" fill="#222" transform="translate(460.17 650.2) rotate(-45)">Cpt1b</text>
<rect x="451.32" y="620" width="2.9" height="21.4" fill="#fff" stroke="#606060" stroke-width="1"/>
<line x1="452.77" y1="620" x2="452.77" y2="618.5" stroke="#111" stroke-width="0.9"/>
<line x1="451.27" y1="618.5" x2="454.27" y2="618.5" stroke="#111" stroke-width="0.9"/>
<circle cx="453.85" cy="618.05" r="1.35" fill="#111"/>
<circle cx="452.75" cy="617.94" r="1.35" fill="#111"/>
<circle cx="451.81" cy="621.49" r="1.35" fill="#111"/>
<rect x="457.52" y="636.3" width="2.9" height="5.1" fill="#fff" stroke="#a8a8a8" stroke-width="1"/>
<line x1="458.97" y1="636.3" x2="458.97" y2="633.5" stroke="#111" stroke-width="0.9"/>
<line x1="457.47" y1="633.5" x2="460.47" y2="633.5" stroke="#111" stroke-width="0.9"/>
<circle cx="460.14" cy="637.32" r="1.35" fill="#111"/>
<circle cx="459.72" cy="636.87" r="1.35" fill="#111"/>
<circle cx="458.8" cy="634.57" r="1.35" fill="#111"/>
<rect x="463.52" y="631.4" width="2.9" height="10" fill="#fff" stroke="#555" stroke-width="1"/>
<line x1="464.97" y1="631.4" x2="464.97" y2="629.5" stroke="#111" stroke-width="0.9"/>
<line x1="463.47" y1="629.5" x2="466.47" y2="629.5" stroke="#111" stroke-width="0.9"/>
<circle cx="465.87" cy="629.86" r="1.35" fill="#111"/>
<circle cx="464.85" cy="630.5" r="1.35" fill="#111"/>
<circle cx="465.89" cy="633.6" r="1.35" fill="#111"/>
<line x1="280" y1="641.4" x2="469.5" y2="641.4" stroke="#333" stroke-width="1.2"/>
<polyline points="294.1,612 294.1,601.2 300.4,601.2 300.4,606.2" fill="none" stroke="#111" stroke-width="0.95" stroke-dasharray="1.2,1.6"/>
<text x="297.75" y="599.6" font-size="4.6" text-anchor="middle" fill="#444">p=0.07</text>
<polyline points="320.8,622 320.8,587.1 328.1,587.1 328.1,593.6" fill="none" stroke="#111" stroke-width="0.95" stroke-dasharray="1.2,1.6"/>
<text x="324.45" y="587.7" font-size="7" text-anchor="middle" fill="#111">***</text>
<polyline points="349.4,639.6 349.4,627.1 355.6,627.1 355.6,638.3" fill="none" stroke="#111" stroke-width="0.95" stroke-dasharray="1.2,1.6"/>
<text x="352.5" y="627.7" font-size="7" text-anchor="middle" fill="#111">****</text>
<polyline points="376.2,592.7 376.2,541.9 382.6,541.9 382.6,553.6" fill="none" stroke="#111" stroke-width="0.95" stroke-dasharray="1.2,1.6"/>
<text x="379.4" y="542.5" font-size="7" text-anchor="middle" fill="#111">***</text>
<polyline points="403.5,625.6 403.5,610.3 410,610.3 410,617.4" fill="none" stroke="#111" stroke-width="0.95" stroke-dasharray="1.2,1.6"/>
<text x="406.75" y="610.9" font-size="7" text-anchor="middle" fill="#111">**</text>
<polyline points="430.3,623.6 430.3,602.1 437.4,602.1 437.4,611.9" fill="none" stroke="#111" stroke-width="0.95" stroke-dasharray="1.2,1.6"/>
<text x="433.85" y="602.7" font-size="7" text-anchor="middle" fill="#111">****</text>
<polyline points="458.3,633 458.3,622 464.7,622 464.7,628.5" fill="none" stroke="#111" stroke-width="0.95" stroke-dasharray="1.2,1.6"/>
<text x="461.5" y="622.6" font-size="7" text-anchor="middle" fill="#111">**</text>
<rect x="287.3" y="538.7" width="12.6" height="3" fill="#7a7a7a" stroke="none" stroke-width="1"/>
<text font-size="6.6" fill="#222" transform="translate(307.1 542.5) scale(0.900 1)">NC</text>
<rect x="287.3" y="545.1" width="12.6" height="3" fill="#c4c4c4" stroke="none" stroke-width="1"/>
<text font-size="6.6" fill="#222" transform="translate(307.1 548.9) scale(0.900 1)">HFD</text>
<rect x="287.3" y="551.5" width="12.6" height="3" fill="#6a6a6a" stroke="none" stroke-width="1"/>
<text font-size="6.6" fill="#222" transform="translate(307.1 555.3) scale(0.900 1)">HFD+Rhein</text>
<text font-size="8.4" text-anchor="middle" fill="#222" transform="translate(255.3 589.5) rotate(-90)">Relative mRNA level</text>
<text x="419.2" y="535.4" font-size="7.9" fill="#222">eWAT 4<tspan dx="-0.5">°</tspan><tspan dx="-0.6">C</tspan></text>
<line x1="277.6" y1="565.3" x2="283.6" y2="570.8" stroke="#222" stroke-width="1.1"/>
<line x1="277.6" y1="573.3" x2="283.6" y2="578.8" stroke="#222" stroke-width="1.1"/>
<text x="472" y="382" font-size="12" font-weight="bold" fill="#111">k</text>
<text x="543.7" y="394" font-size="9.4" text-anchor="middle" fill="#222">iWAT 4<tspan dx="-0.5">°</tspan><tspan dx="-0.6">C</tspan></text>
<text x="638.4" y="394" font-size="9.4" text-anchor="middle" fill="#222">eWAT 4<tspan dx="-0.5">°</tspan><tspan dx="-0.6">C</tspan></text>
<text font-size="9" text-anchor="middle" fill="#222" transform="translate(492.2 430.2) rotate(-90)">NC</text>
<text font-size="9" text-anchor="middle" fill="#222" transform="translate(492.2 496.4) rotate(-90)">HFD</text>
<text font-size="9" text-anchor="middle" fill="#222" transform="translate(492.2 567.4) rotate(-90)">HFD+Rhein</text>
<clipPath id="k00"><rect x="496.2" y="397.9" width="93" height="65.7"/></clipPath>
<rect x="496.2" y="397.9" width="93" height="65.7" fill="#d6d2cd" stroke="none" stroke-width="1"/>
<g clip-path="url(#k00)">
<path d="M491.94 389.91L500.92 394.03L501.04 393.18L494.9 399.33L488.32 398.87L488.01 398.41Z" fill="#f4f3f1" stroke="#f4f3f1" stroke-width="2.34" stroke-linejoin="round"/>
<path d="M529.85 385.04L532.46 391.36L528.66 396.19L520.26 394.54L520.43 395.22Z" fill="#f4f3f1" stroke="#f4f3f1" stroke-width="2.86" stroke-linejoin="round"/>
<path d="M550.57 386.02L558.78 386.7L560.52 392.88L559.39 395.17L552.57 394.63L549.57 390.73Z" fill="#f4f3f1" stroke="#f4f3f1" stroke-width="2.8" stroke-linejoin="round"/>
<path d="M584.31 377.71L586.66 376L602.39 385.57L601.4 389.44L589.49 392.11L583.97 388.6Z" fill="#f4f3f1" stroke="#f4f3f1" stroke-width="4.47" stroke-linejoin="round"/>
<path d="M497.68 401.28L502.15 396.8L506.42 404.12L500.38 406.36Z" fill="#f4f3f1" stroke="#f4f3f1" stroke-width="2.75" stroke-linejoin="round"/>
<path d="M504.61 393.5L504.54 394.03L507.05 391.5L511.6 391.62L516.62 395.83L516.67 396.04L514.74 401.93L511.06 403.64L510.39 403.4Z" fill="#f4f3f1" stroke="#f4f3f1" stroke-width="3.23" stroke-linejoin="round"/>
<path d="M519.96 398.14L527.94 399.71L528.68 402.95L522.59 405.93L518.44 402.76Z" fill="#f4f3f1" stroke="#f4f3f1" stroke-width="2.72" stroke-linejoin="round"/>
<path d="M531.23 398.61L535.05 393.76L537.59 394.98L538.88 403.97L535.6 405.03L532.2 402.86Z" fill="#f4f3f1" stroke="#f4f3f1" stroke-width="2.57" stroke-linejoin="round"/>
<path d="M541.28 395.2L546.93 393.42L549.36 396.57L545.23 404.69L542.5 403.71Z" fill="#f4f3f1" stroke="#f4f3f1" stroke-width="3.07" stroke-linejoin="round"/>
<path d="M552.73 398.31L559.17 398.83L559.94 400.7L559.18 402.5L550.6 407.05L547.72 406.04L548.33 406.98Z" fill="#f4f3f1" stroke="#f4f3f1" stroke-width="2.93" stroke-linejoin="round"/>
<path d="M562.36 397.13L563.62 394.58L570.07 393.21L574.05 395.7L574.09 398.16L570.83 401.73L563.26 399.3Z" fill="#f4f3f1" stroke="#f4f3f1" stroke-width="2.67" stroke-linejoin="round"/>
<path d="M577.43 395.48L581.43 392.07L586.77 395.47L583.74 400.78L577.48 397.77Z" fill="#f4f3f1" stroke="#f4f3f1" stroke-width="2.51" stroke-linejoin="round"/>
<path d="M590.3 396.69L601.96 394.07L603.36 401.58L591.9 406.63L586.52 402.97L586.59 403.18Z" fill="#f4f3f1" stroke="#f4f3f1" stroke-width="3.21" stroke-linejoin="round"/>
<path d="M488.62 404.16L488.94 402.29L494.38 402.67L497.54 408.63L496.23 411.52L493.3 411.67Z" fill="#f4f3f1" stroke="#f4f3f1" stroke-width="2.8" stroke-linejoin="round"/>
<path d="M500.82 409.93L509.03 406.9L509.43 407.04L509.43 415.05L502.09 416.67L499.42 413.05Z" fill="#f4f3f1" stroke="#f4f3f1" stroke-width="2.66" stroke-linejoin="round"/>
<path d="M513.02 407L516.14 405.55L520.71 409.04L521.59 413.35L515.43 417.74L513.02 415.6Z" fill="#f4f3f1" stroke="#f4f3f1" stroke-width="2.91" stroke-linejoin="round"/>
<path d="M524.47 409.01L530.59 406.01L533.2 407.67L530.86 415.42L525.26 412.88Z" fill="#f4f3f1" stroke="#f4f3f1" stroke-width="2.87" stroke-linejoin="round"/>
<path d="M536.82 408.3L540.72 407.05L544.99 408.6L544.54 407.9L541.77 417.56L533.45 416.82L533.95 417.79Z" fill="#f4f3f1" stroke="#f4f3f1" stroke-width="2.82" stroke-linejoin="round"/>
<path d="M553.1 409.56L559.55 406.14L560.65 411.65L555.94 413.08Z" fill="#f4f3f1" stroke="#f4f3f1" stroke-width="2.24" stroke-linejoin="round"/>
<path d="M562.49 404.03L562.97 402.89L569.83 405.1L570.56 408.58L566.49 412.9L564 411.54Z" fill="#f4f3f1" stroke="#f4f3f1" stroke-width="2.76" stroke-linejoin="round"/>
<path d="M573.32 404.26L576.27 401.04L582.91 404.23L582.77 403.78L577.82 409.3L574.06 407.8Z" fill="#f4f3f1" stroke="#f4f3f1" stroke-width="2.83" stroke-linejoin="round"/>
<path d="M580.41 411.74L585.09 406.53L589.64 409.63L587.77 415.65L581.71 414.4Z" fill="#f4f3f1" stroke="#f4f3f1" stroke-width="2.69" stroke-linejoin="round"/>
<path d="M593.58 410.59L604.96 405.58L609.07 410.59L596.24 422.52L593.79 421.94L591.44 417.46Z" fill="#f4f3f1" stroke="#f4f3f1" stroke-width="3.79" stroke-linejoin="round"/>
<path d="M493.12 415.38L496.5 415.21L499.33 419.05L498.6 422.57L498.47 422.71L486.02 424.08L485.66 422.28Z" fill="#f4f3f1" stroke="#f4f3f1" stroke-width="3" stroke-linejoin="round"/>
<path d="M502.77 419.99L510.69 418.25L513.73 420.94L513.99 422.9L510.88 426.96L502.24 422.56Z" fill="#f4f3f1" stroke="#f4f3f1" stroke-width="2.53" stroke-linejoin="round"/>
<path d="M517.42 421.02L523.86 416.43L530.56 419.48L530.17 418.72L528.04 425.81L525.89 426.44L517.55 422.09Z" fill="#f4f3f1" stroke="#f4f3f1" stroke-width="3.15" stroke-linejoin="round"/>
<path d="M533.78 420.73L542.06 421.47L543.95 423.79L542.62 429.47L536.46 431L531.96 426.77Z" fill="#f4f3f1" stroke="#f4f3f1" stroke-width="3.32" stroke-linejoin="round"/>
<path d="M547.69 409.87L549.7 410.57L553.51 415.29L552.52 420.18L546.88 421.33L545.05 419.1Z" fill="#f4f3f1" stroke="#f4f3f1" stroke-width="2.72" stroke-linejoin="round"/>
<path d="M556.87 416.17L562.23 414.54L565.28 416.21L565.78 419.49L560.61 424.37L555.9 420.93Z" fill="#f4f3f1" stroke="#f4f3f1" stroke-width="2.61" stroke-linejoin="round"/>
<path d="M568.79 415.73L572.97 411.3L576.98 412.9L578.36 415.71L574.32 420.87L569.26 418.81Z" fill="#f4f3f1" stroke="#f4f3f1" stroke-width="2.88" stroke-linejoin="round"/>
<path d="M577.23 423.39L581.33 418.16L587.62 419.46L589.69 423.41L582.94 428.94L579.46 428.61Z" fill="#f4f3f1" stroke="#f4f3f1" stroke-width="3.24" stroke-linejoin="round"/>
<path d="M486.09 428.13L486.11 428.02L497.47 426.77L497.78 434.06L494.96 435.22Z" fill="#f4f3f1" stroke="#f4f3f1" stroke-width="3.25" stroke-linejoin="round"/>
<path d="M501.31 425.21L500.78 425.79L509.33 430.15L508.89 433.76L506.96 435.53L501.69 433.97Z" fill="#f4f3f1" stroke="#f4f3f1" stroke-width="2.96" stroke-linejoin="round"/>
<path d="M512.97 429.72L516.2 425.5L523.46 429.29L520.28 435.67L512.51 433.46Z" fill="#f4f3f1" stroke="#f4f3f1" stroke-width="2.55" stroke-linejoin="round"/>
<path d="M547.77 424.9L553.57 423.71L558.89 427.6L559.01 429.6L550.69 434.89L546.44 430.57Z" fill="#f4f3f1" stroke="#f4f3f1" stroke-width="3.03" stroke-linejoin="round"/>
<path d="M562.77 427.38L568.03 422.42L573.41 424.61L575.72 430.01L573.58 432.04L566.68 433L562.91 429.68Z" fill="#f4f3f1" stroke="#f4f3f1" stroke-width="3.15" stroke-linejoin="round"/>
<path d="M586.61 431.74L592.86 426.62L595.25 427.18L599.75 435.71L589.87 441.14L591 441.48Z" fill="#f4f3f1" stroke="#f4f3f1" stroke-width="4.15" stroke-linejoin="round"/>
<path d="M476.63 438.27L483.89 431.72L492.21 438.38L491.17 442.8L488.34 445.11Z" fill="#f4f3f1" stroke="#f4f3f1" stroke-width="3.51" stroke-linejoin="round"/>
<path d="M496.25 438.93L499.97 437.4L505.64 439.09L506.09 445.23L505.51 446.58L503.59 447.27L495.29 443Z" fill="#f4f3f1" stroke="#f4f3f1" stroke-width="3" stroke-linejoin="round"/>
<path d="M509.32 438.39L511.16 436.7L519.82 439.17L521.1 442.16L520.61 443.46L509.7 443.7Z" fill="#f4f3f1" stroke="#f4f3f1" stroke-width="2.83" stroke-linejoin="round"/>
<path d="M527.03 430.17L529.11 429.55L533.76 433.92L532.6 439.09L524.25 440.04L523.27 437.73Z" fill="#f4f3f1" stroke="#f4f3f1" stroke-width="3.04" stroke-linejoin="round"/>
<path d="M537.7 435.06L543.65 433.57L548.23 438.22L548.21 442.44L546.01 444.82L538.43 443.61L536.49 440.46Z" fill="#f4f3f1" stroke="#f4f3f1" stroke-width="3.55" stroke-linejoin="round"/>
<path d="M552.38 438.42L560.79 433.08L563.92 435.83L562.71 442.75L560.42 444.41L552.37 441.85Z" fill="#f4f3f1" stroke="#f4f3f1" stroke-width="3.16" stroke-linejoin="round"/>
<path d="M567.64 436.71L573.02 435.96L574.82 444.65L572.85 445.47L566.59 442.77Z" fill="#f4f3f1" stroke="#f4f3f1" stroke-width="2.87" stroke-linejoin="round"/>
<path d="M576.77 434.62L578.82 432.68L582.16 433L586.43 442.47L581.07 444.88L578.73 444.13Z" fill="#f4f3f1" stroke="#f4f3f1" stroke-width="3.4" stroke-linejoin="round"/>
<path d="M490.35 448.58L493.33 446.16L500.87 450.03L497.78 454.81L490.34 451.96Z" fill="#f4f3f1" stroke="#f4f3f1" stroke-width="2.81" stroke-linejoin="round"/>
<path d="M500.53 457.31L504.69 450.88L506.24 450.32L508.45 453.39L508.39 460.94L507.47 461.92L504.5 462.51L501.44 460.39Z" fill="#f4f3f1" stroke="#f4f3f1" stroke-width="2.93" stroke-linejoin="round"/>
<path d="M508.92 447.87L509.18 447.27L520.43 447.02L521.22 451.63L521.62 451.23L511.22 451.07Z" fill="#f4f3f1" stroke="#f4f3f1" stroke-width="2.68" stroke-linejoin="round"/>
<path d="M523.83 445.43L524.42 443.86L533.2 442.86L534.88 445.6L530.77 452.21L524.74 450.7Z" fill="#f4f3f1" stroke="#f4f3f1" stroke-width="2.98" stroke-linejoin="round"/>
<path d="M538.03 447.63L545.1 448.75L545.47 452.57L540.66 457.43L534.82 456.56L533.77 454.48Z" fill="#f4f3f1" stroke="#f4f3f1" stroke-width="2.91" stroke-linejoin="round"/>
<path d="M548.69 447.78L550.93 445.36L559.09 447.96L559.75 454.87L559.44 455.41L553.6 455.88L549.12 452.33Z" fill="#f4f3f1" stroke="#f4f3f1" stroke-width="2.81" stroke-linejoin="round"/>
<path d="M562.55 447.41L564.74 445.82L570.81 448.44L569.57 452.92L563.13 453.45Z" fill="#f4f3f1" stroke="#f4f3f1" stroke-width="2.59" stroke-linejoin="round"/>
<path d="M574.25 448.72L577 447.56L579.51 448.37L579.63 459.92L577.22 460.07L572.75 454.15Z" fill="#f4f3f1" stroke="#f4f3f1" stroke-width="2.6" stroke-linejoin="round"/>
<path d="M583.37 448.52L589.36 445.82L588.56 445.59L592.29 454.4L585.88 461.43L583.49 460.19Z" fill="#f4f3f1" stroke="#f4f3f1" stroke-width="3.51" stroke-linejoin="round"/>
<path d="M593.44 444.95L603.28 439.55L611.48 442.66L613.01 454.13L596.6 452.42Z" fill="#f4f3f1" stroke="#f4f3f1" stroke-width="4.37" stroke-linejoin="round"/>
<path d="M489.14 455.54L496.89 458.51L497.51 460.59L490.17 464.6L485.58 459.85Z" fill="#f4f3f1" stroke="#f4f3f1" stroke-width="3.13" stroke-linejoin="round"/>
<path d="M511.97 454.49L520.06 454.61L518.44 459.69L511.93 459.96Z" fill="#f4f3f1" stroke="#f4f3f1" stroke-width="2.54" stroke-linejoin="round"/>
<path d="M523.97 453.99L523.65 454.31L530.35 456L531.53 458.33L529.68 462.74L523.26 463.48L521.73 461.05Z" fill="#f4f3f1" stroke="#f4f3f1" stroke-width="2.96" stroke-linejoin="round"/>
<path d="M532.95 464.43L534.71 460.22L540.01 461.01L541.54 465.11L537.28 472.98L537.12 472.96Z" fill="#f4f3f1" stroke="#f4f3f1" stroke-width="2.77" stroke-linejoin="round"/>
<path d="M543.31 459.83L547.53 455.56L551.1 458.39L549.63 463.96L544.72 463.61Z" fill="#f4f3f1" stroke="#f4f3f1" stroke-width="2.63" stroke-linejoin="round"/>
<path d="M554.39 459.35L559.36 458.95L561.65 465.19L554.09 467.27L552.8 465.44Z" fill="#f4f3f1" stroke="#f4f3f1" stroke-width="2.63" stroke-linejoin="round"/>
<path d="M562.51 457.31L562.69 457L570.05 456.39L573.91 461.51L567.51 466.59L565.4 465.18Z" fill="#f4f3f1" stroke="#f4f3f1" stroke-width="2.82" stroke-linejoin="round"/>
<path d="M590.14 464.83L596.12 458.27L614.05 460.14L620.39 470.5L621.18 469.73L589.69 463.65Z" fill="#f4f3f1" stroke="#f4f3f1" stroke-width="5.77" stroke-linejoin="round"/>
<path d="M491.49 467.97L499.74 463.45L502.23 465.17L500.57 471.36L492.29 478.09Z" fill="#f4f3f1" stroke="#f4f3f1" stroke-width="2.43" stroke-linejoin="round"/>
<path d="M505.62 466.13L507.54 465.74L513.14 474.05L512.3 475.64L504.22 471.32Z" fill="#f4f3f1" stroke="#f4f3f1" stroke-width="3.01" stroke-linejoin="round"/>
<path d="M510.64 463.82L511.03 463.41L518.74 463.1L520.38 465.72L518.94 470.26L515.95 471.69Z" fill="#f4f3f1" stroke="#f4f3f1" stroke-width="2.7" stroke-linejoin="round"/>
<path d="M523.77 467.27L529.85 466.58L533.36 473.77L529.89 475.67L522.68 470.72Z" fill="#f4f3f1" stroke="#f4f3f1" stroke-width="3.1" stroke-linejoin="round"/>
<path d="M544.58 467.22L549.9 467.6L551.33 469.62L548.45 480.83L540.67 474.44Z" fill="#f4f3f1" stroke="#f4f3f1" stroke-width="2.99" stroke-linejoin="round"/>
<path d="M555.49 471.32L563.45 469.12L565.2 470.3L566.71 483.09L553.15 485.74L552.25 483.9Z" fill="#f4f3f1" stroke="#f4f3f1" stroke-width="4.31" stroke-linejoin="round"/>
<path d="M570.46 470.01L577.43 464.47L580.77 464.26L584.19 466.03L584.48 466.8L581.69 484.13L578.5 486.12L572.03 483.29Z" fill="#f4f3f1" stroke="#f4f3f1" stroke-width="4.61" stroke-linejoin="round"/>
<path d="M590.07 470.53L616.61 475.65L611.5 483.36L588.14 482.51Z" fill="#f4f3f1" stroke="#f4f3f1" stroke-width="6" stroke-linejoin="round"/>
<ellipse cx="560.75" cy="426.58" rx="1.39" ry="0.77" fill="#5b52c4" transform="rotate(176 560.75 426.58)"/>
<ellipse cx="574.91" cy="423.09" rx="0.83" ry="0.92" fill="#5b52c4" transform="rotate(139 574.91 423.09)"/>
<ellipse cx="583.58" cy="431.03" rx="1.27" ry="0.83" fill="#4f48b8" transform="rotate(80 583.58 431.03)"/>
<ellipse cx="497.42" cy="413.26" rx="1.21" ry="0.6" fill="#6a5fc9" transform="rotate(3 497.42 413.26)"/>
<ellipse cx="523.65" cy="414.16" rx="1.08" ry="0.91" fill="#5b52c4" transform="rotate(47 523.65 414.16)"/>
<ellipse cx="576.93" cy="445.75" rx="1.35" ry="0.94" fill="#4f48b8" transform="rotate(161 576.93 445.75)"/>
<ellipse cx="532.29" cy="418.53" rx="0.83" ry="0.57" fill="#6a5fc9" transform="rotate(41 532.29 418.53)"/>
<ellipse cx="546.81" cy="447.15" rx="0.99" ry="0.55" fill="#4f48b8" transform="rotate(27 546.81 447.15)"/>
<ellipse cx="510.68" cy="434.68" rx="1.45" ry="0.66" fill="#4f48b8" transform="rotate(112 510.68 434.68)"/>
<ellipse cx="564.53" cy="443.88" rx="1.06" ry="0.83" fill="#5b52c4" transform="rotate(145 564.53 443.88)"/>
<ellipse cx="580.52" cy="415.93" rx="1.13" ry="0.54" fill="#6a5fc9" transform="rotate(51 580.52 415.93)"/>
<ellipse cx="499.84" cy="461.55" rx="0.88" ry="0.64" fill="#6a5fc9" transform="rotate(58 499.84 461.55)"/>
<ellipse cx="510.32" cy="452.8" rx="0.97" ry="0.65" fill="#6a5fc9" transform="rotate(149 510.32 452.8)"/>
<ellipse cx="533.6" cy="458.25" rx="0.71" ry="0.5" fill="#6a5fc9" transform="rotate(10 533.6 458.25)"/>
<ellipse cx="498.5" cy="457.02" rx="1.21" ry="0.83" fill="#5b52c4" transform="rotate(172 498.5 457.02)"/>
<ellipse cx="572.84" cy="447.47" rx="0.87" ry="0.91" fill="#4f48b8" transform="rotate(43 572.84 447.47)"/>
<ellipse cx="511.36" cy="429.07" rx="1.24" ry="0.86" fill="#4f48b8" transform="rotate(44 511.36 429.07)"/>
<ellipse cx="584.41" cy="402.94" rx="1.08" ry="0.52" fill="#6a5fc9" transform="rotate(51 584.41 402.94)"/>
<ellipse cx="523.08" cy="452.23" rx="1.42" ry="0.76" fill="#4f48b8" transform="rotate(141 523.08 452.23)"/>
<ellipse cx="561.96" cy="400.7" rx="1.42" ry="0.65" fill="#4f48b8" transform="rotate(176 561.96 400.7)"/>
<ellipse cx="562.42" cy="412.71" rx="0.83" ry="0.74" fill="#5b52c4" transform="rotate(106 562.42 412.71)"/>
<ellipse cx="578.32" cy="411.46" rx="1.25" ry="0.8" fill="#6a5fc9" transform="rotate(7 578.32 411.46)"/>
<ellipse cx="547.39" cy="453.26" rx="1.44" ry="0.8" fill="#4f48b8" transform="rotate(175 547.39 453.26)"/>
<ellipse cx="584.81" cy="404.23" rx="1.11" ry="0.86" fill="#6a5fc9" transform="rotate(25 584.81 404.23)"/>
<ellipse cx="535.87" cy="433.27" rx="1.05" ry="0.89" fill="#5b52c4" transform="rotate(57 535.87 433.27)"/>
<ellipse cx="537.11" cy="445.6" rx="1.2" ry="0.88" fill="#4f48b8" transform="rotate(128 537.11 445.6)"/>
<ellipse cx="503.46" cy="449.34" rx="1.48" ry="0.54" fill="#5b52c4" transform="rotate(18 503.46 449.34)"/>
<ellipse cx="508.02" cy="445.55" rx="1.14" ry="0.93" fill="#6a5fc9" transform="rotate(123 508.02 445.55)"/>
<ellipse cx="522.32" cy="452.98" rx="0.79" ry="0.7" fill="#4f48b8" transform="rotate(86 522.32 452.98)"/>
<ellipse cx="544.33" cy="431.16" rx="1.07" ry="0.78" fill="#5b52c4" transform="rotate(49 544.33 431.16)"/>
</g>
<clipPath id="k01"><rect x="590.9" y="397.9" width="92.9" height="65.7"/></clipPath>
<rect x="590.9" y="397.9" width="92.9" height="65.7" fill="#e0d6bf" stroke="none" stroke-width="1"/>
<g clip-path="url(#k01)">
<path d="M584.45 377.37L585.15 377.74L582.8 394.87L573.19 396.58L571.58 393.41Z" fill="#f3f2ef" stroke="#f3f2ef" stroke-width="4.83" stroke-linejoin="round"/>
<path d="M589.96 378.42L588.74 378.29L597.41 396.1L590.7 401.79L591.94 401.91L587.46 396.65Z" fill="#f3f2ef" stroke="#f3f2ef" stroke-width="3.29" stroke-linejoin="round"/>
<path d="M593.72 378.18L598.91 377.16L608.81 383.99L607.75 393.42L606.19 394.63L601.55 394.27Z" fill="#f3f2ef" stroke="#f3f2ef" stroke-width="4.16" stroke-linejoin="round"/>
<path d="M613.68 384.82L620.03 383.42L624.94 392.07L619.54 396.39L612.73 393.24Z" fill="#f3f2ef" stroke="#f3f2ef" stroke-width="4.11" stroke-linejoin="round"/>
<path d="M646.45 376.63L649.49 375.14L657.23 389.55L656.09 394.24L651.76 395.02L643.87 386.77Z" fill="#f3f2ef" stroke="#f3f2ef" stroke-width="4.19" stroke-linejoin="round"/>
<path d="M661.58 390.83L672.29 387.65L673.39 394.15L662.95 398.61L660.37 395.83Z" fill="#f3f2ef" stroke="#f3f2ef" stroke-width="3.27" stroke-linejoin="round"/>
<path d="M676.54 385.45L679.4 379.82L697.99 391.05L694.53 393.89L680.66 396.32L677.99 394.07Z" fill="#f3f2ef" stroke="#f3f2ef" stroke-width="4.23" stroke-linejoin="round"/>
<path d="M573.52 401.57L584.47 399.61L588.02 403.79L583.49 408.52L573.01 404.79Z" fill="#f3f2ef" stroke="#f3f2ef" stroke-width="3.5" stroke-linejoin="round"/>
<path d="M600.59 398.62L605.1 398.97L605.43 407.19L599.09 409.22L594.18 404.06Z" fill="#f3f2ef" stroke="#f3f2ef" stroke-width="3.07" stroke-linejoin="round"/>
<path d="M609.08 398.16L610.38 397.15L617.94 400.64L618.57 406.63L612.09 409.18L609.45 407.44Z" fill="#f3f2ef" stroke="#f3f2ef" stroke-width="3.36" stroke-linejoin="round"/>
<path d="M622.08 400.17L628.6 394.95L631.23 395.6L632.95 401.1L626.42 409.04L622.77 406.76Z" fill="#f3f2ef" stroke="#f3f2ef" stroke-width="3.37" stroke-linejoin="round"/>
<path d="M635.15 394.58L640.92 390.13L648.34 397.9L644.23 403.66L636.89 400.15Z" fill="#f3f2ef" stroke="#f3f2ef" stroke-width="3.13" stroke-linejoin="round"/>
<path d="M652.13 399.69L657.35 398.75L660.42 402.05L661.7 409L653.67 412.46L647.31 407.35L647.17 406.63Z" fill="#f3f2ef" stroke="#f3f2ef" stroke-width="3.52" stroke-linejoin="round"/>
<path d="M664.99 402.42L675.27 398.03L677.37 399.8L674.94 408.75L665.3 408.35L666.19 408.93Z" fill="#f3f2ef" stroke="#f3f2ef" stroke-width="3.73" stroke-linejoin="round"/>
<path d="M681.76 401L692.28 399.15L687.74 413.23L683.45 414.88L679.19 410.44Z" fill="#f3f2ef" stroke="#f3f2ef" stroke-width="3.77" stroke-linejoin="round"/>
<path d="M586.01 411.74L591.65 405.85L590.47 405.74L596.51 412.07L595.59 418.12L588.27 419.47L586.25 418.03Z" fill="#f3f2ef" stroke="#f3f2ef" stroke-width="3" stroke-linejoin="round"/>
<path d="M600.31 412.95L607.12 410.78L609.81 412.56L609.57 418.68L603.76 422.84L603.13 422.74L599.4 419.04Z" fill="#f3f2ef" stroke="#f3f2ef" stroke-width="3.19" stroke-linejoin="round"/>
<path d="M613.76 412.87L620.6 410.17L625.27 413.1L625.93 414.81L619.51 421.46L613.53 418.53Z" fill="#f3f2ef" stroke="#f3f2ef" stroke-width="3.12" stroke-linejoin="round"/>
<path d="M635.92 404.44L642.81 407.74L642.82 407.79L634.6 416.21L630.08 413.65L629.52 412.21Z" fill="#f3f2ef" stroke="#f3f2ef" stroke-width="3.86" stroke-linejoin="round"/>
<path d="M645.51 411.2L651.16 415.75L650.55 418.88L642.87 422.93L637.4 419.65L637.36 419.55Z" fill="#f3f2ef" stroke="#f3f2ef" stroke-width="3.14" stroke-linejoin="round"/>
<path d="M667.16 412.93L675.66 413.29L680.38 418.2L678.42 425.56L674.62 428.99L669.04 426.65Z" fill="#f3f2ef" stroke="#f3f2ef" stroke-width="3.67" stroke-linejoin="round"/>
<path d="M589.61 423.06L596.65 421.77L599.72 424.82L595.94 430.09L589.3 429.21Z" fill="#f3f2ef" stroke="#f3f2ef" stroke-width="2.95" stroke-linejoin="round"/>
<path d="M606.85 425.47L611.71 421.98L618.14 425.13L618.67 429.2L610.34 431.17Z" fill="#f3f2ef" stroke="#f3f2ef" stroke-width="3.07" stroke-linejoin="round"/>
<path d="M622.19 424.59L628.6 417.96L633.34 420.65L633.46 420.92L627.29 432.34L625.88 432.64L622.85 429.66Z" fill="#f3f2ef" stroke="#f3f2ef" stroke-width="3.49" stroke-linejoin="round"/>
<path d="M636.62 423.81L641 426.44L642.2 432.97L637.33 436.05L631.48 433.33Z" fill="#f3f2ef" stroke="#f3f2ef" stroke-width="3.21" stroke-linejoin="round"/>
<path d="M645.12 426.31L651.67 422.85L656.55 429.69L652.7 435.04L646.25 432.45Z" fill="#f3f2ef" stroke="#f3f2ef" stroke-width="3.33" stroke-linejoin="round"/>
<path d="M655.2 416.47L663.93 412.7L662.61 411.85L664.62 426.49L660.04 427.35L654.57 419.69Z" fill="#f3f2ef" stroke="#f3f2ef" stroke-width="3.46" stroke-linejoin="round"/>
<path d="M684.77 419.28L689.5 417.45L701.7 423.02L699.42 432.27L683.13 425.43Z" fill="#f3f2ef" stroke="#f3f2ef" stroke-width="3.77" stroke-linejoin="round"/>
<path d="M586.72 434.4L588.08 432.69L595.35 433.65L596.4 439.2L588.16 439.05Z" fill="#f3f2ef" stroke="#f3f2ef" stroke-width="2.65" stroke-linejoin="round"/>
<path d="M598.75 432.53L603 426.59L603.13 426.62L607.46 433.67L605.48 441L602.05 441.49L600.16 439.97Z" fill="#f3f2ef" stroke="#f3f2ef" stroke-width="2.85" stroke-linejoin="round"/>
<path d="M611.28 435.29L620.12 433.2L622.54 435.57L618.9 445.56L615.26 445.68L609.56 441.68Z" fill="#f3f2ef" stroke="#f3f2ef" stroke-width="3.78" stroke-linejoin="round"/>
<path d="M627.01 437.07L628.41 436.78L635.15 439.92L635.74 449.24L627.75 451.37L623.34 447.14Z" fill="#f3f2ef" stroke="#f3f2ef" stroke-width="4.05" stroke-linejoin="round"/>
<path d="M639.98 439.61L644.67 436.64L651.37 439.33L652.74 445.1L641.72 449.93L640.6 449.45Z" fill="#f3f2ef" stroke="#f3f2ef" stroke-width="4.03" stroke-linejoin="round"/>
<path d="M660.37 431.7L666.76 430.5L672.92 433.09L673.1 436.85L655.79 444.05L657.49 445.11L655.81 438.03Z" fill="#f3f2ef" stroke="#f3f2ef" stroke-width="3.61" stroke-linejoin="round"/>
<path d="M677.66 432.68L680.92 429.74L698.84 437.25L700.06 442.28L688.77 444.59L678.05 437.9L677.88 437.59Z" fill="#f3f2ef" stroke="#f3f2ef" stroke-width="4.28" stroke-linejoin="round"/>
<path d="M588.2 442.94L597.72 443.12L598.81 444L594.47 452.59L586.13 451.06L584.88 449.57Z" fill="#f3f2ef" stroke="#f3f2ef" stroke-width="3.52" stroke-linejoin="round"/>
<path d="M603.05 445.53L606.36 445.05L611.58 448.71L605.84 459.43L599.76 457.23L598.32 454.89Z" fill="#f3f2ef" stroke="#f3f2ef" stroke-width="3.82" stroke-linejoin="round"/>
<path d="M658.35 447.39L674.53 440.65L674.1 439.85L669.65 452.36L663.74 454.49L662.71 454.16Z" fill="#f3f2ef" stroke="#f3f2ef" stroke-width="2.92" stroke-linejoin="round"/>
<path d="M677.39 443.31L685.16 448.15L681 456.36L674.06 452.67Z" fill="#f3f2ef" stroke="#f3f2ef" stroke-width="3.99" stroke-linejoin="round"/>
<path d="M586.82 455.94L594.12 457.28L595.24 459.09L587.03 471.69L582.98 470.93Z" fill="#f3f2ef" stroke="#f3f2ef" stroke-width="4.23" stroke-linejoin="round"/>
<path d="M616.26 450.7L619.45 450.59L624.11 455.06L622.14 467.71L612.2 465.87L610.09 462.23Z" fill="#f3f2ef" stroke="#f3f2ef" stroke-width="4.72" stroke-linejoin="round"/>
<path d="M629.48 456.24L638.07 453.96L639.42 454.55L642.6 466.52L639.07 470.11L629.06 472.53L627.31 470.21Z" fill="#f3f2ef" stroke="#f3f2ef" stroke-width="4.67" stroke-linejoin="round"/>
<path d="M644.69 453.99L655.36 449.32L653.79 448.35L658.41 455.53L650.64 464.74L647.55 464.79Z" fill="#f3f2ef" stroke="#f3f2ef" stroke-width="4.2" stroke-linejoin="round"/>
<path d="M654.53 467.05L662.16 458L662.34 458.06L667.45 469.6L664.89 476.06L664.29 476.14Z" fill="#f3f2ef" stroke="#f3f2ef" stroke-width="3.13" stroke-linejoin="round"/>
<path d="M666.5 457.62L670.95 456.01L680.24 460.95L680.52 462.4L670.6 466.89Z" fill="#f3f2ef" stroke="#f3f2ef" stroke-width="3.23" stroke-linejoin="round"/>
<path d="M690.59 450.29L702.24 447.91L709.38 453.74L704.23 478.17L685.94 461.8L685.61 460.12Z" fill="#f3f2ef" stroke="#f3f2ef" stroke-width="6.03" stroke-linejoin="round"/>
<path d="M599.24 462.17L605.21 464.33L607.4 468.1L598.13 479.18L591.57 473.93Z" fill="#f3f2ef" stroke="#f3f2ef" stroke-width="4.23" stroke-linejoin="round"/>
<path d="M671.02 476.5L672.62 472.46L682.1 468.18L702.67 486.59L704.57 501.39Z" fill="#f3f2ef" stroke="#f3f2ef" stroke-width="7" stroke-linejoin="round"/>
<ellipse cx="620.81" cy="407.99" rx="1.44" ry="0.92" fill="#a77e4a" transform="rotate(5 620.81 407.99)"/>
<ellipse cx="595.67" cy="455.01" rx="1.18" ry="0.68" fill="#a77e4a" transform="rotate(176 595.67 455.01)"/>
<ellipse cx="609.42" cy="433.38" rx="0.94" ry="0.9" fill="#a77e4a" transform="rotate(62 609.42 433.38)"/>
<ellipse cx="596.81" cy="432.1" rx="0.78" ry="0.88" fill="#8a6a9a" transform="rotate(151 596.81 432.1)"/>
<ellipse cx="628.21" cy="415.27" rx="1.15" ry="0.64" fill="#6a5fb0" transform="rotate(70 628.21 415.27)"/>
<ellipse cx="611.52" cy="419.73" rx="0.92" ry="0.73" fill="#a77e4a" transform="rotate(93 611.52 419.73)"/>
<ellipse cx="662.43" cy="401.04" rx="1.08" ry="0.89" fill="#8a6a9a" transform="rotate(38 662.43 401.04)"/>
<ellipse cx="659.1" cy="429.69" rx="1.39" ry="0.66" fill="#8a6a9a" transform="rotate(10 659.1 429.69)"/>
<ellipse cx="602.18" cy="424.61" rx="1.36" ry="0.83" fill="#6a5fb0" transform="rotate(87 602.18 424.61)"/>
<ellipse cx="606.93" cy="462.28" rx="0.91" ry="0.83" fill="#6a5fb0" transform="rotate(116 606.93 462.28)"/>
<ellipse cx="682.03" cy="459.62" rx="1.01" ry="0.85" fill="#6a5fb0" transform="rotate(19 682.03 459.62)"/>
<ellipse cx="664.13" cy="410.3" rx="1.1" ry="0.93" fill="#8a6a9a" transform="rotate(137 664.13 410.3)"/>
<ellipse cx="667" cy="428.21" rx="0.74" ry="0.78" fill="#8a6a9a" transform="rotate(24 667 428.21)"/>
<ellipse cx="625.2" cy="434.97" rx="1.47" ry="0.62" fill="#6a5fb0" transform="rotate(18 625.2 434.97)"/>
</g>
<clipPath id="k10"><rect x="496.2" y="465.6" width="93" height="65.4"/></clipPath>
<rect x="496.2" y="465.6" width="93" height="65.4" fill="#dedbd6" stroke="none" stroke-width="1"/>
<g clip-path="url(#k10)">
<path d="M517.25 442.14L530.83 429.96L537.98 432.89L536.57 457.3L528.33 461.16L515.99 452.15Z" fill="#f0efed" stroke="#f0efed" stroke-width="6.52" stroke-linejoin="round"/>
<path d="M545.81 434L553.43 432.14L565.39 448.36L555.03 460.17L544.5 456.59Z" fill="#f0efed" stroke="#f0efed" stroke-width="8.02" stroke-linejoin="round"/>
<path d="M466.54 468.14L486.07 456.84L494.95 461.39L492.49 478.26L484.23 481.58L467.16 472.25Z" fill="#f0efed" stroke="#f0efed" stroke-width="7.07" stroke-linejoin="round"/>
<path d="M502.69 461.99L511.67 458.25L523.71 467.04L521.94 478.63L509.29 483.36L500.25 478.78Z" fill="#f0efed" stroke="#f0efed" stroke-width="7.23" stroke-linejoin="round"/>
<path d="M531.57 468L540.24 463.93L553.19 468.33L556.74 479.11L540.4 493.15L542.63 493.32L529.72 480.12Z" fill="#f0efed" stroke="#f0efed" stroke-width="7.41" stroke-linejoin="round"/>
<path d="M560.97 466.11L572.7 452.74L579.65 453.03L587 462.63L584.01 479.78L577.86 482.04L564.63 477.25Z" fill="#f0efed" stroke="#f0efed" stroke-width="7.54" stroke-linejoin="round"/>
<path d="M595.34 465.47L623.26 459.73L622.84 458.51L610.65 488.84L608.23 489.11L592.74 480.36Z" fill="#f0efed" stroke="#f0efed" stroke-width="8.66" stroke-linejoin="round"/>
<path d="M487.73 488.53L495.78 485.29L505.04 489.98L504.4 506.37L495.24 510.29L486.67 505.27Z" fill="#f0efed" stroke="#f0efed" stroke-width="7.24" stroke-linejoin="round"/>
<path d="M512.8 490.34L524.46 485.99L535.43 497.2L521.93 511.04L512.17 506.57Z" fill="#f0efed" stroke="#f0efed" stroke-width="7.11" stroke-linejoin="round"/>
<path d="M547.45 497.77L562.23 485.07L573.22 489.04L569.88 506.95L556.82 509.16Z" fill="#f0efed" stroke="#f0efed" stroke-width="7.58" stroke-linejoin="round"/>
<path d="M581.19 489.18L587.29 486.93L602.28 495.4L590.59 518.75L586.46 518.46L577.45 509.27Z" fill="#f0efed" stroke="#f0efed" stroke-width="6.94" stroke-linejoin="round"/>
<path d="M469.34 516.81L482.33 511.42L491.36 516.71L491.16 540.93L468.05 525.38Z" fill="#f0efed" stroke="#f0efed" stroke-width="6.57" stroke-linejoin="round"/>
<path d="M499.6 517.76L508.15 514.1L518.75 518.96L525.1 547.05L520.27 552.75L499.16 546.17L499.36 546.59Z" fill="#f0efed" stroke="#f0efed" stroke-width="8.72" stroke-linejoin="round"/>
<path d="M527.07 516.89L542.33 501.23L539.79 501.03L550.88 514.53L544.38 539.08L533 543.14Z" fill="#f0efed" stroke="#f0efed" stroke-width="7.2" stroke-linejoin="round"/>
<path d="M558.34 517.07L572.01 514.75L579.44 522.34L563.29 541.69L552.49 539.15Z" fill="#f0efed" stroke="#f0efed" stroke-width="7.31" stroke-linejoin="round"/>
<path d="M464.47 533.68L490.53 551.22L489.1 548.23L203.67 746.19Z" fill="#f0efed" stroke="#f0efed" stroke-width="10" stroke-linejoin="round"/>
<path d="M586.61 526.44L590.97 526.74L601.41 537.35L585.75 563.34L570.27 546.01Z" fill="#f0efed" stroke="#f0efed" stroke-width="7.76" stroke-linejoin="round"/>
<ellipse cx="541.75" cy="497.27" rx="1.11" ry="0.91" fill="#6a62c0" transform="rotate(67 541.75 497.27)"/>
<ellipse cx="577.88" cy="486.38" rx="1.33" ry="0.83" fill="#6a62c0" transform="rotate(132 577.88 486.38)"/>
<ellipse cx="561.38" cy="480.41" rx="1.06" ry="0.81" fill="#6a62c0" transform="rotate(150 561.38 480.41)"/>
<ellipse cx="587.62" cy="482.79" rx="0.94" ry="0.84" fill="#6a62c0" transform="rotate(86 587.62 482.79)"/>
<ellipse cx="525.46" cy="481.5" rx="1.13" ry="0.71" fill="#6a62c0" transform="rotate(67 525.46 481.5)"/>
<ellipse cx="573.38" cy="510.51" rx="1.3" ry="0.68" fill="#6a62c0" transform="rotate(32 573.38 510.51)"/>
<ellipse cx="540.82" cy="497.2" rx="1.33" ry="0.68" fill="#6a62c0" transform="rotate(104 540.82 497.2)"/>
<ellipse cx="509.05" cy="487.62" rx="1.49" ry="0.79" fill="#6a62c0" transform="rotate(94 509.05 487.62)"/>
</g>
<clipPath id="k11"><rect x="590.9" y="465.6" width="92.9" height="65.4"/></clipPath>
<rect x="590.9" y="465.6" width="92.9" height="65.4" fill="#dad0bb" stroke="none" stroke-width="1"/>
<g clip-path="url(#k11)">
<path d="M604.31 434.16L606.21 436.58L602.21 456.75L595.04 460.06L583.67 451.67Z" fill="#f1f0ed" stroke="#f1f0ed" stroke-width="5.6" stroke-linejoin="round"/>
<path d="M611.74 439.66L624.72 444.54L625.36 454.15L616.91 461.34L608.24 457.28Z" fill="#f1f0ed" stroke="#f1f0ed" stroke-width="5.05" stroke-linejoin="round"/>
<path d="M630.76 444.21L642.37 437.17L651.2 456.69L651.06 456.9L642.21 461.13L631.39 453.66Z" fill="#f1f0ed" stroke="#f1f0ed" stroke-width="5.66" stroke-linejoin="round"/>
<path d="M677.8 438.59L686.47 444.28L688.7 457.1L680.07 462.31L670.28 453.41Z" fill="#f1f0ed" stroke="#f1f0ed" stroke-width="5.28" stroke-linejoin="round"/>
<path d="M562.56 464.8L565.49 456.59L569.24 454.79L577.31 455.36L591.02 465.49L590.65 478.69L583.04 482.87L565.64 474.56Z" fill="#f1f0ed" stroke="#f1f0ed" stroke-width="6.51" stroke-linejoin="round"/>
<path d="M597.75 465.73L604.98 462.38L614.5 466.84L615.58 474.48L603.42 481.39L597.39 478.81Z" fill="#f1f0ed" stroke="#f1f0ed" stroke-width="5.56" stroke-linejoin="round"/>
<path d="M620.22 465.81L628.49 458.77L638.82 465.91L636.33 474.73L626.13 477.05L621.44 474.45Z" fill="#f1f0ed" stroke="#f1f0ed" stroke-width="4.66" stroke-linejoin="round"/>
<path d="M644.21 466.72L651.98 463.02L659.88 479.62L647.9 484.13L641.5 476.35Z" fill="#f1f0ed" stroke="#f1f0ed" stroke-width="4.76" stroke-linejoin="round"/>
<path d="M657.02 459.59L656.88 459.82L665.65 457.71L676.13 467.22L675.14 472.53L667.95 478.9L665.95 478.35Z" fill="#f1f0ed" stroke="#f1f0ed" stroke-width="5.9" stroke-linejoin="round"/>
<path d="M682.39 467.88L692.26 461.93L702.25 465.95L703.64 474.08L697.16 481.58L681.5 472.7Z" fill="#f1f0ed" stroke="#f1f0ed" stroke-width="5.26" stroke-linejoin="round"/>
<path d="M586.25 488.82L594.37 484.37L601.17 487.27L606.67 501.12L606.17 501.96L592.53 504.07L585.87 499.3Z" fill="#f1f0ed" stroke="#f1f0ed" stroke-width="5.62" stroke-linejoin="round"/>
<path d="M607.45 486.22L618.99 479.66L622.61 481.66L622.16 496.56L612.13 498.02Z" fill="#f1f0ed" stroke="#f1f0ed" stroke-width="5.42" stroke-linejoin="round"/>
<path d="M628.41 482.09L637.44 480.04L644.08 488.12L642.93 494.01L632.99 500.58L627.94 497.66Z" fill="#f1f0ed" stroke="#f1f0ed" stroke-width="4.8" stroke-linejoin="round"/>
<path d="M649.74 489.67L663.77 484.39L666.31 485.09L670.66 500.02L671.25 498.6L659.24 502.9L648.81 494.44Z" fill="#f1f0ed" stroke="#f1f0ed" stroke-width="5.51" stroke-linejoin="round"/>
<path d="M672.68 483.67L678.62 478.41L694.24 487.27L693.91 491.09L676.28 496.01Z" fill="#f1f0ed" stroke="#f1f0ed" stroke-width="6.12" stroke-linejoin="round"/>
<path d="M571.16 513.05L582.68 504.45L588.79 508.81L588.21 519.46L579.56 523.43Z" fill="#f1f0ed" stroke="#f1f0ed" stroke-width="5.05" stroke-linejoin="round"/>
<path d="M594.32 509.73L606 507.92L607.8 516.81L599.78 523.02L593.78 519.79Z" fill="#f1f0ed" stroke="#f1f0ed" stroke-width="4.7" stroke-linejoin="round"/>
<path d="M611.17 505.36L611.95 504.04L624.57 502.2L630.37 505.55L631.2 514.67L622 521.24L613.34 516.1Z" fill="#f1f0ed" stroke="#f1f0ed" stroke-width="5.04" stroke-linejoin="round"/>
<path d="M636.28 505.34L645.22 499.44L655.09 507.45L651.04 519.59L648.29 520.87L637.09 514.22Z" fill="#f1f0ed" stroke="#f1f0ed" stroke-width="5.38" stroke-linejoin="round"/>
<path d="M661.1 508.82L671.85 504.96L677.05 517.62L669.99 525.03L657.36 520Z" fill="#f1f0ed" stroke="#f1f0ed" stroke-width="5.48" stroke-linejoin="round"/>
<path d="M677.21 501.06L676.42 502.99L695.81 497.58L703.95 508.37L703.73 509.44L692.85 517.27L683.09 515.36Z" fill="#f1f0ed" stroke="#f1f0ed" stroke-width="6" stroke-linejoin="round"/>
<path d="M581.4 528.86L590.88 524.51L597.35 528L598.23 538.9L580.17 543.36Z" fill="#f1f0ed" stroke="#f1f0ed" stroke-width="4.96" stroke-linejoin="round"/>
<path d="M603.35 527.69L611.01 521.75L618.92 526.44L618.54 540.41L612.62 543.5L604.27 539.08Z" fill="#f1f0ed" stroke="#f1f0ed" stroke-width="5.65" stroke-linejoin="round"/>
<path d="M625.39 526.39L634.37 519.98L644.43 525.95L642.02 538.33L632.22 542.12L625.03 539.94Z" fill="#f1f0ed" stroke="#f1f0ed" stroke-width="5.9" stroke-linejoin="round"/>
<path d="M651.13 526.66L653.61 525.5L667.64 531.09L669.64 548.49L666.85 552.45L648.67 539.27Z" fill="#f1f0ed" stroke="#f1f0ed" stroke-width="6.11" stroke-linejoin="round"/>
<path d="M674.04 529.77L681.75 521.68L690.8 523.45L692.72 540.5L675.84 545.39Z" fill="#f1f0ed" stroke="#f1f0ed" stroke-width="5.51" stroke-linejoin="round"/>
<ellipse cx="678.18" cy="474.25" rx="0.76" ry="0.84" fill="#8a6a9a" transform="rotate(59 678.18 474.25)"/>
<ellipse cx="673.59" cy="501.06" rx="0.94" ry="0.85" fill="#8a6a9a" transform="rotate(0 673.59 501.06)"/>
<ellipse cx="622.14" cy="524.66" rx="1.43" ry="0.57" fill="#9a7a5a" transform="rotate(13 622.14 524.66)"/>
<ellipse cx="608.14" cy="504.85" rx="0.77" ry="0.73" fill="#8a6a9a" transform="rotate(67 608.14 504.85)"/>
<ellipse cx="625.72" cy="479.89" rx="1.43" ry="0.61" fill="#9a7a5a" transform="rotate(138 625.72 479.89)"/>
<ellipse cx="673.95" cy="500.2" rx="1.16" ry="0.78" fill="#9a7a5a" transform="rotate(4 673.95 500.2)"/>
</g>
<clipPath id="k20"><rect x="496.2" y="533.9" width="93" height="65.7"/></clipPath>
<rect x="496.2" y="533.9" width="93" height="65.7" fill="#ded1b2" stroke="none" stroke-width="1"/>
<g clip-path="url(#k20)">
<path d="M461.45 511.04L489.45 516.9L480.97 530.85L479.4 531.79L472.97 532.5Z" fill="#f5f3ef" stroke="#f5f3ef" stroke-width="4.28" stroke-linejoin="round"/>
<path d="M494.83 516.82L495.34 516.65L497.78 528.45L495.38 531.38L486.28 530.88Z" fill="#f5f3ef" stroke="#f5f3ef" stroke-width="3.23" stroke-linejoin="round"/>
<path d="M498.83 514.6L505.27 508.23L505.92 508.54L509.84 518.06L507.64 530.55L508.39 529.84L501.5 527.59Z" fill="#f5f3ef" stroke="#f5f3ef" stroke-width="2.82" stroke-linejoin="round"/>
<path d="M512.77 520.65L518.45 525.12L518.27 529.67L511.15 529.87Z" fill="#f5f3ef" stroke="#f5f3ef" stroke-width="2.27" stroke-linejoin="round"/>
<path d="M521.64 525.54L528.52 522.7L529.37 529.63L523.32 532.81L521.44 530.58Z" fill="#f5f3ef" stroke="#f5f3ef" stroke-width="2.54" stroke-linejoin="round"/>
<path d="M531.88 520.63L533.07 518.08L535.37 518.18L539.79 520.81L539.09 531.01L537.54 531.86L532.95 529.37Z" fill="#f5f3ef" stroke="#f5f3ef" stroke-width="3.02" stroke-linejoin="round"/>
<path d="M543.41 521.35L543.36 521.36L549.24 523.76L549.71 528.4L546.23 531.39L542.76 530.75Z" fill="#f5f3ef" stroke="#f5f3ef" stroke-width="2.68" stroke-linejoin="round"/>
<path d="M552.68 523.42L561.82 517.54L562.09 517.62L560.9 526.69L557.22 529.23L553.13 527.85Z" fill="#f5f3ef" stroke="#f5f3ef" stroke-width="2.63" stroke-linejoin="round"/>
<path d="M565.63 517.75L564.64 518.05L574.4 529.54L573.96 530.33L568.95 531.43L564.42 527.01Z" fill="#f5f3ef" stroke="#f5f3ef" stroke-width="2.83" stroke-linejoin="round"/>
<path d="M591.91 512.64L595.16 512.94L598.75 518.69L589.85 530.36L588.54 529.16Z" fill="#f5f3ef" stroke="#f5f3ef" stroke-width="3.94" stroke-linejoin="round"/>
<path d="M602.11 522.54L608.96 527.84L604.48 539.48L593.2 535.67L592.98 534.52Z" fill="#f5f3ef" stroke="#f5f3ef" stroke-width="4.48" stroke-linejoin="round"/>
<path d="M482.93 534.56L483.23 534.38L495.09 535.04L497.06 540.55L496.84 541.1L490.33 541.7Z" fill="#f5f3ef" stroke="#f5f3ef" stroke-width="2.51" stroke-linejoin="round"/>
<path d="M498.28 533.79L500.54 531.03L507.06 533.16L506.96 536.69L499.96 538.5Z" fill="#f5f3ef" stroke="#f5f3ef" stroke-width="2.72" stroke-linejoin="round"/>
<path d="M510.65 532.7L510.06 533.26L518.92 533.01L521 535.47L520.87 536.48L511.88 539.3L510.52 537.48Z" fill="#f5f3ef" stroke="#f5f3ef" stroke-width="2.84" stroke-linejoin="round"/>
<path d="M524.46 535.99L531.16 532.47L535.75 534.97L535.5 537.05L529.45 541.28L525.93 540.85L524.25 537.57Z" fill="#f5f3ef" stroke="#f5f3ef" stroke-width="2.54" stroke-linejoin="round"/>
<path d="M538.72 537.63L539.04 535.05L541.19 533.86L545.64 534.68L548.04 539.79L543.34 544.14L542.59 543.91Z" fill="#f5f3ef" stroke="#f5f3ef" stroke-width="2.4" stroke-linejoin="round"/>
<path d="M548.72 533.68L551.89 530.95L555.95 532.32L556.34 538.08L554.62 539.6L551.11 538.77Z" fill="#f5f3ef" stroke="#f5f3ef" stroke-width="2.43" stroke-linejoin="round"/>
<path d="M559.2 531.96L562.32 529.81L566.37 533.76L564.45 537.72L559.56 537.25Z" fill="#f5f3ef" stroke="#f5f3ef" stroke-width="2.51" stroke-linejoin="round"/>
<path d="M569.6 534.96L574.03 533.99L576.28 539.96L575.18 541.54L568.8 542.1L567.42 539.45Z" fill="#f5f3ef" stroke="#f5f3ef" stroke-width="2.75" stroke-linejoin="round"/>
<path d="M576.84 532.05L577.71 530.49L577.56 530.57L585.27 531.47L588.75 534.65L589.23 537.1L587.12 538.92L579.34 538.7Z" fill="#f5f3ef" stroke="#f5f3ef" stroke-width="2.27" stroke-linejoin="round"/>
<path d="M491.11 544.82L496.94 544.28L498.65 549.03L494.22 553.23L491.04 553.18L490.23 552.78Z" fill="#f5f3ef" stroke="#f5f3ef" stroke-width="2.25" stroke-linejoin="round"/>
<path d="M499.89 542.71L500.14 542.11L507.97 540.09L509.4 542L509.34 544.42L504.09 548.35L501.75 547.89Z" fill="#f5f3ef" stroke="#f5f3ef" stroke-width="2.77" stroke-linejoin="round"/>
<path d="M512.86 542.68L521.67 539.91L522.99 542.48L521.06 547.28L517.75 548.71L512.81 544.56Z" fill="#f5f3ef" stroke="#f5f3ef" stroke-width="2.58" stroke-linejoin="round"/>
<path d="M525.85 544.09L528.94 544.47L532.67 550.58L532.95 549.61L528.64 552.35L524.21 548.16Z" fill="#f5f3ef" stroke="#f5f3ef" stroke-width="2.31" stroke-linejoin="round"/>
<path d="M532.17 543.5L536.56 540.43L539.25 544.8L534.86 547.9Z" fill="#f5f3ef" stroke="#f5f3ef" stroke-width="2.61" stroke-linejoin="round"/>
<path d="M545.91 546.34L550.49 542.08L553.58 542.82L554.64 547.75L550.39 551.35L548.33 551.21Z" fill="#f5f3ef" stroke="#f5f3ef" stroke-width="2.7" stroke-linejoin="round"/>
<path d="M556.99 542L558.6 540.58L564.32 541.13L565.84 544.07L564.24 548.07L562.89 548.74L558.08 547.07Z" fill="#f5f3ef" stroke="#f5f3ef" stroke-width="2.71" stroke-linejoin="round"/>
<path d="M568.9 545.49L574.95 544.96L575.94 548.76L571.59 551.47L567.59 548.74Z" fill="#f5f3ef" stroke="#f5f3ef" stroke-width="2.42" stroke-linejoin="round"/>
<path d="M577.81 543.53L579.05 541.74L586.07 541.95L585.68 548.77L580.77 549.62L579.12 548.55Z" fill="#f5f3ef" stroke="#f5f3ef" stroke-width="2.23" stroke-linejoin="round"/>
<path d="M589.68 541.47L591.36 540.01L604.3 544.38L604.92 546.97L592.04 551.66L591.54 551.54L589.24 549.26Z" fill="#f5f3ef" stroke="#f5f3ef" stroke-width="3.32" stroke-linejoin="round"/>
<path d="M497.21 555.06L501 551.45L503.25 551.89L506.63 559.01L505.22 560.94L500.91 560.85Z" fill="#f5f3ef" stroke="#f5f3ef" stroke-width="2.91" stroke-linejoin="round"/>
<path d="M506.75 550.8L511.04 547.6L515.47 551.32L514.24 556.26L509.79 557.19Z" fill="#f5f3ef" stroke="#f5f3ef" stroke-width="2.76" stroke-linejoin="round"/>
<path d="M518.96 551.94L522 550.63L526.6 554.98L526.43 556.45L521.54 560.79L517.65 557.19Z" fill="#f5f3ef" stroke="#f5f3ef" stroke-width="2.71" stroke-linejoin="round"/>
<path d="M529.87 555.2L533.96 552.6L537.66 557.19L534.78 559.87L529.7 556.57Z" fill="#f5f3ef" stroke="#f5f3ef" stroke-width="2.22" stroke-linejoin="round"/>
<path d="M536.19 550.21L535.85 551.4L541.84 547.16L542.54 547.38L545.15 552.63L542.6 555.57L540.53 555.6Z" fill="#f5f3ef" stroke="#f5f3ef" stroke-width="2.65" stroke-linejoin="round"/>
<path d="M553.16 553.49L556.93 550.29L561.2 551.77L560.58 556.78L556.48 558.8Z" fill="#f5f3ef" stroke="#f5f3ef" stroke-width="2.53" stroke-linejoin="round"/>
<path d="M564.39 551.61L565.5 551.05L570.16 554.24L570.72 558.56L568 560.38L563.7 557.2Z" fill="#f5f3ef" stroke="#f5f3ef" stroke-width="2.16" stroke-linejoin="round"/>
<path d="M573.13 554.14L577.78 551.25L578.87 551.96L578.13 558.57L577.23 559.11L573.64 558.12Z" fill="#f5f3ef" stroke="#f5f3ef" stroke-width="2.16" stroke-linejoin="round"/>
<path d="M581.89 552.58L586.59 551.77L588.31 553.49L583.88 558.6L581.27 558.14Z" fill="#f5f3ef" stroke="#f5f3ef" stroke-width="2.38" stroke-linejoin="round"/>
<path d="M594.99 555.44L606.56 551.23L612.16 557.88L611.97 564.68L610.78 566.74L604.18 570.22L596.6 564.26Z" fill="#f5f3ef" stroke="#f5f3ef" stroke-width="4.21" stroke-linejoin="round"/>
<path d="M492.22 556.41L493.89 556.44L497.8 562.55L495.73 565.02L491.52 564.57Z" fill="#f5f3ef" stroke="#f5f3ef" stroke-width="2.56" stroke-linejoin="round"/>
<path d="M508.3 563.12L509.9 560.94L515.12 559.86L519.68 564.08L520.12 568.07L519.28 570.04L510.34 568.81Z" fill="#f5f3ef" stroke="#f5f3ef" stroke-width="3.05" stroke-linejoin="round"/>
<path d="M523.37 563.87L528.26 559.54L533.17 562.73L533.16 565.46L523.65 566.42Z" fill="#f5f3ef" stroke="#f5f3ef" stroke-width="2.73" stroke-linejoin="round"/>
<path d="M536.36 562.4L540.28 558.75L542.4 558.72L544.5 564.65L537.54 567.79L536.35 566.5Z" fill="#f5f3ef" stroke="#f5f3ef" stroke-width="2.04" stroke-linejoin="round"/>
<path d="M545.41 557.67L547.97 554.72L549.96 554.85L553.95 561.22L553.54 562.62L549.19 564.84L547.7 564.13Z" fill="#f5f3ef" stroke="#f5f3ef" stroke-width="2.74" stroke-linejoin="round"/>
<path d="M557.21 562.09L561.96 559.76L566.22 562.9L565.93 564.71L561.38 567.53L556.85 563.34Z" fill="#f5f3ef" stroke="#f5f3ef" stroke-width="2.42" stroke-linejoin="round"/>
<path d="M569.36 563.08L572.57 560.94L576.01 561.89L576.42 566.76L572.89 568.96L569.04 565.15Z" fill="#f5f3ef" stroke="#f5f3ef" stroke-width="2.25" stroke-linejoin="round"/>
<path d="M578.92 561.46L579.8 560.93L583.59 561.59L585.48 564.95L582.63 568.24L579.35 566.65Z" fill="#f5f3ef" stroke="#f5f3ef" stroke-width="2.01" stroke-linejoin="round"/>
<path d="M591.04 555.15L590.8 555.09L592.41 563.94L588.14 563.63L586.39 560.51Z" fill="#f5f3ef" stroke="#f5f3ef" stroke-width="2.32" stroke-linejoin="round"/>
<path d="M486.21 569.9L490.04 567.67L495.13 568.21L496.18 573.72L492.12 575.42L486.47 572.28Z" fill="#f5f3ef" stroke="#f5f3ef" stroke-width="2.31" stroke-linejoin="round"/>
<path d="M498.32 567.28L500.69 564.46L504.9 564.54L506.93 570.21L503.11 574.87L499.49 573.4Z" fill="#f5f3ef" stroke="#f5f3ef" stroke-width="2.71" stroke-linejoin="round"/>
<path d="M506 577.5L509.82 572.84L518.8 574.08L518.6 573.35L515.92 583.32L514.57 584.64L506.82 580.57Z" fill="#f5f3ef" stroke="#f5f3ef" stroke-width="3.48" stroke-linejoin="round"/>
<path d="M523.49 570.26L534.12 569.18L535.19 570.34L535.35 574.61L533.05 576.32L522.51 571.84L522.63 572.28Z" fill="#f5f3ef" stroke="#f5f3ef" stroke-width="3.27" stroke-linejoin="round"/>
<path d="M538.97 570.61L546.26 567.32L547.57 567.94L547.93 572.77L543.76 576.46L539.11 574.44Z" fill="#f5f3ef" stroke="#f5f3ef" stroke-width="2.66" stroke-linejoin="round"/>
<path d="M550.95 567.78L554.75 565.85L559.47 570.21L559.19 573.3L556.07 574.62L551.3 572.4Z" fill="#f5f3ef" stroke="#f5f3ef" stroke-width="2.52" stroke-linejoin="round"/>
<path d="M562.82 570.54L567.17 567.85L570.9 571.54L570.72 573.56L566.46 576.79L562.54 573.67Z" fill="#f5f3ef" stroke="#f5f3ef" stroke-width="2.62" stroke-linejoin="round"/>
<path d="M574.17 571.81L578.11 569.36L581.64 571.07L582.81 575.59L581.14 577.9L574.01 573.63Z" fill="#f5f3ef" stroke="#f5f3ef" stroke-width="2.35" stroke-linejoin="round"/>
<path d="M584.7 570.38L587.86 566.74L593.72 567.17L601.77 573.5L602.32 572.74L585.7 574.24Z" fill="#f5f3ef" stroke="#f5f3ef" stroke-width="2.33" stroke-linejoin="round"/>
<path d="M493.73 578.35L497.95 576.59L502.16 578.3L503 581.45L496.94 587.01L493.37 584.46Z" fill="#f5f3ef" stroke="#f5f3ef" stroke-width="2.75" stroke-linejoin="round"/>
<path d="M522.21 576.19L531.02 579.94L530.28 584.7L520.44 582.81Z" fill="#f5f3ef" stroke="#f5f3ef" stroke-width="3.37" stroke-linejoin="round"/>
<path d="M535.16 579.76L537.69 577.87L542.46 579.94L543.87 584.48L540.75 589.04L535.08 588.75L534.06 586.82Z" fill="#f5f3ef" stroke="#f5f3ef" stroke-width="3.16" stroke-linejoin="round"/>
<path d="M546.07 579.04L550.02 575.55L554.07 577.43L552.84 583.59L547.36 583.17Z" fill="#f5f3ef" stroke="#f5f3ef" stroke-width="2.67" stroke-linejoin="round"/>
<path d="M557.62 577.72L560.47 576.51L564.68 579.85L564.81 582.24L557.8 586.37L556.2 584.83Z" fill="#f5f3ef" stroke="#f5f3ef" stroke-width="2.8" stroke-linejoin="round"/>
<path d="M568.32 579.82L572.48 576.68L579.69 581L579.67 581.5L571.91 585.24L568.45 582.34Z" fill="#f5f3ef" stroke="#f5f3ef" stroke-width="2.87" stroke-linejoin="round"/>
<path d="M583.44 580.63L585.54 577.72L600.66 576.36L600.84 575.67L589.65 585.3L585.75 584.86L583.39 582.02Z" fill="#f5f3ef" stroke="#f5f3ef" stroke-width="2.99" stroke-linejoin="round"/>
<path d="M478.63 588.52L478.67 590.3L491.16 587.29L495.35 590.27L495.59 593.26L491.26 596.52Z" fill="#f5f3ef" stroke="#f5f3ef" stroke-width="2.81" stroke-linejoin="round"/>
<path d="M499.08 590.07L505.29 584.36L513.02 588.41L512.98 590.87L508.88 594.93L501.91 594.52L499.31 592.96Z" fill="#f5f3ef" stroke="#f5f3ef" stroke-width="3.04" stroke-linejoin="round"/>
<path d="M516.87 588.08L518.47 586.52L530.74 588.88L531.65 590.61L530.93 591.8L521.39 594.37L516.83 590.76Z" fill="#f5f3ef" stroke="#f5f3ef" stroke-width="3.05" stroke-linejoin="round"/>
<path d="M546.95 586.69L553.45 587.2L555.74 589.4L555.79 591.39L551.21 595L545.58 593.67L543.93 591.1Z" fill="#f5f3ef" stroke="#f5f3ef" stroke-width="2.82" stroke-linejoin="round"/>
<path d="M559.54 589.73L566.47 585.65L569.67 588.34L569.73 591.87L564.01 595.03L559.58 591.31Z" fill="#f5f3ef" stroke="#f5f3ef" stroke-width="3.15" stroke-linejoin="round"/>
<path d="M573.48 588.55L580.97 584.94L582.75 587.07L580.67 593.99L577.13 595.11L573.53 592.15Z" fill="#f5f3ef" stroke="#f5f3ef" stroke-width="2.85" stroke-linejoin="round"/>
<path d="M585.93 588.4L589.24 588.78L591.06 592.24L587.11 597.05L584 594.81Z" fill="#f5f3ef" stroke="#f5f3ef" stroke-width="2.41" stroke-linejoin="round"/>
<path d="M592.49 587.7L601.22 580.19L603.26 594.54L594.24 591.01Z" fill="#f5f3ef" stroke="#f5f3ef" stroke-width="2.76" stroke-linejoin="round"/>
<path d="M493.05 599.76L497.59 596.35L499.4 597.43L498.74 608.73L497.09 609.79L491.72 607.22Z" fill="#f5f3ef" stroke="#f5f3ef" stroke-width="2.93" stroke-linejoin="round"/>
<path d="M503.19 598.51L507.83 598.78L508.68 606.63L502.66 607.48Z" fill="#f5f3ef" stroke="#f5f3ef" stroke-width="3.17" stroke-linejoin="round"/>
<path d="M511.83 597.69L515.05 594.5L519.02 597.64L520.92 608.08L517.19 610.38L512.85 607.18Z" fill="#f5f3ef" stroke="#f5f3ef" stroke-width="3.43" stroke-linejoin="round"/>
<path d="M522.9 597.71L530.68 595.62L531.39 603.58L527.42 607.53L524.68 607.46Z" fill="#f5f3ef" stroke="#f5f3ef" stroke-width="2.58" stroke-linejoin="round"/>
<path d="M534.04 593.89L534.85 592.53L540.73 592.83L542.47 595.52L540.13 602.65L534.8 602.47Z" fill="#f5f3ef" stroke="#f5f3ef" stroke-width="2.82" stroke-linejoin="round"/>
<path d="M545.65 597.39L550.1 598.44L551.92 607.91L547.5 608.81L543.45 604.1Z" fill="#f5f3ef" stroke="#f5f3ef" stroke-width="2.79" stroke-linejoin="round"/>
<path d="M553.91 597.81L557.58 594.91L561.7 598.37L561.58 608.08L559.58 608.95L555.82 607.73Z" fill="#f5f3ef" stroke="#f5f3ef" stroke-width="3.34" stroke-linejoin="round"/>
<path d="M565.6 598.5L571.52 595.23L574.76 597.9L574.12 602.01L564.76 607.81L565.49 607.95Z" fill="#f5f3ef" stroke="#f5f3ef" stroke-width="2.86" stroke-linejoin="round"/>
<path d="M578.11 598.33L581.86 597.15L586.13 600.22L591.39 613.17L577.47 602.46Z" fill="#f5f3ef" stroke="#f5f3ef" stroke-width="2.29" stroke-linejoin="round"/>
<path d="M590.74 599.74L593.88 595.9L603.44 599.63L612.73 616.06L613.51 614.14L596.6 615.17L597.52 616.46Z" fill="#f5f3ef" stroke="#f5f3ef" stroke-width="5.01" stroke-linejoin="round"/>
<ellipse cx="497.47" cy="594.1" rx="1.32" ry="0.75" fill="#b08850" opacity="0.55"/>
<ellipse cx="565.43" cy="539.47" rx="1.34" ry="0.9" fill="#b08850" opacity="0.55"/>
<ellipse cx="544.08" cy="578.48" rx="1.52" ry="1.1" fill="#b08850" opacity="0.55"/>
<ellipse cx="571.54" cy="553.39" rx="1.4" ry="1.07" fill="#b08850" opacity="0.55"/>
<ellipse cx="581.57" cy="579.99" rx="1.43" ry="1.06" fill="#b08850" opacity="0.55"/>
<ellipse cx="571.72" cy="593.02" rx="1.4" ry="0.93" fill="#b08850" opacity="0.55"/>
<ellipse cx="558.01" cy="538.76" rx="1.31" ry="1.1" fill="#b08850" opacity="0.55"/>
<ellipse cx="567.41" cy="565.69" rx="0.97" ry="1.15" fill="#b08850" opacity="0.55"/>
<ellipse cx="504.99" cy="582.03" rx="1.54" ry="0.96" fill="#b08850" opacity="0.55"/>
<ellipse cx="541.75" cy="591.07" rx="0.89" ry="0.82" fill="#b08850" opacity="0.55"/>
<ellipse cx="498.84" cy="540.6" rx="1.19" ry="0.96" fill="#b08850" opacity="0.55"/>
<ellipse cx="549.98" cy="540.16" rx="1.4" ry="1.14" fill="#b08850" opacity="0.55"/>
<ellipse cx="572.3" cy="559.28" rx="0.85" ry="0.93" fill="#b08850" opacity="0.55"/>
<ellipse cx="557.53" cy="588.62" rx="0.98" ry="1.1" fill="#b08850" opacity="0.55"/>
<ellipse cx="563.01" cy="550.64" rx="1.52" ry="1.18" fill="#b08850" opacity="0.55"/>
<ellipse cx="534.92" cy="567.05" rx="1.51" ry="0.63" fill="#b08850" opacity="0.55"/>
<ellipse cx="561.19" cy="569.54" rx="0.98" ry="0.69" fill="#b08850" opacity="0.55"/>
<ellipse cx="565.62" cy="549.34" rx="1.12" ry="0.82" fill="#b08850" opacity="0.55"/>
<ellipse cx="517.46" cy="550.67" rx="1.03" ry="1" fill="#b08850" opacity="0.55"/>
<ellipse cx="508.78" cy="559.21" rx="1.44" ry="1.19" fill="#b08850" opacity="0.55"/>
<ellipse cx="549.22" cy="566.81" rx="0.84" ry="0.87" fill="#b08850" opacity="0.55"/>
<ellipse cx="508.68" cy="538.06" rx="1.06" ry="1.14" fill="#b08850" opacity="0.55"/>
<ellipse cx="508.92" cy="570.55" rx="0.74" ry="0.89" fill="#6a5cae" transform="rotate(6 508.92 570.55)"/>
<ellipse cx="579.52" cy="559.46" rx="0.89" ry="0.74" fill="#6a5cae" transform="rotate(54 579.52 559.46)"/>
<ellipse cx="551.64" cy="596.96" rx="1.32" ry="0.52" fill="#8c6a9e" transform="rotate(97 551.64 596.96)"/>
<ellipse cx="522.52" cy="537.87" rx="1.19" ry="0.63" fill="#8c6a9e" transform="rotate(83 522.52 537.87)"/>
<ellipse cx="556.04" cy="576.43" rx="1.12" ry="0.54" fill="#6a5cae" transform="rotate(84 556.04 576.43)"/>
<ellipse cx="537.43" cy="575.6" rx="0.77" ry="0.7" fill="#8c6a9e" transform="rotate(105 537.43 575.6)"/>
<ellipse cx="557.63" cy="592.25" rx="0.83" ry="0.58" fill="#8c6a9e" transform="rotate(38 557.63 592.25)"/>
<ellipse cx="503.64" cy="576.99" rx="0.91" ry="0.72" fill="#8c6a9e" transform="rotate(1 503.64 576.99)"/>
<ellipse cx="517.84" cy="584.44" rx="1" ry="0.66" fill="#6a5cae" transform="rotate(124 517.84 584.44)"/>
<ellipse cx="580.44" cy="551.21" rx="1.29" ry="0.61" fill="#6a5cae" transform="rotate(28 580.44 551.21)"/>
<ellipse cx="521.51" cy="563.16" rx="0.9" ry="0.53" fill="#6a5cae" transform="rotate(143 521.51 563.16)"/>
<ellipse cx="555.06" cy="541.36" rx="1.18" ry="0.55" fill="#6a5cae" transform="rotate(14 555.06 541.36)"/>
<ellipse cx="567.96" cy="562.18" rx="1.03" ry="0.85" fill="#8c6a9e" transform="rotate(70 567.96 562.18)"/>
<ellipse cx="500.42" cy="549.45" rx="0.96" ry="0.84" fill="#8c6a9e" transform="rotate(52 500.42 549.45)"/>
<ellipse cx="528.09" cy="557.32" rx="1.26" ry="0.95" fill="#6a5cae" transform="rotate(74 528.09 557.32)"/>
<ellipse cx="528.45" cy="554.31" rx="1.25" ry="0.91" fill="#8c6a9e" transform="rotate(0 528.45 554.31)"/>
</g>
<clipPath id="k21"><rect x="590.9" y="533.9" width="92.9" height="65.7"/></clipPath>
<rect x="590.9" y="533.9" width="92.9" height="65.7" fill="#ded1b2" stroke="none" stroke-width="1"/>
<g clip-path="url(#k21)">
<path d="M608.68 520.64L622.54 507.69L633.34 518.86L633.38 531.41L624.28 536.78L610.79 528.49Z" fill="#f4f3ef" stroke="#f4f3ef" stroke-width="7.21" stroke-linejoin="round"/>
<path d="M640.74 519.49L658.98 511.89L660.61 514.46L656.27 533.48L649.43 536.67L640.78 531.72Z" fill="#f4f3ef" stroke="#f4f3ef" stroke-width="5.99" stroke-linejoin="round"/>
<path d="M666.32 518.2L677.04 523.47L674.32 535.35L662.85 533.42Z" fill="#f4f3ef" stroke="#f4f3ef" stroke-width="5.21" stroke-linejoin="round"/>
<path d="M683.32 524.03L689.79 520.77L703.9 525.22L688.47 543.69L683.12 542.81L680.07 538.17Z" fill="#f4f3ef" stroke="#f4f3ef" stroke-width="5.67" stroke-linejoin="round"/>
<path d="M555.68 519.22L559.31 510.83L600.9 522.6L602.85 529.86L591.1 541.53L585.36 540.46Z" fill="#f4f3ef" stroke="#f4f3ef" stroke-width="7.23" stroke-linejoin="round"/>
<path d="M585.7 547.13L590.98 548.11L594.94 553.77L593.52 567.49L585.05 578.68L579.35 578.55Z" fill="#f4f3ef" stroke="#f4f3ef" stroke-width="4.17" stroke-linejoin="round"/>
<path d="M607.83 535.35L620.36 543.05L618.46 550.77L599.33 549.8L596.85 546.25Z" fill="#f4f3ef" stroke="#f4f3ef" stroke-width="5.98" stroke-linejoin="round"/>
<path d="M625.3 554.28L627.81 544.11L637.42 538.44L645.66 543.14L649.63 560.95L645.1 566.78L646.17 566.51L626.94 560.79Z" fill="#f4f3ef" stroke="#f4f3ef" stroke-width="7.4" stroke-linejoin="round"/>
<path d="M652.98 542.31L659.67 539.21L674.69 541.74L677.24 545.63L667.62 558.18L656.62 558.61Z" fill="#f4f3ef" stroke="#f4f3ef" stroke-width="5.65" stroke-linejoin="round"/>
<path d="M600.01 556.03L618.87 556.98L620.48 563.37L619.92 564.04L599.04 565.43Z" fill="#f4f3ef" stroke="#f4f3ef" stroke-width="4.79" stroke-linejoin="round"/>
<path d="M597.73 571.79L616.59 570.54L611.82 586.98L604.73 590.07L591.18 580.44Z" fill="#f4f3ef" stroke="#f4f3ef" stroke-width="6.14" stroke-linejoin="round"/>
<path d="M682.54 549.15L688.04 550.06L697.48 562.45L680.05 569.66L673.24 561.29Z" fill="#f4f3ef" stroke="#f4f3ef" stroke-width="5.44" stroke-linejoin="round"/>
<path d="M624.13 568.24L624.63 567.64L641.51 572.66L631.07 591.99L618.52 587.55Z" fill="#f4f3ef" stroke="#f4f3ef" stroke-width="5.44" stroke-linejoin="round"/>
<path d="M651.67 570.47L655.74 565.22L667.72 564.76L675.61 574.46L675.18 578.36L669.21 583.65L661.61 584.02Z" fill="#f4f3ef" stroke="#f4f3ef" stroke-width="5.9" stroke-linejoin="round"/>
<path d="M682.4 575.92L702.4 567.65L711.44 571.52L692.51 585.62L682.14 578.31Z" fill="#f4f3ef" stroke="#f4f3ef" stroke-width="6.33" stroke-linejoin="round"/>
<path d="M648.37 573.7L646.08 574.28L656.1 587.93L651.75 598.65L650.72 599.03L636.1 595.14L636.46 595.74Z" fill="#f4f3ef" stroke="#f4f3ef" stroke-width="6.01" stroke-linejoin="round"/>
<path d="M673.81 587.64L678.55 583.44L689.71 591.3L688.99 597.72L678.35 597.85Z" fill="#f4f3ef" stroke="#f4f3ef" stroke-width="4.58" stroke-linejoin="round"/>
<path d="M607.9 596.59L614.84 593.56L630 598.92L629.82 598.61L621.87 626.77L606.62 613.26Z" fill="#f4f3ef" stroke="#f4f3ef" stroke-width="6.74" stroke-linejoin="round"/>
<path d="M636.7 603.02L646.1 605.52L640.04 633.32L627.8 632.37L628.2 633.19Z" fill="#f4f3ef" stroke="#f4f3ef" stroke-width="7.31" stroke-linejoin="round"/>
<path d="M653.83 605.15L653.84 605.15L665.61 613.48L666.37 616.66L650.23 636.68L647.21 635.51Z" fill="#f4f3ef" stroke="#f4f3ef" stroke-width="6.03" stroke-linejoin="round"/>
<path d="M661.91 590.18L668.75 589.85L673.37 600.21L668 607.52L657.8 600.31Z" fill="#f4f3ef" stroke="#f4f3ef" stroke-width="4.85" stroke-linejoin="round"/>
<path d="M677.99 603.23L689.93 603.09L689.12 601.81L688.86 613.7L682.52 617.84L672.32 615.28L671.54 612.02Z" fill="#f4f3ef" stroke="#f4f3ef" stroke-width="4.58" stroke-linejoin="round"/>
<path d="M569.21 586.67L576.76 584.73L585.02 584.93L600.41 595.87L599.17 611.99L583.45 616.8L565.33 595.99Z" fill="#f4f3ef" stroke="#f4f3ef" stroke-width="6.71" stroke-linejoin="round"/>
<ellipse cx="669.26" cy="561.35" rx="1.35" ry="1.16" fill="#a87840" opacity="0.55"/>
<ellipse cx="632.55" cy="595.82" rx="1.31" ry="0.84" fill="#a87840" opacity="0.55"/>
<ellipse cx="679.09" cy="573.43" rx="1.22" ry="0.8" fill="#a87840" opacity="0.55"/>
<ellipse cx="604.31" cy="594.04" rx="1.45" ry="0.97" fill="#a87840" opacity="0.55"/>
<ellipse cx="659.97" cy="587.45" rx="1.58" ry="0.98" fill="#a87840" opacity="0.55"/>
<ellipse cx="647.47" cy="570.41" rx="1.34" ry="0.77" fill="#a87840" opacity="0.55"/>
<ellipse cx="681.2" cy="545.77" rx="1.36" ry="1.19" fill="#a87840" opacity="0.55"/>
<ellipse cx="659.21" cy="535.86" rx="1.12" ry="0.62" fill="#a87840" opacity="0.55"/>
<ellipse cx="633.88" cy="598.07" rx="1.45" ry="0.86" fill="#a87840" opacity="0.55"/>
<ellipse cx="621.31" cy="566.75" rx="1.35" ry="1.13" fill="#a87840" opacity="0.55"/>
<ellipse cx="621.08" cy="554.29" rx="1.48" ry="1.13" fill="#a87840" opacity="0.55"/>
<ellipse cx="595.91" cy="568.43" rx="1.25" ry="0.87" fill="#a87840" opacity="0.55"/>
<ellipse cx="646.09" cy="570.76" rx="1.49" ry="1.06" fill="#a87840" opacity="0.55"/>
<ellipse cx="678.37" cy="580.02" rx="1.14" ry="0.87" fill="#8c6a9e" transform="rotate(109 678.37 580.02)"/>
<ellipse cx="676.61" cy="538.79" rx="1.35" ry="0.74" fill="#6a5cae" transform="rotate(151 676.61 538.79)"/>
<ellipse cx="623.54" cy="564.06" rx="0.87" ry="0.52" fill="#6a5cae" transform="rotate(49 623.54 564.06)"/>
<ellipse cx="649.27" cy="540.48" rx="1.1" ry="0.92" fill="#8c6a9e" transform="rotate(13 649.27 540.48)"/>
<ellipse cx="670.54" cy="586.94" rx="0.9" ry="0.83" fill="#6a5cae" transform="rotate(168 670.54 586.94)"/>
<ellipse cx="654.05" cy="561.94" rx="0.79" ry="0.84" fill="#6a5cae" transform="rotate(142 654.05 561.94)"/>
<ellipse cx="592.44" cy="545.86" rx="1.29" ry="0.92" fill="#6a5cae" transform="rotate(22 592.44 545.86)"/>
<ellipse cx="624.24" cy="541.46" rx="1.25" ry="0.82" fill="#6a5cae" transform="rotate(161 624.24 541.46)"/>
<ellipse cx="597.5" cy="553.1" rx="0.72" ry="0.93" fill="#8c6a9e" transform="rotate(99 597.5 553.1)"/>
<ellipse cx="614.7" cy="589.51" rx="1.16" ry="0.59" fill="#6a5cae" transform="rotate(144 614.7 589.51)"/>
</g>
<line x1="665.7" y1="595.7" x2="680.6" y2="595.7" stroke="#111" stroke-width="1.6"/>
<text x="4.3" y="531.6" font-size="12" font-weight="bold" fill="#111">l</text>
<filter id="bl1" x="-20%" y="-60%" width="140%" height="220%"><feGaussianBlur stdDeviation="0.9"/></filter>
<filter id="bl2" x="-20%" y="-60%" width="140%" height="220%"><feGaussianBlur stdDeviation="1.6"/></filter>
<text x="93.5" y="540" font-size="6.6" text-anchor="middle" fill="#222">NC</text>
<text x="134.5" y="540" font-size="6.6" text-anchor="middle" fill="#222">HFD</text>
<text x="174.2" y="540" font-size="6.6" text-anchor="middle" fill="#222">HFD+Rhein</text>
<line x1="74.4" y1="542.2" x2="112.6" y2="542.2" stroke="#333" stroke-width="0.9"/>
<line x1="114.6" y1="542.2" x2="153.8" y2="542.2" stroke="#333" stroke-width="0.9"/>
<line x1="155.6" y1="542.2" x2="194" y2="542.2" stroke="#333" stroke-width="0.9"/>
<rect x="73.3" y="546.6" width="121.3" height="22.9" fill="#dadada" stroke="#2a2a2a" stroke-width="1.1"/>
<rect x="78.5" y="555.6" width="19" height="7" rx="3" fill="#000" filter="url(#bl1)"/>
<rect x="100.4" y="555.7" width="15.5" height="6.8" rx="3" fill="#050505" filter="url(#bl1)"/>
<rect x="120.3" y="557.5" width="13.3" height="4" rx="2" fill="#cfcfcf" filter="url(#bl1)"/>
<rect x="139.3" y="557" width="14.2" height="4" rx="2" fill="#c6c6c6" filter="url(#bl1)"/>
<rect x="159.2" y="556.2" width="14.8" height="4.2" rx="2.1" fill="#444" filter="url(#bl1)"/>
<rect x="178.2" y="556.2" width="13.3" height="4.2" rx="2.1" fill="#4a4a4a" filter="url(#bl1)"/>
<rect x="73.3" y="572.8" width="121.3" height="22.7" fill="#d4d4d4" stroke="#2a2a2a" stroke-width="1.1"/>
<rect x="77.6" y="583.7" width="17.1" height="4.8" rx="2.4" fill="#080808" filter="url(#bl1)"/>
<rect x="98.8" y="583.7" width="15.8" height="4.6" rx="2.3" fill="#0c0c0c" filter="url(#bl1)"/>
<rect x="117.4" y="583.3" width="16.2" height="5.6" rx="2.8" fill="#080808" filter="url(#bl1)"/>
<rect x="138" y="583.3" width="15.5" height="4.4" rx="2.2" fill="#101010" filter="url(#bl1)"/>
<rect x="159.6" y="582.6" width="12.9" height="4" rx="2" fill="#151515" filter="url(#bl1)"/>
<rect x="177.8" y="581.4" width="14" height="4.6" rx="2.3" fill="#0a0a0a" filter="url(#bl1)"/>
<rect x="73.3" y="601.7" width="121.3" height="22.1" fill="#dedede" stroke="#2a2a2a" stroke-width="1.1"/>
<rect x="79" y="606" width="20" height="12" rx="3" fill="#c4c4c4" filter="url(#bl2)"/>
<rect x="99" y="607" width="19" height="11" rx="3" fill="#cdcdcd" filter="url(#bl2)"/>
<rect x="81.1" y="609.5" width="15.6" height="7" rx="3" fill="#3a3a3a" filter="url(#bl2)"/>
<rect x="82" y="614" width="14.7" height="4" rx="2" fill="#050505" filter="url(#bl2)"/>
<rect x="100.2" y="611.2" width="16.4" height="6" rx="3" fill="#8e8e8e" filter="url(#bl2)"/>
<rect x="121.6" y="612.9" width="12.9" height="4.2" rx="2.1" fill="#bcbcbc" filter="url(#bl2)"/>
<rect x="139" y="612.2" width="13.3" height="4.6" rx="2.3" fill="#b6b6b6" filter="url(#bl2)"/>
<rect x="158" y="611.7" width="15" height="5" rx="2.5" fill="#a8a8a8" filter="url(#bl2)"/>
<rect x="176.7" y="611.9" width="14.3" height="4.6" rx="2.3" fill="#b8b8b8" filter="url(#bl2)"/>
<rect x="73.3" y="627.1" width="121.3" height="22.6" fill="#d2d2d2" stroke="#2a2a2a" stroke-width="1.1"/>
<rect x="81.1" y="640" width="14.9" height="3.4" rx="1.7" fill="#0a0a0a" filter="url(#bl1)"/>
<rect x="101" y="639.3" width="14.1" height="3.2" rx="1.6" fill="#101010" filter="url(#bl1)"/>
<rect x="122.5" y="638.6" width="11.5" height="3.2" rx="1.6" fill="#0c0c0c" filter="url(#bl1)"/>
<rect x="139.4" y="637.7" width="11.2" height="3" rx="1.5" fill="#151515" filter="url(#bl1)"/>
<rect x="158" y="637" width="13.7" height="2.8" rx="1.4" fill="#1a1a1a" filter="url(#bl1)"/>
<rect x="178.6" y="636.2" width="13.4" height="3" rx="1.5" fill="#0c0c0c" filter="url(#bl1)"/>
<text x="70.6" y="549.8" font-size="6.6" text-anchor="end" fill="#222">37</text>
<line x1="70.8" y1="547.5" x2="73.3" y2="547.5" stroke="#222" stroke-width="0.9"/>
<text x="70.6" y="581.7" font-size="6.6" text-anchor="end" fill="#222">50</text>
<line x1="70.8" y1="579.4" x2="73.3" y2="579.4" stroke="#222" stroke-width="0.9"/>
<text x="70.6" y="596.5" font-size="6.6" text-anchor="end" fill="#222">37</text>
<line x1="70.8" y1="594.2" x2="73.3" y2="594.2" stroke="#222" stroke-width="0.9"/>
<text x="70.6" y="603.7" font-size="6.6" text-anchor="end" fill="#222">37</text>
<line x1="70.8" y1="601.4" x2="73.3" y2="601.4" stroke="#222" stroke-width="0.9"/>
<text x="70.6" y="636.6" font-size="6.6" text-anchor="end" fill="#222">50</text>
<line x1="70.8" y1="634.3" x2="73.3" y2="634.3" stroke="#222" stroke-width="0.9"/>
<text x="70.6" y="651.6" font-size="6.6" text-anchor="end" fill="#222">37</text>
<line x1="70.8" y1="649.3" x2="73.3" y2="649.3" stroke="#222" stroke-width="0.9"/>
<text x="34" y="562" font-size="7.6" fill="#222">UCP1</text>
<text x="34" y="590.2" font-size="7.6" fill="#222">&#946;-Actin</text>
<text x="34" y="616.7" font-size="7.6" fill="#222">UCP1</text>
<text x="34" y="644.7" font-size="7.6" fill="#222">&#946;-Actin</text>
<text x="197.8" y="561.8" font-size="7.7" fill="#222">33kDa</text>
<text x="197.8" y="589.6" font-size="7.7" fill="#222">43kDa</text>
<text x="197.8" y="616.2" font-size="7.7" fill="#222">33kDa</text>
<text x="197.8" y="643.7" font-size="7.7" fill="#222">43kDa</text>
<line x1="28.5" y1="547.2" x2="28.5" y2="595.6" stroke="#333" stroke-width="1"/>
<line x1="28.5" y1="604.1" x2="28.5" y2="652.9" stroke="#333" stroke-width="1"/>
<text font-size="8.3" text-anchor="middle" fill="#222" transform="translate(26 572.5) rotate(-90)">iWAT 4<tspan dx="-0.5">°</tspan><tspan dx="-0.6">C</tspan></text>
<text font-size="8.3" text-anchor="middle" fill="#222" transform="translate(26 628.5) rotate(-90)">eWAT 4<tspan dx="-0.5">°</tspan><tspan dx="-0.6">C</tspan></text>
</svg>
</body></html>
